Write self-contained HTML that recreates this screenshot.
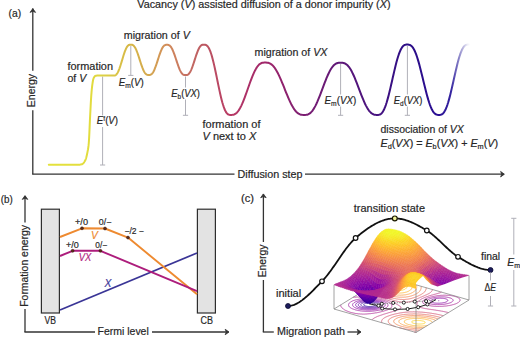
<!DOCTYPE html><html><head><meta charset="utf-8"><style>html,body{margin:0;padding:0;background:#fff;}svg{display:block;}</style></head><body><svg width="520" height="337" viewBox="0 0 520 337" font-family="Liberation Sans, sans-serif">
<rect width="520" height="337" fill="#ffffff"/>
<text x="8.6" y="17.2" font-size="10.3" fill="#262626" stroke="#262626" stroke-width="0.18" text-anchor="start" textLength="12.6" lengthAdjust="spacingAndGlyphs" >(a)</text>
<text x="137.3" y="8.0" font-size="10.3" fill="#262626" stroke="#262626" stroke-width="0.18" text-anchor="start" textLength="253.2" lengthAdjust="spacingAndGlyphs" >Vacancy (<tspan font-style="italic">V</tspan>) assisted diffusion of a donor impurity (<tspan font-style="italic">X</tspan>)</text>
<line x1="32.8" y1="174.2" x2="32.8" y2="110.3" stroke="#333333" stroke-width="1.3" />
<line x1="32.8" y1="70.8" x2="32.8" y2="8.6" stroke="#333333" stroke-width="1.3" />
<path d="M30.049999999999997,12.399999999999999 L32.8,8.6 L35.55,12.399999999999999 L32.8,11.3 Z" fill="#333333" stroke="#333333" stroke-width="0.8" stroke-linejoin="round"/>
<text transform="translate(34.9,107.2) rotate(-90)" x="0" y="0" font-size="10.3" fill="#262626" stroke="#262626" stroke-width="0.18" textLength="33.3" lengthAdjust="spacingAndGlyphs">Energy</text>
<line x1="32.2" y1="174.2" x2="234.5" y2="174.2" stroke="#333333" stroke-width="1.3" />
<line x1="305" y1="174.2" x2="503.6" y2="174.2" stroke="#333333" stroke-width="1.3" />
<path d="M500.59999999999997,171.45 L504.4,174.2 L500.59999999999997,176.95 L501.7,174.2 Z" fill="#333333" stroke="#333333" stroke-width="0.8" stroke-linejoin="round"/>
<text x="237.5" y="177.6" font-size="10.3" fill="#262626" stroke="#262626" stroke-width="0.18" text-anchor="start" textLength="65" lengthAdjust="spacingAndGlyphs" >Diffusion step</text>
<defs><linearGradient id="eg" gradientUnits="userSpaceOnUse" x1="48" y1="0" x2="470" y2="0"><stop offset="0.0024" stop-color="#e4e23c"/><stop offset="0.0995" stop-color="#e2dc3e"/><stop offset="0.1351" stop-color="#dccf46"/><stop offset="0.1943" stop-color="#d6b646"/><stop offset="0.2393" stop-color="#d4a850"/><stop offset="0.2820" stop-color="#d28c5a"/><stop offset="0.3246" stop-color="#c67262"/><stop offset="0.3697" stop-color="#bc5862"/><stop offset="0.4313" stop-color="#b83a64"/><stop offset="0.5142" stop-color="#a0266a"/><stop offset="0.6066" stop-color="#7c1e72"/><stop offset="0.6919" stop-color="#5e1878"/><stop offset="0.7796" stop-color="#461280"/><stop offset="0.8507" stop-color="#2c0e86"/><stop offset="0.9265" stop-color="#2a0e94"/><stop offset="0.9550" stop-color="#3424a0"/><stop offset="0.9739" stop-color="#8a84c8"/><stop offset="0.9953" stop-color="#f4f4fa"/></linearGradient></defs>
<line x1="102.6" y1="76.5" x2="102.6" y2="115.4" stroke="#b0b0b8" stroke-width="1.0" />
<line x1="102.6" y1="127" x2="102.6" y2="165" stroke="#b0b0b8" stroke-width="1.0" />
<line x1="100.0" y1="165" x2="105.19999999999999" y2="165" stroke="#b0b0b8" stroke-width="1.0" />
<line x1="130.8" y1="46" x2="130.8" y2="75.4" stroke="#b0b0b8" stroke-width="1.0" />
<line x1="128.20000000000002" y1="75.4" x2="133.4" y2="75.4" stroke="#b0b0b8" stroke-width="1.0" />
<line x1="185.5" y1="76.5" x2="185.5" y2="87.5" stroke="#b0b0b8" stroke-width="1.0" />
<line x1="185.5" y1="99.5" x2="185.5" y2="115.3" stroke="#b0b0b8" stroke-width="1.0" />
<line x1="182.9" y1="115.3" x2="188.1" y2="115.3" stroke="#b0b0b8" stroke-width="1.0" />
<line x1="340.6" y1="64" x2="340.6" y2="94.5" stroke="#b0b0b8" stroke-width="1.0" />
<line x1="340.6" y1="106.5" x2="340.6" y2="115.3" stroke="#b0b0b8" stroke-width="1.0" />
<line x1="338.0" y1="115.3" x2="343.20000000000005" y2="115.3" stroke="#b0b0b8" stroke-width="1.0" />
<line x1="407.4" y1="46" x2="407.4" y2="94.5" stroke="#b0b0b8" stroke-width="1.0" />
<line x1="407.4" y1="106.5" x2="407.4" y2="115.3" stroke="#b0b0b8" stroke-width="1.0" />
<line x1="404.79999999999995" y1="115.3" x2="410.0" y2="115.3" stroke="#b0b0b8" stroke-width="1.0" />
<path d="M48.80,164.80 L49.05,164.80 L49.30,164.80 L49.55,164.80 L49.80,164.80 L50.05,164.80 L50.30,164.80 L50.55,164.80 L50.80,164.80 L51.05,164.80 L51.30,164.80 L51.55,164.80 L51.80,164.80 L52.05,164.80 L52.30,164.80 L52.55,164.80 L52.80,164.80 L53.05,164.80 L53.30,164.80 L53.55,164.80 L53.80,164.80 L54.05,164.80 L54.30,164.80 L54.55,164.80 L54.80,164.80 L55.05,164.80 L55.29,164.80 L55.54,164.80 L55.79,164.80 L56.04,164.80 L56.29,164.80 L56.54,164.80 L56.79,164.80 L57.04,164.80 L57.29,164.80 L57.54,164.80 L57.79,164.80 L58.04,164.80 L58.29,164.80 L58.54,164.80 L58.79,164.80 L59.04,164.80 L59.29,164.80 L59.54,164.80 L59.79,164.80 L60.04,164.80 L60.29,164.80 L60.54,164.80 L60.79,164.80 L61.04,164.80 L61.29,164.80 L61.54,164.80 L61.79,164.80 L62.04,164.80 L62.29,164.80 L62.54,164.80 L62.79,164.80 L63.04,164.80 L63.29,164.80 L63.54,164.80 L63.79,164.80 L64.04,164.80 L64.29,164.80 L64.54,164.80 L64.79,164.80 L65.04,164.80 L65.29,164.80 L65.54,164.80 L65.79,164.80 L66.04,164.80 L66.29,164.80 L66.54,164.80 L66.79,164.80 L67.04,164.80 L67.29,164.80 L67.54,164.80 L67.79,164.80 L68.04,164.80 L68.28,164.80 L68.53,164.80 L68.78,164.80 L69.03,164.80 L69.28,164.80 L69.53,164.80 L69.78,164.80 L70.03,164.80 L70.28,164.80 L70.53,164.80 L70.78,164.80 L71.03,164.80 L71.28,164.80 L71.53,164.80 L71.78,164.80 L72.03,164.80 L72.28,164.80 L72.53,164.80 L72.78,164.80 L73.03,164.80 L73.28,164.80 L73.53,164.80 L73.78,164.80 L74.03,164.80 L74.28,164.80 L74.53,164.80 L74.78,164.80 L75.03,164.80 L75.28,164.80 L75.53,164.80 L75.78,164.80 L76.03,164.80 L76.28,164.80 L76.53,164.80 L76.78,164.80 L77.03,164.80 L77.28,164.80 L77.53,164.80 L77.78,164.80 L78.03,164.80 L78.28,164.80 L78.53,164.79 L78.78,164.77 L79.03,164.76 L79.28,164.73 L79.53,164.70 L79.78,164.67 L80.03,164.63 L80.28,164.59 L80.53,164.55 L80.78,164.50 L81.03,164.44 L81.27,164.38 L81.52,164.32 L81.77,164.26 L82.02,164.19 L82.27,164.10 L82.52,163.96 L82.77,163.78 L83.02,163.57 L83.27,163.32 L83.52,163.03 L83.77,162.71 L84.02,162.37 L84.27,161.99 L84.52,161.59 L84.77,161.16 L85.02,160.71 L85.27,160.25 L85.52,159.75 L85.77,159.12 L86.02,158.36 L86.27,157.48 L86.52,156.51 L86.77,155.45 L87.02,154.32 L87.27,153.13 L87.52,151.90 L87.77,150.62 L88.02,149.22 L88.27,147.59 L88.52,145.65 L88.77,143.26 L89.02,139.63 L89.27,134.84 L89.52,129.36 L89.77,123.63 L90.02,118.12 L90.27,113.22 L90.52,108.41 L90.77,103.64 L91.02,99.21 L91.27,95.43 L91.52,92.31 L91.77,89.51 L92.02,87.07 L92.27,85.04 L92.52,83.32 L92.77,81.73 L93.02,80.34 L93.27,79.23 L93.52,78.46 L93.77,77.90 L94.02,77.40 L94.26,76.96 L94.51,76.59 L94.76,76.30 L95.01,76.10 L95.26,75.98 L95.51,75.88 L95.76,75.80 L96.01,75.73 L96.26,75.68 L96.51,75.63 L96.76,75.61 L97.01,75.60 L97.26,75.60 L97.51,75.60 L97.76,75.60 L98.01,75.60 L98.26,75.60 L98.51,75.60 L98.76,75.60 L99.01,75.60 L99.26,75.60 L99.51,75.60 L99.76,75.60 L100.01,75.60 L100.26,75.60 L100.51,75.60 L100.76,75.60 L101.01,75.60 L101.26,75.60 L101.51,75.60 L101.76,75.60 L102.01,75.60 L102.26,75.60 L102.51,75.60 L102.76,75.60 L103.01,75.60 L103.26,75.60 L103.51,75.60 L103.76,75.60 L104.01,75.60 L104.26,75.60 L104.51,75.60 L104.76,75.60 L105.01,75.60 L105.26,75.60 L105.51,75.60 L105.76,75.60 L106.01,75.60 L106.26,75.60 L106.51,75.60 L106.76,75.60 L107.01,75.60 L107.25,75.60 L107.50,75.60 L107.75,75.60 L108.00,75.60 L108.25,75.60 L108.50,75.60 L108.75,75.60 L109.00,75.60 L109.25,75.60 L109.50,75.60 L109.75,75.60 L110.00,75.60 L110.25,75.60 L110.50,75.60 L110.75,75.60 L111.00,75.60 L111.25,75.60 L111.50,75.60 L111.75,75.60 L112.00,75.60 L112.25,75.60 L112.50,75.60 L112.75,75.60 L113.00,75.60 L113.25,75.60 L113.50,75.60 L113.94,75.59 L114.38,75.56 L114.82,75.48 L115.26,75.32 L115.71,75.07 L116.15,74.72 L116.59,74.26 L117.03,73.69 L117.47,73.00 L117.91,72.19 L118.35,71.27 L118.79,70.24 L119.23,69.11 L119.67,67.90 L120.12,66.60 L120.56,65.24 L121.00,63.82 L121.44,62.37 L121.88,60.89 L122.32,59.41 L122.76,57.93 L123.20,56.48 L123.64,55.06 L124.08,53.70 L124.53,52.40 L124.97,51.19 L125.41,50.06 L125.85,49.03 L126.29,48.11 L126.73,47.30 L127.17,46.61 L127.61,46.04 L128.05,45.58 L128.49,45.23 L128.94,44.98 L129.38,44.82 L129.82,44.74 L130.26,44.71 L130.70,44.70 L131.16,44.70 L131.63,44.74 L132.09,44.82 L132.56,44.98 L133.02,45.22 L133.48,45.56 L133.95,46.01 L134.41,46.58 L134.88,47.25 L135.34,48.04 L135.81,48.95 L136.27,49.95 L136.73,51.06 L137.20,52.25 L137.66,53.52 L138.13,54.86 L138.59,56.25 L139.05,57.67 L139.52,59.12 L139.98,60.58 L140.45,62.03 L140.91,63.45 L141.37,64.84 L141.84,66.18 L142.30,67.45 L142.77,68.64 L143.23,69.75 L143.69,70.75 L144.16,71.66 L144.62,72.45 L145.09,73.12 L145.55,73.69 L146.02,74.14 L146.48,74.48 L146.94,74.72 L147.41,74.88 L147.87,74.96 L148.34,75.00 L148.80,75.00 L149.26,75.00 L149.73,74.96 L150.19,74.88 L150.66,74.72 L151.12,74.48 L151.58,74.14 L152.05,73.69 L152.51,73.13 L152.98,72.45 L153.44,71.67 L153.91,70.77 L154.37,69.76 L154.83,68.66 L155.30,67.47 L155.76,66.21 L156.23,64.87 L156.69,63.49 L157.15,62.07 L157.62,60.63 L158.08,59.17 L158.55,57.73 L159.01,56.31 L159.47,54.93 L159.94,53.59 L160.40,52.33 L160.87,51.14 L161.33,50.04 L161.79,49.03 L162.26,48.13 L162.72,47.35 L163.19,46.67 L163.65,46.11 L164.12,45.66 L164.58,45.32 L165.04,45.08 L165.51,44.92 L165.97,44.84 L166.44,44.80 L166.90,44.80 L167.38,44.80 L167.86,44.84 L168.34,44.92 L168.82,45.08 L169.30,45.32 L169.78,45.66 L170.26,46.11 L170.74,46.68 L171.22,47.35 L171.69,48.14 L172.17,49.05 L172.65,50.05 L173.13,51.16 L173.61,52.35 L174.09,53.62 L174.57,54.96 L175.05,56.35 L175.53,57.77 L176.01,59.22 L176.49,60.68 L176.97,62.13 L177.45,63.55 L177.93,64.94 L178.41,66.28 L178.89,67.55 L179.37,68.74 L179.85,69.85 L180.33,70.85 L180.81,71.76 L181.28,72.55 L181.76,73.22 L182.24,73.79 L182.72,74.24 L183.20,74.58 L183.68,74.82 L184.16,74.98 L184.64,75.06 L185.12,75.10 L185.60,75.10 L186.07,75.10 L186.53,75.06 L187.00,74.98 L187.47,74.82 L187.93,74.58 L188.40,74.23 L188.87,73.78 L189.33,73.22 L189.80,72.54 L190.27,71.74 L190.73,70.84 L191.20,69.83 L191.67,68.72 L192.13,67.52 L192.60,66.25 L193.07,64.91 L193.53,63.51 L194.00,62.08 L194.47,60.63 L194.93,59.17 L195.40,57.72 L195.87,56.29 L196.33,54.89 L196.80,53.55 L197.27,52.28 L197.73,51.08 L198.20,49.97 L198.67,48.96 L199.13,48.06 L199.60,47.26 L200.07,46.58 L200.53,46.02 L201.00,45.57 L201.47,45.22 L201.93,44.98 L202.40,44.82 L202.87,44.74 L203.33,44.70 L203.80,44.70 L204.49,44.71 L205.18,44.79 L205.87,44.98 L206.56,45.35 L207.25,45.91 L207.94,46.70 L208.63,47.74 L209.32,49.05 L210.01,50.62 L210.70,52.45 L211.39,54.54 L212.08,56.87 L212.77,59.43 L213.46,62.20 L214.15,65.14 L214.84,68.24 L215.53,71.45 L216.22,74.76 L216.91,78.11 L217.59,81.49 L218.28,84.84 L218.97,88.15 L219.66,91.36 L220.35,94.46 L221.04,97.40 L221.73,100.17 L222.42,102.73 L223.11,105.06 L223.80,107.15 L224.49,108.98 L225.18,110.55 L225.87,111.86 L226.56,112.90 L227.25,113.69 L227.94,114.25 L228.63,114.62 L229.32,114.81 L230.01,114.89 L230.70,114.90 L231.58,114.89 L232.46,114.83 L233.34,114.69 L234.22,114.42 L235.10,114.00 L235.98,113.41 L236.86,112.63 L237.74,111.66 L238.62,110.49 L239.49,109.13 L240.37,107.57 L241.25,105.83 L242.13,103.92 L243.01,101.86 L243.89,99.67 L244.77,97.36 L245.65,94.97 L246.53,92.51 L247.41,90.01 L248.29,87.49 L249.17,84.99 L250.05,82.53 L250.93,80.14 L251.81,77.83 L252.69,75.64 L253.57,73.58 L254.45,71.67 L255.33,69.93 L256.21,68.37 L257.08,67.01 L257.96,65.84 L258.84,64.87 L259.72,64.09 L260.60,63.50 L261.48,63.08 L262.36,62.81 L263.24,62.67 L264.12,62.61 L265.00,62.60 L266.01,62.61 L267.01,62.67 L268.02,62.81 L269.02,63.08 L270.03,63.50 L271.03,64.09 L272.04,64.87 L273.04,65.84 L274.05,67.01 L275.05,68.37 L276.06,69.93 L277.06,71.67 L278.07,73.58 L279.07,75.64 L280.08,77.83 L281.08,80.14 L282.09,82.53 L283.09,84.99 L284.10,87.49 L285.10,90.01 L286.11,92.51 L287.11,94.97 L288.12,97.36 L289.12,99.67 L290.13,101.86 L291.13,103.92 L292.14,105.83 L293.14,107.57 L294.15,109.13 L295.15,110.49 L296.16,111.66 L297.16,112.63 L298.17,113.41 L299.17,114.00 L300.18,114.42 L301.18,114.69 L302.19,114.83 L303.19,114.89 L304.20,114.90 L305.13,114.89 L306.07,114.84 L307.00,114.69 L307.93,114.42 L308.87,114.00 L309.80,113.41 L310.73,112.64 L311.67,111.67 L312.60,110.51 L313.53,109.15 L314.47,107.60 L315.40,105.87 L316.33,103.97 L317.27,101.91 L318.20,99.73 L319.13,97.43 L320.07,95.04 L321.00,92.59 L321.93,90.10 L322.87,87.60 L323.80,85.11 L324.73,82.66 L325.67,80.27 L326.60,77.97 L327.53,75.79 L328.47,73.73 L329.40,71.83 L330.33,70.10 L331.27,68.55 L332.20,67.19 L333.13,66.03 L334.07,65.06 L335.00,64.29 L335.93,63.70 L336.87,63.28 L337.80,63.01 L338.73,62.86 L339.67,62.81 L340.60,62.80 L341.54,62.81 L342.49,62.86 L343.43,63.01 L344.37,63.28 L345.32,63.70 L346.26,64.29 L347.21,65.06 L348.15,66.03 L349.09,67.19 L350.04,68.55 L350.98,70.10 L351.92,71.83 L352.87,73.73 L353.81,75.79 L354.75,77.97 L355.70,80.27 L356.64,82.66 L357.58,85.11 L358.53,87.60 L359.47,90.10 L360.42,92.59 L361.36,95.04 L362.30,97.43 L363.25,99.73 L364.19,101.91 L365.13,103.97 L366.08,105.87 L367.02,107.60 L367.96,109.15 L368.91,110.51 L369.85,111.67 L370.79,112.64 L371.74,113.41 L372.68,114.00 L373.63,114.42 L374.57,114.69 L375.51,114.84 L376.46,114.89 L377.40,114.90 L378.16,114.89 L378.93,114.81 L379.69,114.62 L380.46,114.25 L381.22,113.69 L381.98,112.89 L382.75,111.85 L383.51,110.55 L384.28,108.98 L385.04,107.14 L385.81,105.05 L386.57,102.71 L387.33,100.15 L388.10,97.38 L388.86,94.43 L389.63,91.33 L390.39,88.11 L391.15,84.80 L391.92,81.44 L392.68,78.06 L393.45,74.70 L394.21,71.39 L394.97,68.17 L395.74,65.07 L396.50,62.12 L397.27,59.35 L398.03,56.79 L398.79,54.45 L399.56,52.36 L400.32,50.52 L401.09,48.95 L401.85,47.65 L402.62,46.61 L403.38,45.81 L404.14,45.25 L404.91,44.88 L405.67,44.69 L406.44,44.61 L407.20,44.60 L408.02,44.61 L408.83,44.69 L409.65,44.88 L410.46,45.25 L411.28,45.81 L412.09,46.61 L412.91,47.65 L413.72,48.95 L414.54,50.52 L415.35,52.36 L416.17,54.45 L416.98,56.79 L417.80,59.35 L418.62,62.12 L419.43,65.07 L420.25,68.17 L421.06,71.39 L421.88,74.70 L422.69,78.06 L423.51,81.44 L424.32,84.80 L425.14,88.11 L425.95,91.33 L426.77,94.43 L427.58,97.38 L428.40,100.15 L429.22,102.71 L430.03,105.05 L430.85,107.14 L431.66,108.98 L432.48,110.55 L433.29,111.85 L434.11,112.89 L434.92,113.69 L435.74,114.25 L436.55,114.62 L437.37,114.81 L438.18,114.89 L439.00,114.90 L439.76,114.89 L440.51,114.81 L441.27,114.62 L442.03,114.25 L442.78,113.69 L443.54,112.89 L444.29,111.85 L445.05,110.55 L445.81,108.98 L446.56,107.14 L447.32,105.05 L448.08,102.71 L448.83,100.15 L449.59,97.38 L450.35,94.43 L451.10,91.33 L451.86,88.11 L452.62,84.80 L453.37,81.44 L454.13,78.06 L454.88,74.70 L455.64,71.39 L456.40,68.17 L457.15,65.07 L457.91,62.12 L458.67,59.35 L459.42,56.79 L460.18,54.45 L460.94,52.36 L461.69,50.52 L462.45,48.95 L463.21,47.65 L463.96,46.61 L464.72,45.81 L465.47,45.25 L466.23,44.88 L466.99,44.69 L467.74,44.61 L468.50,44.60" fill="none" stroke="url(#eg)" stroke-width="2.0" stroke-linejoin="round" stroke-linecap="round"/>
<text x="67.5" y="70.1" font-size="10.3" fill="#262626" stroke="#262626" stroke-width="0.18" text-anchor="start" textLength="45.5" lengthAdjust="spacingAndGlyphs" >formation</text>
<text x="67.5" y="81.5" font-size="10.3" fill="#262626" stroke="#262626" stroke-width="0.18" text-anchor="start" textLength="18.8" lengthAdjust="spacingAndGlyphs" >of <tspan font-style="italic">V</tspan></text>
<text x="123.8" y="38.9" font-size="10.3" fill="#262626" stroke="#262626" stroke-width="0.18" text-anchor="start" textLength="66" lengthAdjust="spacingAndGlyphs" >migration of <tspan font-style="italic">V</tspan></text>
<text x="118.8" y="86.4" font-size="10.3" fill="#262626" stroke="#262626" stroke-width="0.18" text-anchor="start" textLength="25" lengthAdjust="spacingAndGlyphs" ><tspan font-style="italic">E</tspan><tspan font-size="7" dy="2">m</tspan><tspan dy="-2">(</tspan><tspan font-style="italic">V</tspan>)</text>
<text x="96.8" y="124.3" font-size="10.3" fill="#262626" stroke="#262626" stroke-width="0.18" text-anchor="start" textLength="21.3" lengthAdjust="spacingAndGlyphs" ><tspan font-style="italic">E</tspan><tspan font-size="7" dy="-3.5">f</tspan><tspan dy="3.5">(</tspan><tspan font-style="italic">V</tspan>)</text>
<text x="171.3" y="97.4" font-size="10.3" fill="#262626" stroke="#262626" stroke-width="0.18" text-anchor="start" textLength="28.7" lengthAdjust="spacingAndGlyphs" ><tspan font-style="italic">E</tspan><tspan font-size="7" dy="2">b</tspan><tspan dy="-2">(</tspan><tspan font-style="italic">VX</tspan>)</text>
<text x="202.5" y="128.2" font-size="10.3" fill="#262626" stroke="#262626" stroke-width="0.18" text-anchor="start" textLength="58" lengthAdjust="spacingAndGlyphs" >formation of</text>
<text x="202.5" y="140.2" font-size="10.3" fill="#262626" stroke="#262626" stroke-width="0.18" text-anchor="start" textLength="53.8" lengthAdjust="spacingAndGlyphs" ><tspan font-style="italic">V</tspan> next to <tspan font-style="italic">X</tspan></text>
<text x="254.5" y="55.9" font-size="10.3" fill="#262626" stroke="#262626" stroke-width="0.18" text-anchor="start" textLength="73" lengthAdjust="spacingAndGlyphs" >migration of <tspan font-style="italic">VX</tspan></text>
<text x="324.5" y="104.4" font-size="10.3" fill="#262626" stroke="#262626" stroke-width="0.18" text-anchor="start" textLength="31.8" lengthAdjust="spacingAndGlyphs" ><tspan font-style="italic">E</tspan><tspan font-size="7" dy="2">m</tspan><tspan dy="-2">(</tspan><tspan font-style="italic">VX</tspan>)</text>
<text x="393.8" y="104.4" font-size="10.3" fill="#262626" stroke="#262626" stroke-width="0.18" text-anchor="start" textLength="28.7" lengthAdjust="spacingAndGlyphs" ><tspan font-style="italic">E</tspan><tspan font-size="7" dy="2">d</tspan><tspan dy="-2">(</tspan><tspan font-style="italic">VX</tspan>)</text>
<text x="380.5" y="133.1" font-size="10.3" fill="#262626" stroke="#262626" stroke-width="0.18" text-anchor="start" textLength="83.3" lengthAdjust="spacingAndGlyphs" >dissociation of <tspan font-style="italic">VX</tspan></text>
<text x="380.5" y="146.6" font-size="10.3" fill="#262626" stroke="#262626" stroke-width="0.18" text-anchor="start" textLength="117.5" lengthAdjust="spacingAndGlyphs" ><tspan font-style="italic">E</tspan><tspan font-size="7" dy="2">d</tspan><tspan dy="-2">(</tspan><tspan font-style="italic">VX</tspan>) = <tspan font-style="italic">E</tspan><tspan font-size="7" dy="2">b</tspan><tspan dy="-2">(</tspan><tspan font-style="italic">VX</tspan>) + <tspan font-style="italic">E</tspan><tspan font-size="7" dy="2">m</tspan><tspan dy="-2">(</tspan><tspan font-style="italic">V</tspan>)</text>
<text x="0.8" y="203" font-size="10.3" fill="#262626" stroke="#262626" stroke-width="0.18" text-anchor="start" textLength="12" lengthAdjust="spacingAndGlyphs" >(b)</text>
<line x1="25" y1="332" x2="25" y2="309" stroke="#333333" stroke-width="1.3" />
<line x1="25" y1="222.5" x2="25" y2="196" stroke="#333333" stroke-width="1.3" />
<path d="M22.25,199.4 L25,195.6 L27.75,199.4 L25,198.29999999999998 Z" fill="#333333" stroke="#333333" stroke-width="0.8" stroke-linejoin="round"/>
<text transform="translate(27.5,306.8) rotate(-90)" x="0" y="0" font-size="10.3" fill="#262626" stroke="#262626" stroke-width="0.18" textLength="81.80000000000001" lengthAdjust="spacingAndGlyphs">Formation energy</text>
<line x1="24.4" y1="332" x2="95" y2="332" stroke="#333333" stroke-width="1.3" />
<text x="97.5" y="335.4" font-size="10.3" fill="#262626" stroke="#262626" stroke-width="0.18" text-anchor="start" textLength="51.3" lengthAdjust="spacingAndGlyphs" >Fermi level</text>
<line x1="152" y1="332" x2="228.6" y2="332" stroke="#333333" stroke-width="1.3" />
<path d="M225.2,329.25 L229,332 L225.2,334.75 L226.3,332 Z" fill="#333333" stroke="#333333" stroke-width="0.8" stroke-linejoin="round"/>
<rect x="41.4" y="209.2" width="18" height="103.8" fill="#e3e3e3" stroke="#2e2e2e" stroke-width="1.2"/>
<rect x="197.4" y="209.2" width="18" height="103.8" fill="#e3e3e3" stroke="#2e2e2e" stroke-width="1.2"/>
<text x="44.5" y="324" font-size="10.3" fill="#262626" stroke="#262626" stroke-width="0.18" text-anchor="start" textLength="11.5" lengthAdjust="spacingAndGlyphs" >VB</text>
<text x="200.5" y="324" font-size="10.3" fill="#262626" stroke="#262626" stroke-width="0.18" text-anchor="start" textLength="12.5" lengthAdjust="spacingAndGlyphs" >CB</text>
<polyline points="60,310 197,253" fill="none" stroke="#3a3596" stroke-width="1.7"/>
<polyline points="60,237 82,228.3 105,228.5 128,237.6 197,294.2" fill="none" stroke="#ee8a30" stroke-width="1.9" stroke-linejoin="round"/>
<polyline points="60,256 72.6,250.8 100.4,250.8 197,291.2" fill="none" stroke="#ad1d7c" stroke-width="1.9" stroke-linejoin="round"/>
<circle cx="82" cy="228.3" r="1.5" fill="#5a2a1a" stroke="#3a1a10" stroke-width="0.5"/>
<circle cx="105" cy="228.5" r="1.5" fill="#5a2a1a" stroke="#3a1a10" stroke-width="0.5"/>
<circle cx="128" cy="237.6" r="1.5" fill="#5a2a1a" stroke="#3a1a10" stroke-width="0.5"/>
<circle cx="72.6" cy="250.8" r="1.5" fill="#5a2a1a" stroke="#3a1a10" stroke-width="0.5"/>
<circle cx="100.4" cy="250.8" r="1.5" fill="#5a2a1a" stroke="#3a1a10" stroke-width="0.5"/>
<text x="75" y="224.6" font-size="8.7" fill="#262626" stroke="#262626" stroke-width="0.18" text-anchor="start" textLength="13" lengthAdjust="spacingAndGlyphs" >+/0</text>
<text x="98.8" y="224.6" font-size="8.7" fill="#262626" stroke="#262626" stroke-width="0.18" text-anchor="start" textLength="12.5" lengthAdjust="spacingAndGlyphs" >0/−</text>
<text x="65.9" y="247.6" font-size="8.7" fill="#262626" stroke="#262626" stroke-width="0.18" text-anchor="start" textLength="12.8" lengthAdjust="spacingAndGlyphs" >+/0</text>
<text x="95.3" y="247.6" font-size="8.7" fill="#262626" stroke="#262626" stroke-width="0.18" text-anchor="start" textLength="11.8" lengthAdjust="spacingAndGlyphs" >0/−</text>
<text x="124.5" y="233.8" font-size="8.7" fill="#262626" stroke="#262626" stroke-width="0.18" text-anchor="start" textLength="19.3" lengthAdjust="spacingAndGlyphs" >−/2 −</text>
<text x="91.0" y="238.9" font-size="10.3" fill="#ee8a30" stroke="#ee8a30" stroke-width="0.18" text-anchor="start" font-style="italic">V</text>
<text x="78.8" y="261" font-size="10.3" fill="#b21e82" stroke="#b21e82" stroke-width="0.18" text-anchor="start" textLength="12.5" lengthAdjust="spacingAndGlyphs" font-style="italic">VX</text>
<text x="104.5" y="286.6" font-size="10.3" fill="#3a3596" stroke="#3a3596" stroke-width="0.18" text-anchor="start" font-style="italic">X</text>
<text x="241" y="202.3" font-size="10.3" fill="#262626" stroke="#262626" stroke-width="0.18" text-anchor="start" textLength="13" lengthAdjust="spacingAndGlyphs" >(c)</text>
<line x1="263.4" y1="332" x2="263.4" y2="280" stroke="#333333" stroke-width="1.3" />
<line x1="263.4" y1="242" x2="263.4" y2="194.2" stroke="#333333" stroke-width="1.3" />
<path d="M260.65,197.70000000000002 L263.4,193.9 L266.15,197.70000000000002 L263.4,196.6 Z" fill="#333333" stroke="#333333" stroke-width="0.8" stroke-linejoin="round"/>
<text transform="translate(265.8,277.3) rotate(-90)" x="0" y="0" font-size="10.3" fill="#262626" stroke="#262626" stroke-width="0.18" textLength="32.80000000000001" lengthAdjust="spacingAndGlyphs">Energy</text>
<line x1="262.8" y1="332" x2="273.8" y2="332" stroke="#333333" stroke-width="1.3" />
<text x="277" y="335.4" font-size="10.3" fill="#262626" stroke="#262626" stroke-width="0.18" text-anchor="start" textLength="68" lengthAdjust="spacingAndGlyphs" >Migration path</text>
<line x1="347.5" y1="332" x2="360.6" y2="332" stroke="#333333" stroke-width="1.3" />
<path d="M357.2,329.25 L361,332 L357.2,334.75 L358.3,332 Z" fill="#333333" stroke="#333333" stroke-width="0.8" stroke-linejoin="round"/>
<g fill="none" stroke-width="0.9" opacity="0.9">
<path d="M375.5,304.7 L375.5,304.6 L375.4,304.4 L375.4,304.3 L375.2,304.1 L375.1,304.0 L375.0,303.9 L374.7,303.7 L374.3,303.6 L374.1,303.5 L373.9,303.4 L373.5,303.3 L373.2,303.2 L373.1,303.2 L372.6,303.1 L372.2,303.0 L371.7,303.0 L371.4,302.9 L371.1,302.9 L370.6,302.9 L370.3,302.9 L370.0,302.9 L369.4,302.9 L369.4,302.9 L368.8,302.9 L368.7,302.9 L368.1,302.9 L368.0,302.9 L367.4,303.0 L367.3,303.0 L366.9,303.1 L366.5,303.2 L366.4,303.2 L365.9,303.3 L365.5,303.4 L365.5,303.4 L365.1,303.5 L364.8,303.7 L364.5,303.8 L364.2,304.0 L364.0,304.2 L363.8,304.4 L363.8,304.5 L363.7,304.6 L363.7,304.8 L363.7,304.9 L363.8,305.1 L363.9,305.1 L364.1,305.4 L364.1,305.4 L364.4,305.6 L364.7,305.7 L365.1,305.9 L365.5,306.0 L365.9,306.1 L366.3,306.2 L366.8,306.3 L367.3,306.4 L367.7,306.4 L367.8,306.4 L368.3,306.5 L368.8,306.5 L368.9,306.5 L369.5,306.5 L369.6,306.5 L370.1,306.5 L370.4,306.5 L370.8,306.5 L371.0,306.4 L371.5,306.4 L371.7,306.4 L372.2,306.3 L372.3,306.3 L372.7,306.2 L373.2,306.1 L373.2,306.1 L373.6,306.0 L374.0,305.8 L374.4,305.7 L374.7,305.6 L374.9,305.4 L375.2,305.2 L375.3,305.0 L375.4,304.8 L375.5,304.7" stroke="#2f0596"/>
<path d="M377.4,305.7 L377.5,305.7 L377.7,305.5 L377.9,305.3 L378.0,305.1 L378.1,304.9 L378.1,304.9 L378.2,304.6 L378.2,304.5 L378.1,304.4 L378.1,304.2 L378.0,304.1 L377.9,304.0 L377.7,303.8 L377.6,303.7 L377.4,303.5 L377.1,303.4 L377.1,303.4 L376.7,303.2 L376.4,303.0 L376.0,302.9 L375.6,302.8 L375.2,302.7 L374.8,302.5 L374.3,302.4 L373.9,302.4 L373.4,302.3 L373.2,302.3 L372.9,302.2 L372.4,302.2 L371.9,302.1 L371.8,302.1 L371.3,302.1 L370.8,302.0 L370.7,302.0 L370.2,302.0 L369.8,302.0 L369.6,302.0 L369.0,302.0 L369.0,302.0 L368.3,302.0 L368.3,302.0 L367.7,302.1 L367.6,302.1 L366.9,302.1 L366.9,302.1 L366.3,302.2 L366.2,302.2 L365.8,302.3 L365.4,302.4 L365.3,302.4 L364.8,302.5 L364.5,302.5 L364.3,302.6 L363.9,302.7 L363.4,302.8 L363.4,302.8 L363.1,302.9 L362.7,303.1 L362.4,303.2 L362.1,303.4 L361.8,303.5 L361.5,303.7 L361.3,303.9 L361.1,304.1 L361.0,304.3 L361.0,304.3 L360.9,304.5 L360.8,304.7 L360.8,304.8 L360.9,305.0 L360.9,305.1 L361.0,305.2 L361.1,305.4 L361.2,305.5 L361.3,305.6 L361.5,305.8 L361.6,305.9 L361.8,306.0 L362.1,306.2 L362.5,306.4 L362.7,306.4 L362.9,306.5 L363.3,306.6 L363.7,306.8 L364.1,306.9 L364.5,306.9 L364.5,307.0 L365.0,307.1 L365.5,307.1 L366.0,307.2 L366.3,307.2 L366.5,307.3 L367.0,307.3 L367.5,307.3 L367.5,307.3 L368.1,307.4 L368.5,307.4 L368.7,307.4 L369.3,307.4 L369.4,307.4 L369.9,307.4 L370.2,307.4 L370.5,307.4 L370.9,307.3 L371.2,307.3 L371.6,307.3 L371.9,307.3 L372.2,307.2 L372.6,307.2 L372.8,307.2 L373.3,307.1 L373.4,307.1 L373.8,307.0 L374.3,306.9 L374.3,306.9 L374.8,306.8 L375.2,306.7 L375.3,306.6 L375.6,306.6 L376.0,306.4 L376.4,306.3 L376.7,306.1 L377.0,306.0 L377.0,306.0 L377.3,305.8 L377.4,305.7" stroke="#4903a0"/>
<path d="M380.1,305.5 L380.2,305.5 L380.3,305.3 L380.4,305.1 L380.5,305.0 L380.5,304.8 L380.5,304.6 L380.5,304.6 L380.4,304.3 L380.4,304.3 L380.3,304.1 L380.3,304.0 L380.1,303.7 L380.1,303.7 L379.8,303.5 L379.7,303.4 L379.5,303.3 L379.3,303.1 L378.9,303.0 L378.9,302.9 L378.6,302.8 L378.2,302.6 L377.9,302.5 L377.5,302.4 L377.1,302.2 L376.7,302.1 L376.2,302.0 L375.8,301.9 L375.3,301.8 L374.9,301.7 L374.4,301.6 L374.4,301.6 L373.9,301.6 L373.4,301.5 L372.9,301.5 L372.9,301.4 L372.4,301.4 L371.9,301.4 L371.7,301.3 L371.3,301.3 L370.7,301.3 L370.7,301.3 L370.2,301.3 L369.8,301.3 L369.6,301.3 L369.0,301.3 L368.9,301.3 L368.3,301.3 L368.2,301.3 L367.7,301.3 L367.4,301.3 L367.0,301.4 L366.8,301.4 L366.3,301.4 L366.1,301.4 L365.6,301.5 L365.5,301.5 L364.9,301.6 L364.8,301.6 L364.4,301.7 L364.0,301.7 L363.9,301.7 L363.4,301.8 L363.1,301.9 L362.9,301.9 L362.4,302.1 L362.1,302.1 L362.0,302.2 L361.6,302.3 L361.2,302.4 L360.8,302.6 L360.8,302.6 L360.5,302.7 L360.2,302.8 L359.9,303.0 L359.6,303.2 L359.3,303.3 L359.1,303.5 L358.9,303.7 L358.7,303.9 L358.7,303.9 L358.5,304.0 L358.4,304.3 L358.3,304.5 L358.3,304.5 L358.3,304.7 L358.3,304.9 L358.3,304.9 L358.3,305.2 L358.3,305.2 L358.5,305.5 L358.5,305.5 L358.7,305.7 L358.7,305.8 L358.9,306.0 L359.1,306.1 L359.2,306.2 L359.4,306.4 L359.8,306.6 L359.8,306.6 L360.1,306.7 L360.4,306.9 L360.8,307.0 L361.2,307.2 L361.6,307.3 L362.0,307.4 L362.4,307.5 L362.9,307.6 L363.3,307.7 L363.8,307.8 L364.3,307.9 L364.4,307.9 L364.8,307.9 L365.3,308.0 L365.8,308.1 L365.8,308.1 L366.3,308.1 L366.9,308.1 L367.0,308.1 L367.4,308.2 L368.0,308.2 L368.0,308.2 L368.6,308.2 L368.8,308.2 L369.2,308.2 L369.7,308.2 L369.8,308.2 L370.4,308.2 L370.4,308.2 L371.1,308.1 L371.1,308.1 L371.7,308.1 L371.8,308.1 L372.5,308.0 L372.5,308.0 L373.1,308.0 L373.2,308.0 L373.6,307.9 L374.0,307.8 L374.2,307.8 L374.7,307.7 L374.8,307.7 L375.2,307.6 L375.7,307.5 L375.7,307.5 L376.2,307.4 L376.6,307.3 L376.7,307.3 L377.0,307.2 L377.4,307.1 L377.8,306.9 L378.0,306.9 L378.2,306.8 L378.5,306.7 L378.8,306.5 L379.1,306.4 L379.4,306.2 L379.6,306.0 L379.8,305.8 L380.0,305.7 L380.1,305.5" stroke="#6100a7"/>
<path d="M382.5,305.6 L382.6,305.4 L382.7,305.2 L382.7,305.1 L382.8,305.0 L382.8,304.8 L382.8,304.7 L382.8,304.5 L382.7,304.3 L382.7,304.3 L382.6,304.1 L382.5,304.0 L382.4,303.8 L382.3,303.7 L382.2,303.6 L381.9,303.3 L381.9,303.3 L381.7,303.1 L381.4,302.9 L381.4,302.9 L381.1,302.8 L380.7,302.6 L380.4,302.4 L380.3,302.4 L380.0,302.3 L379.7,302.1 L379.3,302.0 L378.9,301.9 L378.5,301.7 L378.1,301.6 L377.7,301.5 L377.2,301.4 L376.8,301.3 L376.3,301.2 L376.0,301.1 L375.9,301.1 L375.4,301.0 L374.9,301.0 L374.4,300.9 L374.2,300.9 L373.9,300.8 L373.4,300.8 L372.9,300.7 L372.8,300.7 L372.4,300.7 L371.8,300.6 L371.7,300.6 L371.3,300.6 L370.7,300.6 L370.6,300.6 L370.2,300.6 L369.7,300.5 L369.6,300.5 L369.0,300.5 L368.8,300.5 L368.4,300.5 L368.0,300.5 L367.7,300.6 L367.3,300.6 L367.1,300.6 L366.6,300.6 L366.4,300.6 L365.9,300.6 L365.7,300.7 L365.3,300.7 L365.0,300.7 L364.6,300.8 L364.3,300.8 L364.0,300.8 L363.5,300.9 L363.5,300.9 L362.9,301.0 L362.7,301.0 L362.4,301.1 L361.9,301.2 L361.8,301.2 L361.4,301.3 L361.0,301.4 L360.9,301.4 L360.5,301.5 L360.1,301.6 L359.8,301.7 L359.7,301.7 L359.3,301.9 L358.9,302.0 L358.6,302.1 L358.3,302.3 L358.2,302.3 L357.9,302.4 L357.6,302.6 L357.3,302.7 L357.1,302.9 L356.8,303.1 L356.6,303.2 L356.4,303.4 L356.4,303.5 L356.2,303.6 L356.0,303.8 L355.9,304.0 L355.8,304.2 L355.8,304.2 L355.7,304.4 L355.6,304.6 L355.6,304.7 L355.6,304.9 L355.6,305.0 L355.6,305.1 L355.7,305.3 L355.7,305.4 L355.8,305.6 L355.9,305.7 L356.0,305.9 L356.1,306.0 L356.2,306.1 L356.4,306.3 L356.5,306.3 L356.7,306.6 L357.0,306.7 L357.0,306.8 L357.3,306.9 L357.6,307.1 L357.9,307.2 L358.0,307.3 L358.3,307.4 L358.7,307.6 L359.1,307.7 L359.5,307.8 L359.9,308.0 L360.3,308.1 L360.7,308.2 L361.2,308.3 L361.6,308.4 L362.1,308.5 L362.5,308.5 L362.6,308.5 L363.0,308.6 L363.5,308.7 L364.0,308.8 L364.1,308.8 L364.5,308.8 L365.1,308.9 L365.4,308.9 L365.6,308.9 L366.1,309.0 L366.5,309.0 L366.7,309.0 L367.2,309.0 L367.5,309.0 L367.8,309.0 L368.4,309.0 L368.4,309.0 L369.0,309.0 L369.2,309.0 L369.6,309.0 L370.0,309.0 L370.3,309.0 L370.8,309.0 L370.9,309.0 L371.5,309.0 L371.6,308.9 L372.1,308.9 L372.3,308.9 L372.8,308.9 L373.0,308.8 L373.4,308.8 L373.7,308.8 L374.0,308.7 L374.5,308.7 L374.6,308.6 L375.1,308.6 L375.3,308.5 L375.6,308.5 L376.1,308.4 L376.1,308.4 L376.6,308.3 L377.0,308.2 L377.1,308.2 L377.6,308.1 L378.0,308.0 L378.1,307.9 L378.4,307.8 L378.8,307.7 L379.2,307.6 L379.3,307.6 L379.6,307.5 L380.0,307.3 L380.3,307.2 L380.6,307.0 L380.9,306.9 L381.2,306.7 L381.5,306.5 L381.7,306.4 L381.9,306.2 L382.1,306.0 L382.3,305.8 L382.5,305.6 L382.5,305.6" stroke="#7801a8"/>
<path d="M438.9,300.6 L438.7,300.7 L438.7,300.8 L439.1,300.8 L438.9,300.6" stroke="#7801a8"/>
<path d="M384.8,306.0 L384.9,305.9 L385.0,305.7 L385.1,305.5 L385.1,305.4 L385.2,305.2 L385.2,305.0 L385.2,305.0 L385.2,304.7 L385.2,304.7 L385.1,304.5 L385.1,304.4 L385.0,304.2 L385.0,304.1 L384.9,303.9 L384.8,303.8 L384.6,303.6 L384.6,303.6 L384.4,303.3 L384.3,303.3 L384.1,303.1 L383.8,302.9 L383.8,302.9 L383.5,302.7 L383.2,302.5 L383.0,302.4 L382.9,302.4 L382.6,302.2 L382.2,302.0 L381.9,301.9 L381.6,301.8 L381.5,301.7 L381.1,301.6 L380.7,301.5 L380.3,301.3 L379.9,301.2 L379.5,301.1 L379.1,301.0 L378.7,300.9 L378.2,300.8 L377.8,300.7 L377.6,300.7 L377.3,300.6 L376.9,300.5 L376.4,300.4 L375.9,300.3 L375.5,300.3 L375.4,300.3 L375.0,300.2 L374.5,300.1 L374.0,300.1 L373.9,300.1 L373.5,300.0 L372.9,300.0 L372.6,299.9 L372.4,299.9 L371.9,299.9 L371.4,299.8 L371.3,299.8 L370.8,299.8 L370.4,299.8 L370.2,299.8 L369.6,299.8 L369.4,299.7 L369.1,299.7 L368.6,299.7 L368.5,299.7 L367.9,299.7 L367.7,299.7 L367.2,299.7 L366.9,299.7 L366.6,299.8 L366.2,299.8 L366.0,299.8 L365.5,299.8 L365.3,299.8 L364.8,299.8 L364.6,299.9 L364.1,299.9 L363.9,299.9 L363.5,300.0 L363.2,300.0 L362.9,300.0 L362.5,300.1 L362.3,300.1 L361.7,300.2 L361.7,300.2 L361.2,300.3 L360.8,300.3 L360.7,300.4 L360.2,300.4 L360.0,300.5 L359.7,300.5 L359.2,300.7 L359.0,300.7 L358.8,300.8 L358.3,300.9 L358.0,301.0 L357.9,301.0 L357.5,301.1 L357.1,301.2 L356.7,301.4 L356.7,301.4 L356.4,301.5 L356.0,301.7 L355.7,301.8 L355.4,301.9 L355.1,302.1 L354.8,302.3 L354.5,302.4 L354.2,302.6 L354.0,302.7 L353.8,302.9 L353.6,303.1 L353.4,303.3 L353.2,303.5 L353.1,303.6 L353.0,303.7 L352.9,303.9 L352.8,304.1 L352.7,304.2 L352.7,304.3 L352.6,304.5 L352.6,304.6 L352.6,304.7 L352.6,305.0 L352.6,305.0 L352.6,305.2 L352.6,305.4 L352.7,305.5 L352.8,305.7 L352.8,305.8 L352.9,305.9 L353.0,306.1 L353.1,306.2 L353.3,306.4 L353.3,306.4 L353.5,306.7 L353.6,306.7 L353.8,306.9 L354.1,307.1 L354.1,307.1 L354.4,307.3 L354.7,307.4 L354.9,307.6 L355.0,307.6 L355.3,307.8 L355.7,307.9 L356.0,308.1 L356.4,308.2 L356.4,308.2 L356.8,308.4 L357.2,308.5 L357.6,308.6 L358.0,308.7 L358.4,308.9 L358.8,309.0 L359.3,309.1 L359.5,309.1 L359.7,309.2 L360.2,309.3 L360.6,309.3 L361.1,309.4 L361.6,309.5 L361.8,309.5 L362.1,309.6 L362.6,309.6 L363.1,309.7 L363.3,309.7 L363.6,309.8 L364.1,309.8 L364.5,309.8 L364.7,309.9 L365.2,309.9 L365.6,309.9 L365.7,309.9 L366.3,310.0 L366.6,310.0 L366.9,310.0 L367.5,310.0 L367.6,310.0 L368.0,310.0 L368.4,310.0 L368.6,310.0 L369.2,310.0 L369.3,310.0 L369.9,310.0 L370.0,310.0 L370.5,310.0 L370.8,309.9 L371.2,309.9 L371.5,309.9 L371.9,309.9 L372.1,309.9 L372.5,309.8 L372.8,309.8 L373.3,309.8 L373.4,309.8 L374.0,309.7 L374.0,309.7 L374.6,309.6 L374.7,309.6 L375.2,309.5 L375.5,309.5 L375.8,309.5 L376.3,309.4 L376.3,309.4 L376.8,309.3 L377.2,309.2 L377.3,309.2 L377.8,309.1 L378.1,309.0 L378.3,309.0 L378.7,308.9 L379.1,308.8 L379.2,308.8 L379.6,308.7 L380.0,308.5 L380.2,308.5 L380.5,308.4 L380.9,308.3 L381.2,308.2 L381.5,308.1 L381.6,308.0 L381.9,307.9 L382.3,307.7 L382.6,307.6 L382.9,307.4 L383.2,307.3 L383.5,307.1 L383.7,307.0 L384.0,306.8 L384.2,306.6 L384.4,306.4 L384.6,306.2 L384.8,306.1 L384.8,306.0" stroke="#8b0aa5"/>
<path d="M447.7,300.8 L447.8,300.6 L447.8,300.4 L447.8,300.4 L447.8,300.2 L447.8,300.1 L447.6,299.9 L447.6,299.8 L447.3,299.6 L447.2,299.5 L447.0,299.4 L446.7,299.2 L446.3,299.1 L446.0,298.9 L445.6,298.8 L445.1,298.7 L444.7,298.6 L444.2,298.5 L443.7,298.4 L443.3,298.4 L443.2,298.4 L442.7,298.3 L442.2,298.3 L442.1,298.3 L441.6,298.3 L441.1,298.2 L441.0,298.2 L440.4,298.2 L440.3,298.2 L439.8,298.2 L439.5,298.2 L439.2,298.3 L438.8,298.3 L438.5,298.3 L438.1,298.3 L437.8,298.4 L437.5,298.4 L437.1,298.4 L436.9,298.5 L436.3,298.5 L436.3,298.5 L435.8,298.6 L435.5,298.7 L435.3,298.7 L434.8,298.8 L434.5,298.9 L434.3,298.9 L433.9,299.0 L433.5,299.2 L433.4,299.2 L433.1,299.3 L432.7,299.4 L432.4,299.6 L432.1,299.7 L431.8,299.9 L431.5,300.0 L431.3,300.2 L431.1,300.4 L430.9,300.6 L430.8,300.8 L430.8,300.8 L430.8,301.0 L430.8,301.2 L430.8,301.3 L430.9,301.5 L430.9,301.5 L431.1,301.7 L431.2,301.9 L431.3,302.0 L431.6,302.1 L432.0,302.3 L432.2,302.4 L432.4,302.5 L432.7,302.6 L433.2,302.7 L433.6,302.8 L433.7,302.8 L434.1,302.9 L434.5,303.0 L435.0,303.0 L435.5,303.1 L435.5,303.1 L436.1,303.1 L436.6,303.2 L436.6,303.2 L437.2,303.2 L437.6,303.2 L437.7,303.2 L438.3,303.2 L438.4,303.2 L439.0,303.2 L439.2,303.2 L439.6,303.2 L439.9,303.2 L440.3,303.1 L440.6,303.1 L441.0,303.1 L441.2,303.1 L441.7,303.0 L441.8,303.0 L442.4,302.9 L442.5,302.9 L442.9,302.8 L443.3,302.8 L443.4,302.7 L443.9,302.6 L444.3,302.6 L444.4,302.5 L444.8,302.4 L445.2,302.3 L445.4,302.2 L445.6,302.2 L446.0,302.0 L446.3,301.9 L446.6,301.7 L446.9,301.6 L447.2,301.4 L447.4,301.2 L447.6,301.0 L447.7,300.9 L447.7,300.8" stroke="#8b0aa5"/>
<path d="M387.4,306.6 L387.5,306.6 L387.6,306.4 L387.8,306.2 L387.9,306.0 L387.9,306.0 L387.9,305.8 L388.0,305.5 L388.0,305.5 L388.0,305.3 L388.0,305.2 L388.0,305.1 L388.0,304.8 L388.0,304.8 L387.9,304.6 L387.9,304.5 L387.8,304.3 L387.8,304.2 L387.6,304.0 L387.6,304.0 L387.4,303.7 L387.4,303.7 L387.2,303.5 L387.0,303.3 L386.9,303.2 L386.7,303.0 L386.6,303.0 L386.4,302.8 L386.1,302.6 L386.0,302.6 L385.8,302.5 L385.5,302.3 L385.2,302.1 L385.1,302.1 L384.8,301.9 L384.5,301.8 L384.1,301.6 L383.8,301.5 L383.5,301.4 L383.4,301.3 L383.0,301.2 L382.6,301.1 L382.2,300.9 L381.8,300.8 L381.4,300.7 L381.0,300.6 L380.6,300.5 L380.2,300.3 L379.7,300.2 L379.3,300.1 L378.9,300.0 L378.7,300.0 L378.4,299.9 L378.0,299.8 L377.5,299.8 L377.0,299.7 L376.6,299.6 L376.2,299.5 L376.1,299.5 L375.6,299.4 L375.1,299.4 L374.6,299.3 L374.5,299.3 L374.1,299.2 L373.6,299.2 L373.1,299.1 L373.1,299.1 L372.6,299.1 L372.1,299.0 L371.8,299.0 L371.5,299.0 L371.0,298.9 L370.7,298.9 L370.5,298.9 L369.9,298.8 L369.6,298.8 L369.3,298.8 L368.8,298.8 L368.6,298.8 L368.2,298.8 L367.7,298.8 L367.6,298.8 L367.0,298.7 L366.8,298.7 L366.4,298.7 L365.9,298.7 L365.8,298.7 L365.2,298.8 L365.1,298.8 L364.6,298.8 L364.4,298.8 L364.0,298.8 L363.6,298.8 L363.3,298.8 L362.9,298.8 L362.6,298.9 L362.3,298.9 L361.9,298.9 L361.6,298.9 L361.2,299.0 L361.0,299.0 L360.5,299.0 L360.4,299.1 L359.8,299.1 L359.8,299.1 L359.2,299.2 L359.0,299.3 L358.7,299.3 L358.1,299.4 L358.1,299.4 L357.6,299.5 L357.3,299.6 L357.1,299.6 L356.7,299.7 L356.3,299.8 L356.2,299.8 L355.7,299.9 L355.3,300.0 L355.3,300.0 L354.9,300.1 L354.5,300.3 L354.1,300.4 L354.1,300.4 L353.7,300.5 L353.3,300.6 L353.0,300.8 L352.6,300.9 L352.5,301.0 L352.3,301.1 L352.0,301.2 L351.7,301.4 L351.4,301.5 L351.1,301.7 L350.8,301.8 L350.6,302.0 L350.3,302.2 L350.1,302.4 L349.9,302.5 L349.7,302.7 L349.7,302.7 L349.5,302.9 L349.3,303.1 L349.2,303.3 L349.0,303.5 L349.0,303.5 L348.9,303.7 L348.8,303.9 L348.7,304.1 L348.7,304.1 L348.6,304.3 L348.6,304.5 L348.6,304.5 L348.5,304.8 L348.5,304.9 L348.5,305.0 L348.6,305.3 L348.6,305.3 L348.6,305.5 L348.6,305.6 L348.7,305.8 L348.8,305.9 L348.9,306.1 L348.9,306.2 L349.0,306.4 L349.1,306.4 L349.3,306.7 L349.3,306.7 L349.5,306.9 L349.6,307.0 L349.7,307.1 L350.0,307.3 L350.0,307.4 L350.2,307.6 L350.5,307.7 L350.5,307.8 L350.8,308.0 L351.1,308.1 L351.2,308.2 L351.4,308.3 L351.8,308.5 L352.1,308.6 L352.3,308.7 L352.5,308.8 L352.8,309.0 L353.2,309.1 L353.6,309.2 L353.9,309.4 L354.3,309.5 L354.7,309.6 L355.1,309.8 L355.6,309.9 L356.0,310.0 L356.4,310.1 L356.8,310.2 L357.3,310.3 L357.7,310.4 L358.2,310.5 L358.7,310.6 L358.8,310.6 L359.1,310.6 L359.6,310.7 L360.1,310.8 L360.6,310.9 L360.6,310.9 L361.1,310.9 L361.6,311.0 L362.0,311.0 L362.1,311.0 L362.6,311.1 L363.2,311.1 L363.2,311.1 L363.7,311.2 L364.2,311.2 L364.3,311.2 L364.8,311.3 L365.3,311.3 L365.4,311.3 L365.9,311.3 L366.3,311.3 L366.5,311.3 L367.1,311.3 L367.2,311.3 L367.7,311.3 L368.0,311.3 L368.3,311.3 L368.8,311.3 L368.9,311.3 L369.6,311.3 L369.6,311.3 L370.2,311.3 L370.3,311.3 L370.9,311.2 L371.0,311.2 L371.6,311.2 L371.7,311.2 L372.2,311.1 L372.4,311.1 L372.9,311.1 L373.0,311.1 L373.6,311.0 L373.7,311.0 L374.2,310.9 L374.4,310.9 L374.8,310.9 L375.2,310.8 L375.4,310.8 L375.9,310.7 L376.0,310.7 L376.5,310.6 L376.7,310.6 L377.0,310.6 L377.6,310.5 L377.6,310.5 L378.1,310.4 L378.4,310.3 L378.6,310.3 L379.1,310.2 L379.3,310.1 L379.5,310.1 L380.0,310.0 L380.3,309.9 L380.5,309.9 L380.9,309.7 L381.3,309.6 L381.4,309.6 L381.8,309.5 L382.2,309.4 L382.5,309.3 L382.6,309.3 L383.0,309.1 L383.3,309.0 L383.7,308.9 L384.0,308.8 L384.1,308.7 L384.4,308.6 L384.7,308.4 L385.1,308.3 L385.4,308.1 L385.7,308.0 L385.9,307.8 L386.2,307.7 L386.5,307.5 L386.7,307.3 L386.9,307.2 L387.1,307.0 L387.3,306.8 L387.4,306.6" stroke="#9d189d"/>
<path d="M452.8,301.0 L452.9,300.9 L453.0,300.7 L453.0,300.5 L453.1,300.5 L453.1,300.2 L453.1,300.1 L453.0,300.0 L453.0,299.8 L452.9,299.7 L452.8,299.5 L452.7,299.4 L452.6,299.3 L452.4,299.1 L452.4,299.1 L452.1,298.9 L451.8,298.7 L451.8,298.7 L451.5,298.5 L451.2,298.3 L450.8,298.2 L450.4,298.0 L450.4,298.0 L450.0,297.9 L449.6,297.8 L449.2,297.7 L448.8,297.6 L448.7,297.5 L448.3,297.5 L447.9,297.4 L447.4,297.3 L446.9,297.2 L446.5,297.2 L446.4,297.1 L445.9,297.1 L445.4,297.0 L445.2,297.0 L444.9,297.0 L444.4,296.9 L444.1,296.9 L443.8,296.9 L443.2,296.9 L443.1,296.9 L442.7,296.9 L442.2,296.9 L442.1,296.9 L441.5,296.9 L441.4,296.9 L440.8,296.9 L440.6,296.9 L440.2,296.9 L439.8,296.9 L439.5,296.9 L439.1,297.0 L438.9,297.0 L438.5,297.0 L438.2,297.0 L437.8,297.1 L437.4,297.1 L437.2,297.1 L436.7,297.2 L436.6,297.2 L436.1,297.3 L435.9,297.3 L435.5,297.4 L435.1,297.4 L435.0,297.4 L434.5,297.5 L434.3,297.6 L434.0,297.6 L433.5,297.7 L433.4,297.8 L433.0,297.8 L432.6,297.9 L432.4,298.0 L432.1,298.1 L431.7,298.2 L431.3,298.3 L431.2,298.3 L430.9,298.4 L430.5,298.6 L430.1,298.7 L429.8,298.8 L429.8,298.8 L429.4,299.0 L429.1,299.1 L428.8,299.3 L428.5,299.4 L428.2,299.6 L428.0,299.7 L427.7,299.9 L427.5,300.1 L427.3,300.3 L427.1,300.5 L427.1,300.5 L427.0,300.7 L426.8,300.9 L426.8,301.1 L426.7,301.1 L426.7,301.3 L426.7,301.5 L426.7,301.5 L426.7,301.8 L426.8,301.8 L426.9,302.1 L426.9,302.1 L427.1,302.3 L427.1,302.4 L427.3,302.6 L427.6,302.7 L427.6,302.8 L427.9,303.0 L428.2,303.1 L428.5,303.3 L428.6,303.3 L428.9,303.4 L429.3,303.6 L429.7,303.7 L430.1,303.8 L430.6,303.9 L431.0,304.0 L431.5,304.1 L431.5,304.1 L431.9,304.2 L432.4,304.3 L432.9,304.3 L433.3,304.4 L433.4,304.4 L433.9,304.5 L434.5,304.5 L434.6,304.5 L435.0,304.5 L435.5,304.6 L435.7,304.6 L436.1,304.6 L436.6,304.6 L436.7,304.6 L437.2,304.6 L437.5,304.6 L437.8,304.6 L438.4,304.6 L438.4,304.6 L439.1,304.6 L439.2,304.6 L439.7,304.6 L439.9,304.6 L440.4,304.6 L440.6,304.6 L441.0,304.6 L441.3,304.5 L441.7,304.5 L442.0,304.5 L442.4,304.4 L442.6,304.4 L443.1,304.4 L443.2,304.4 L443.8,304.3 L443.9,304.3 L444.4,304.2 L444.7,304.2 L444.9,304.1 L445.5,304.0 L445.5,304.0 L446.0,303.9 L446.4,303.9 L446.5,303.8 L446.9,303.7 L447.3,303.7 L447.4,303.6 L447.9,303.5 L448.3,303.4 L448.4,303.4 L448.7,303.3 L449.1,303.2 L449.5,303.0 L449.6,303.0 L449.9,302.9 L450.2,302.8 L450.6,302.6 L450.9,302.5 L451.2,302.3 L451.5,302.2 L451.7,302.0 L452.0,301.8 L452.2,301.7 L452.4,301.5 L452.6,301.3 L452.8,301.1 L452.8,301.0" stroke="#9d189d"/>
<path d="M340.7,304.9 L340.7,304.9 L340.7,305.2 L340.7,305.3 L340.7,305.4 L340.8,305.6 L340.8,305.7 L340.8,305.9 L340.8,305.9 L340.9,306.2 L341.0,306.2 L341.1,306.5 L341.1,306.5 L341.2,306.8 L341.2,306.8 L341.4,307.0 L341.4,307.1 L341.6,307.3 L341.6,307.4 L341.8,307.6 L341.9,307.7 L342.0,307.8 L342.2,308.0 L342.2,308.0 L342.5,308.3 L342.6,308.3 L342.7,308.5 L343.0,308.7 L343.0,308.7 L343.2,308.9 L343.5,309.1 L343.5,309.1 L343.8,309.3 L344.1,309.5 L344.1,309.5 L344.4,309.7 L344.7,309.9 L344.9,310.0 L345.0,310.0 L345.3,310.2 L345.7,310.4 L345.8,310.5 L346.0,310.5 L346.3,310.7 L346.7,310.9 L347.0,311.0 L347.2,311.1 L347.4,311.2 L347.7,311.3 L348.1,311.5 L348.5,311.6 L348.9,311.7 L349.3,311.9 L349.6,312.0 L350.0,312.1 L350.4,312.3 L350.9,312.4 L351.3,312.5 L351.7,312.6 L352.1,312.7 L352.5,312.8 L353.0,312.9 L353.4,313.0 L353.9,313.1 L354.3,313.2 L354.8,313.3 L355.0,313.3 L355.3,313.4 L355.7,313.5 L356.2,313.5 L356.7,313.6 L356.9,313.6 L357.2,313.7 L357.7,313.7 L358.2,313.8 L358.3,313.8 L358.7,313.9 L359.3,313.9 L359.5,313.9 L359.8,313.9 L360.4,314.0 L360.6,314.0 L360.9,314.0 L361.5,314.0 L361.6,314.0 L362.0,314.0 L362.5,314.1 L362.6,314.1 L363.2,314.1 L363.4,314.1 L363.8,314.1 L364.2,314.1 L364.5,314.1 L365.0,314.0 L365.1,314.0 L365.7,314.0 L365.7,314.0 L366.4,314.0 L366.4,314.0 L367.1,313.9 L367.1,313.9 L367.7,313.9 L367.8,313.9 L368.4,313.8 L368.4,313.8 L369.1,313.8 L369.1,313.8 L369.7,313.7 L369.9,313.7 L370.3,313.7 L370.6,313.6 L370.9,313.6 L371.4,313.5 L371.5,313.5 L372.1,313.4 L372.1,313.4 L372.6,313.4 L372.9,313.3 L373.2,313.3 L373.7,313.2 L373.7,313.2 L374.3,313.1 L374.5,313.1 L374.8,313.0 L375.3,312.9 L375.3,312.9 L375.9,312.8 L376.2,312.8 L376.4,312.8 L376.9,312.7 L377.1,312.6 L377.4,312.6 L377.9,312.5 L377.9,312.5 L378.4,312.4 L378.9,312.3 L378.9,312.3 L379.3,312.2 L379.8,312.1 L379.8,312.1 L380.3,312.0 L380.7,311.8 L380.8,311.8 L381.2,311.7 L381.6,311.6 L381.8,311.6 L382.1,311.5 L382.5,311.4 L382.8,311.3 L383.0,311.3 L383.4,311.2 L383.8,311.1 L383.9,311.0 L384.2,310.9 L384.6,310.8 L385.0,310.7 L385.1,310.7 L385.4,310.6 L385.8,310.4 L386.2,310.3 L386.4,310.2 L386.6,310.2 L386.9,310.0 L387.3,309.9 L387.6,309.8 L388.0,309.6 L388.2,309.5 L388.3,309.5 L388.6,309.3 L388.9,309.2 L389.2,309.0 L389.5,308.9 L389.8,308.7 L390.1,308.5 L390.3,308.4 L390.5,308.2 L390.8,308.0 L391.0,307.8 L391.0,307.8 L391.1,307.6 L391.3,307.5 L391.5,307.3 L391.6,307.1 L391.6,307.1 L391.7,306.8 L391.8,306.6 L391.8,306.5 L391.9,306.4 L391.9,306.2 L391.9,306.1 L391.9,305.9 L391.9,305.8 L391.9,305.7 L391.9,305.4 L391.8,305.4 L391.8,305.2 L391.7,305.1 L391.7,304.9 L391.6,304.8 L391.5,304.6 L391.4,304.6 L391.3,304.3 L391.3,304.3 L391.0,304.1 L391.0,304.0 L390.8,303.8 L390.7,303.7 L390.6,303.6 L390.3,303.4 L390.3,303.3 L390.1,303.2 L389.8,303.0 L389.7,302.9 L389.5,302.8 L389.2,302.6 L389.0,302.5 L388.9,302.4 L388.6,302.2 L388.3,302.1 L388.1,302.0 L387.9,301.9 L387.6,301.7 L387.2,301.6 L386.9,301.4 L386.7,301.3 L386.5,301.3 L386.2,301.1 L385.8,301.0 L385.4,300.8 L385.0,300.7 L384.6,300.6 L384.2,300.4 L383.8,300.3 L383.4,300.2 L383.0,300.1 L382.6,300.0 L382.2,299.8 L381.8,299.7 L381.4,299.6 L380.9,299.5 L380.5,299.4 L380.0,299.3 L379.6,299.2 L379.2,299.1 L378.7,299.0 L378.3,298.9 L378.3,298.9 L377.8,298.8 L377.3,298.7 L376.9,298.7 L376.4,298.6 L375.9,298.5 L375.9,298.5 L375.5,298.4 L375.0,298.3 L374.5,298.3 L374.1,298.2 L374.0,298.2 L373.5,298.1 L373.0,298.0 L372.5,298.0 L372.4,298.0 L372.0,297.9 L371.5,297.8 L371.0,297.8 L370.9,297.8 L370.5,297.7 L370.0,297.7 L369.5,297.6 L369.5,297.6 L369.0,297.6 L368.5,297.5 L368.2,297.5 L367.9,297.5 L367.4,297.4 L367.0,297.4 L366.9,297.4 L366.4,297.3 L365.8,297.3 L365.8,297.3 L365.3,297.2 L364.7,297.2 L364.7,297.2 L364.2,297.2 L363.7,297.1 L363.6,297.1 L363.1,297.1 L362.6,297.1 L362.5,297.1 L362.0,297.0 L361.7,297.0 L361.4,297.0 L360.8,297.0 L360.7,297.0 L360.2,297.0 L359.8,297.0 L359.6,297.0 L359.0,297.0 L359.0,297.0 L358.4,297.0 L358.1,297.0 L357.8,297.0 L357.3,297.0 L357.2,297.0 L356.6,297.0 L356.6,297.0 L355.9,297.0 L355.9,297.1 L355.2,297.1 L355.2,297.1 L354.6,297.1 L354.5,297.1 L353.9,297.2 L353.8,297.2 L353.2,297.3 L353.1,297.3" stroke="#ad2793"/>
<path d="M458.2,302.6 L458.3,302.5 L458.6,302.3 L458.8,302.1 L459.0,301.9 L459.2,301.7 L459.4,301.6 L459.5,301.4 L459.5,301.4 L459.7,301.2 L459.8,301.0 L459.9,300.8 L459.9,300.7 L460.0,300.5 L460.0,300.3 L460.0,300.3 L460.0,300.1 L460.0,300.0 L460.0,299.8 L460.0,299.6 L459.9,299.6 L459.8,299.3 L459.8,299.3 L459.7,299.0 L459.7,299.0 L459.5,298.8 L459.4,298.7 L459.3,298.5 L459.1,298.4 L459.0,298.3 L458.8,298.1 L458.6,298.0 L458.5,297.9 L458.2,297.7 L457.9,297.6 L457.8,297.5 L457.5,297.4 L457.2,297.2 L456.9,297.1 L456.5,296.9 L456.1,296.8 L456.1,296.8 L455.7,296.7 L455.3,296.5 L454.9,296.4 L454.5,296.3 L454.1,296.2 L453.9,296.2 L453.6,296.1 L453.2,296.0 L452.7,295.9 L452.2,295.8 L451.8,295.7 L451.5,295.7 L451.3,295.7 L450.8,295.6 L450.3,295.5 L449.9,295.5 L449.8,295.5 L449.3,295.4 L448.7,295.4 L448.7,295.4 L448.2,295.3 L447.6,295.3 L447.6,295.3 L447.1,295.3 L446.6,295.3 L446.5,295.3 L445.9,295.2 L445.7,295.2 L445.3,295.2 L444.8,295.2 L444.7,295.2 L444.1,295.2 L444.0,295.2 L443.5,295.2 L443.3,295.3 L442.9,295.3 L442.5,295.3 L442.2,295.3 L441.8,295.3 L441.5,295.3 L441.1,295.4 L440.9,295.4 L440.4,295.4 L440.2,295.4 L439.8,295.5 L439.5,295.5 L439.2,295.5 L438.7,295.6 L438.6,295.6 L438.0,295.7 L438.0,295.7 L437.4,295.7 L437.2,295.8 L436.8,295.8 L436.4,295.9 L436.3,295.9 L435.7,296.0 L435.6,296.0 L435.2,296.1 L434.8,296.1 L434.7,296.2 L434.2,296.3 L433.9,296.3 L433.7,296.4 L433.2,296.5 L433.0,296.5 L432.7,296.6 L432.3,296.7 L432.0,296.7 L431.8,296.8 L431.4,296.9 L431.0,297.0 L430.9,297.0 L430.5,297.1 L430.1,297.2 L429.9,297.3 L429.7,297.4 L429.3,297.5 L428.9,297.6 L428.6,297.7 L428.5,297.7 L428.1,297.9 L427.8,298.0 L427.4,298.1 L427.1,298.3 L427.0,298.3 L426.7,298.4 L426.4,298.6 L426.1,298.7 L425.8,298.9 L425.5,299.0 L425.2,299.2 L424.9,299.3 L424.6,299.5 L424.4,299.7 L424.1,299.8 L423.9,300.0 L423.7,300.2 L423.5,300.4 L423.3,300.6 L423.3,300.6 L423.2,300.8 L423.0,301.0 L422.9,301.2 L422.9,301.2 L422.8,301.4 L422.7,301.6 L422.7,301.7 L422.7,301.8 L422.7,302.1 L422.7,302.1 L422.7,302.3 L422.7,302.4 L422.8,302.6 L422.8,302.7 L422.9,302.8 L423.0,303.0 L423.1,303.2 L423.2,303.2 L423.4,303.5 L423.5,303.5 L423.7,303.7 L424.0,303.9 L424.0,303.9 L424.3,304.1 L424.6,304.2 L425.0,304.4 L425.0,304.4 L425.3,304.5 L425.7,304.7 L426.1,304.8 L426.5,305.0 L426.9,305.1 L427.3,305.2 L427.7,305.3 L428.1,305.4 L428.6,305.5 L429.1,305.6 L429.3,305.6 L429.5,305.7 L430.0,305.8 L430.5,305.8 L431.0,305.9 L431.1,305.9 L431.5,306.0 L432.0,306.0 L432.5,306.1 L432.6,306.1 L433.0,306.1 L433.5,306.2 L433.8,306.2 L434.1,306.2 L434.6,306.3 L434.9,306.3 L435.1,306.3 L435.7,306.3 L435.9,306.3 L436.3,306.4 L436.8,306.4 L436.9,306.4 L437.4,306.4 L437.8,306.4 L438.0,306.4 L438.6,306.4 L438.6,306.4 L439.2,306.4 L439.5,306.4 L439.8,306.4 L440.2,306.4 L440.5,306.4 L441.0,306.4 L441.1,306.4 L441.7,306.3 L441.8,306.3 L442.4,306.3 L442.4,306.3 L443.1,306.2 L443.1,306.2 L443.8,306.2 L443.8,306.2 L444.4,306.1 L444.5,306.1 L445.1,306.1 L445.2,306.1 L445.7,306.0 L445.9,306.0 L446.3,306.0 L446.7,305.9 L446.9,305.9 L447.4,305.8 L447.4,305.8 L448.0,305.7 L448.2,305.7 L448.5,305.6 L449.1,305.6 L449.1,305.6 L449.6,305.5 L449.9,305.4 L450.1,305.4 L450.6,305.3 L450.8,305.2 L451.1,305.2 L451.5,305.1 L451.8,305.0 L452.0,305.0 L452.4,304.8 L452.8,304.7 L452.9,304.7 L453.3,304.6 L453.7,304.5 L453.9,304.4 L454.1,304.4 L454.5,304.2 L454.9,304.1 L455.3,304.0 L455.3,304.0 L455.6,303.8 L456.0,303.7 L456.3,303.6 L456.6,303.4 L456.9,303.3 L457.2,303.1 L457.5,302.9 L457.6,302.9 L457.8,302.8 L458.1,302.6 L458.2,302.6" stroke="#ad2793"/>
<path d="M371.8,319.8 L372.0,319.6 L372.2,319.5 L372.4,319.3 L372.6,319.1 L372.8,318.9 L372.9,318.9 L373.1,318.8 L373.3,318.6 L373.6,318.4 L373.8,318.3 L374.1,318.1 L374.4,317.9 L374.7,317.8 L374.7,317.8 L375.0,317.6 L375.3,317.5 L375.6,317.3 L375.9,317.2 L376.2,317.0 L376.5,316.9 L376.9,316.7 L377.2,316.6 L377.3,316.5 L377.5,316.4 L377.9,316.3 L378.2,316.2 L378.6,316.0 L378.9,315.9 L379.1,315.8 L379.3,315.8 L379.7,315.6 L380.0,315.5 L380.4,315.4 L380.6,315.3 L380.8,315.2 L381.2,315.1 L381.6,315.0 L381.9,314.8 L381.9,314.8 L382.3,314.7 L382.7,314.6 L383.1,314.4 L383.2,314.4 L383.5,314.3 L383.9,314.2 L384.3,314.1 L384.5,314.0 L384.7,313.9 L385.1,313.8 L385.5,313.7 L385.7,313.7 L385.9,313.6 L386.3,313.5 L386.7,313.3 L386.8,313.3 L387.2,313.2 L387.6,313.1 L388.0,313.0 L388.0,313.0 L388.4,312.8 L388.8,312.7 L389.2,312.6 L389.2,312.6 L389.6,312.5 L390.1,312.4 L390.3,312.3 L390.5,312.2 L390.9,312.1 L391.3,312.0 L391.5,311.9 L391.7,311.9 L392.1,311.8 L392.5,311.6 L392.6,311.6 L392.9,311.5 L393.3,311.4 L393.7,311.3 L393.8,311.2 L394.2,311.1 L394.6,311.0 L394.9,310.9 L395.1,310.8 L395.3,310.8 L395.7,310.6 L396.1,310.5 L396.4,310.4 L396.5,310.4 L396.9,310.2 L397.2,310.1 L397.6,310.0 L397.9,309.9 L398.0,309.8 L398.3,309.7 L398.6,309.6 L399.0,309.4 L399.3,309.3 L399.6,309.1 L399.9,308.9 L400.1,308.8 L400.4,308.6 L400.6,308.4 L400.7,308.2 L400.9,308.0 L400.9,308.0 L400.9,307.8 L401.0,307.6 L401.0,307.6 L400.9,307.3 L400.9,307.3 L400.8,307.0 L400.7,307.0 L400.5,306.8 L400.5,306.7 L400.3,306.5 L400.1,306.4 L400.1,306.3 L399.8,306.1 L399.7,306.0 L399.5,305.9 L399.2,305.7 L399.1,305.6 L398.9,305.5 L398.6,305.3 L398.4,305.2 L398.3,305.1 L398.0,305.0 L397.7,304.8 L397.6,304.7 L397.4,304.6 L397.1,304.4 L396.8,304.2 L396.8,304.2 L396.5,304.1 L396.2,303.9 L395.9,303.7 L395.8,303.7 L395.5,303.5 L395.2,303.4 L394.9,303.2 L394.9,303.2 L394.5,303.0 L394.2,302.9 L393.9,302.7 L393.7,302.6 L393.5,302.5 L393.2,302.4 L392.8,302.2 L392.5,302.1 L392.3,302.0 L392.1,301.9 L391.8,301.8 L391.4,301.6 L391.1,301.5 L390.7,301.3 L390.4,301.2 L390.3,301.2 L389.9,301.0 L389.6,300.9 L389.2,300.7 L388.8,300.6 L388.4,300.5 L388.0,300.3 L387.6,300.2 L387.2,300.1 L386.8,300.0 L386.4,299.8 L386.4,299.8 L386.0,299.7 L385.6,299.6 L385.2,299.5 L384.8,299.3 L384.4,299.2 L384.0,299.1 L383.6,299.0 L383.6,299.0 L383.1,298.9 L382.7,298.8 L382.3,298.7 L381.9,298.6 L381.4,298.5 L381.0,298.3 L380.6,298.2 L380.1,298.1 L379.7,298.0 L379.2,297.9 L378.8,297.8 L378.4,297.7 L378.2,297.7 L377.9,297.6 L377.5,297.5 L377.0,297.4 L376.6,297.3 L376.1,297.2 L375.7,297.1 L375.3,297.1 L374.8,297.0 L374.6,296.9 L374.4,296.9 L373.9,296.8 L373.5,296.7 L373.0,296.6 L372.6,296.5 L372.1,296.4 L371.7,296.3 L371.3,296.2 L370.8,296.1 L370.6,296.0 L370.4,296.0 L370.0,295.9 L369.5,295.7 L369.1,295.6 L368.7,295.5 L368.3,295.4 L367.8,295.3 L367.4,295.2 L367.0,295.1 L366.6,294.9 L366.2,294.8 L365.8,294.7 L365.4,294.6 L365.0,294.4 L364.6,294.3 L364.2,294.2 L364.0,294.1 L363.8,294.1 L363.4,293.9 L363.1,293.8 L362.7,293.6 L362.3,293.5 L361.9,293.4 L361.6,293.2 L361.3,293.1 L361.2,293.1 L360.8,292.9 L360.5,292.8" stroke="#bf3984"/>
<path d="M441.5,292.1 L441.2,292.3 L440.9,292.4 L440.9,292.4 L440.5,292.6 L440.1,292.7 L439.8,292.8 L439.4,293.0 L439.4,293.0 L439.0,293.1 L438.6,293.2 L438.2,293.3 L438.1,293.3 L437.8,293.4 L437.4,293.6 L437.0,293.7 L436.9,293.7 L436.5,293.8 L436.1,293.9 L435.9,294.0 L435.7,294.0 L435.3,294.2 L434.8,294.3 L434.8,294.3 L434.4,294.4 L434.0,294.5 L433.7,294.6 L433.6,294.6 L433.1,294.8 L432.7,294.9 L432.5,294.9 L432.3,295.0 L431.9,295.1 L431.5,295.2 L431.4,295.2 L431.0,295.4 L430.6,295.5 L430.2,295.6 L430.2,295.6 L429.8,295.7 L429.4,295.8 L429.0,296.0 L429.0,296.0 L428.6,296.1 L428.2,296.2 L427.8,296.4 L427.7,296.4 L427.5,296.5 L427.1,296.6 L426.7,296.7 L426.3,296.9 L426.3,296.9 L426.0,297.0 L425.6,297.2 L425.3,297.3 L424.9,297.4 L424.6,297.6 L424.6,297.6 L424.2,297.7 L423.9,297.9 L423.6,298.0 L423.2,298.2 L422.9,298.3 L422.6,298.4 L422.3,298.6 L422.3,298.6 L422.0,298.8 L421.7,298.9 L421.4,299.1 L421.2,299.2 L420.9,299.4 L420.6,299.6 L420.4,299.7 L420.1,299.9 L419.9,300.1 L419.6,300.2 L419.4,300.4 L419.4,300.4 L419.2,300.6 L419.0,300.8 L418.7,300.9 L418.5,301.1 L418.4,301.3 L418.2,301.5 L418.2,301.5 L418.0,301.7 L417.9,301.9 L417.7,302.1 L417.6,302.2 L417.6,302.3 L417.4,302.5 L417.3,302.7 L417.3,302.8 L417.2,302.9 L417.1,303.1 L417.1,303.3 L417.1,303.3 L417.0,303.5 L417.0,303.7 L417.0,303.8 L416.9,304.0 L416.9,304.1 L416.9,304.2 L416.9,304.5 L416.9,304.5 L417.0,304.7 L417.0,304.8 L417.0,305.0 L417.1,305.1 L417.2,305.3 L417.2,305.4 L417.3,305.6 L417.4,305.7 L417.6,305.9 L417.6,305.9 L417.9,306.1 L418.0,306.2 L418.1,306.4 L418.4,306.5 L418.6,306.6 L418.7,306.7 L419.1,306.9 L419.4,307.0 L419.8,307.2 L420.2,307.3 L420.3,307.4 L420.6,307.5 L421.0,307.6 L421.4,307.7 L421.8,307.8 L422.2,307.9 L422.2,307.9 L422.7,308.0 L423.1,308.1 L423.5,308.2 L424.0,308.3 L424.5,308.4 L424.9,308.5 L425.3,308.6 L425.4,308.6 L425.9,308.7 L426.3,308.7 L426.8,308.8 L427.3,308.9 L427.4,308.9 L427.8,309.0 L428.2,309.1 L428.7,309.1 L429.2,309.2 L429.2,309.2 L429.7,309.3 L430.2,309.3 L430.7,309.4 L430.9,309.5 L431.2,309.5 L431.6,309.6 L432.1,309.6 L432.6,309.7 L432.6,309.7 L433.1,309.8 L433.6,309.8 L434.1,309.9 L434.3,309.9 L434.6,310.0 L435.1,310.1 L435.6,310.1 L436.0,310.2 L436.0,310.2 L436.5,310.3 L437.0,310.3 L437.5,310.4 L437.8,310.5 L438.0,310.5 L438.5,310.6 L438.9,310.6 L439.4,310.7 L439.7,310.8 L439.9,310.8 L440.4,310.9 L440.8,311.0 L441.3,311.1 L441.8,311.1 L441.9,311.2 L442.2,311.2 L442.7,311.3 L443.2,311.4 L443.6,311.5 L444.1,311.6 L444.5,311.7 L444.5,311.7 L445.0,311.8 L445.4,311.9 L445.9,312.0 L446.3,312.1 L446.7,312.2 L447.2,312.3 L447.6,312.4 L448.1,312.5 L448.5,312.6 L448.5,312.6" stroke="#bf3984"/>
<path d="M432.5,289.5 L432.4,289.8 L432.4,289.8 L432.4,290.0 L432.3,290.2 L432.2,290.3 L432.2,290.4 L432.1,290.6 L432.0,290.8 L432.0,290.8 L431.8,291.0 L431.7,291.2 L431.6,291.4 L431.5,291.5 L431.4,291.6 L431.2,291.8 L431.0,292.0 L430.8,292.2 L430.6,292.4 L430.6,292.4 L430.4,292.5 L430.2,292.7 L430.0,292.9 L429.7,293.1 L429.4,293.2 L429.2,293.4 L428.9,293.5 L428.6,293.7 L428.3,293.9 L428.0,294.0 L427.8,294.1 L427.7,294.2 L427.4,294.3 L427.1,294.5 L426.8,294.6 L426.5,294.8 L426.1,294.9 L425.8,295.0 L425.5,295.2 L425.4,295.2 L425.1,295.3 L424.8,295.5 L424.5,295.6 L424.1,295.8 L423.8,295.9 L423.5,296.1 L423.4,296.1 L423.1,296.2 L422.8,296.3 L422.4,296.5 L422.1,296.6 L421.8,296.8 L421.4,296.9 L421.4,296.9 L421.1,297.1 L420.8,297.2 L420.4,297.3 L420.1,297.5 L419.8,297.6 L419.5,297.8 L419.3,297.9 L419.1,297.9 L418.8,298.1 L418.5,298.2 L418.2,298.4 L417.8,298.5 L417.5,298.7 L417.2,298.8 L416.9,299.0 L416.9,299.0 L416.6,299.1 L416.2,299.3 L415.9,299.4 L415.6,299.6 L415.3,299.7 L415.0,299.8 L414.6,300.0 L414.5,300.1 L414.3,300.1 L414.0,300.3 L413.6,300.4 L413.3,300.6 L412.9,300.7 L412.6,300.9 L412.6,300.9 L412.2,301.0 L411.9,301.1 L411.5,301.2 L411.2,301.3 L411.1,301.4 L410.7,301.5 L410.2,301.6 L410.1,301.7 L409.8,301.7 L409.3,301.8 L409.1,301.9 L408.8,301.9 L408.3,302.0 L408.3,302.0 L407.7,302.1 L407.5,302.1 L407.1,302.2 L406.8,302.2 L406.5,302.2 L406.1,302.2 L405.7,302.2 L405.5,302.2 L405.0,302.3 L404.9,302.3 L404.3,302.2 L404.1,302.2 L403.7,302.2 L403.1,302.2 L403.0,302.2 L402.6,302.1 L402.1,302.1 L401.8,302.1 L401.6,302.0 L401.1,302.0 L400.6,301.9 L400.2,301.8 L400.1,301.8 L399.6,301.8 L399.2,301.7 L398.7,301.6 L398.3,301.5 L397.8,301.4 L397.5,301.3 L397.4,301.3 L396.9,301.2 L396.5,301.1 L396.1,301.0 L395.6,300.9 L395.2,300.8 L394.8,300.6 L394.4,300.5 L393.9,300.4 L393.5,300.3 L393.1,300.2 L392.7,300.1 L392.3,300.0 L391.9,299.8 L391.4,299.7 L391.0,299.6 L390.6,299.5 L390.2,299.4 L389.8,299.3 L389.4,299.2 L388.9,299.0 L388.5,298.9 L388.1,298.8 L387.7,298.7 L387.3,298.6 L386.9,298.5 L386.4,298.3 L386.0,298.2 L385.6,298.1 L385.2,298.0 L384.8,297.9 L384.3,297.8 L384.3,297.8 L383.9,297.7 L383.5,297.6 L383.1,297.4 L382.7,297.3 L382.2,297.2 L381.8,297.1 L381.4,297.0 L381.0,296.9 L380.6,296.8 L380.1,296.6 L379.7,296.5 L379.3,296.4 L378.9,296.3 L378.5,296.2 L378.1,296.1 L377.7,295.9 L377.3,295.8 L376.9,295.7 L376.5,295.6 L376.1,295.4 L376.0,295.4 L375.7,295.3 L375.3,295.2 L374.9,295.0 L374.5,294.9 L374.2,294.8 L373.8,294.6 L373.4,294.5 L373.0,294.3 L372.9,294.3 L372.7,294.2 L372.3,294.0 L372.0,293.9 L371.6,293.7 L371.3,293.6 L371.2,293.5 L370.9,293.4 L370.6,293.2 L370.2,293.1 L369.9,292.9 L369.9,292.9 L369.6,292.8 L369.2,292.6 L368.9,292.4 L368.9,292.4 L368.6,292.2 L368.3,292.1 L368.0,291.9 L368.0,291.9 L367.7,291.7 L367.4,291.5 L367.3,291.5 L367.1,291.3 L366.8,291.1 L366.6,291.0 L366.5,290.9 L366.2,290.8 L366.0,290.6 L365.9,290.6 L365.6,290.4 L365.4,290.2 L365.3,290.1 L365.1,289.9" stroke="#d35171"/>
<path d="M382.0,322.8 L381.9,322.6 L381.9,322.5 L381.8,322.3 L381.8,322.2 L381.7,322.0 L381.7,321.9 L381.6,321.7 L381.6,321.7 L381.6,321.4 L381.6,321.3 L381.6,321.2 L381.7,321.0 L381.7,320.9 L381.7,320.8 L381.8,320.5 L381.8,320.5 L381.9,320.3 L382.0,320.1 L382.1,319.9 L382.1,319.9 L382.2,319.7 L382.4,319.5 L382.5,319.3 L382.6,319.2 L382.7,319.1 L382.9,318.9 L383.1,318.8 L383.3,318.6 L383.5,318.4 L383.8,318.2 L384.0,318.1 L384.3,317.9 L384.6,317.7 L384.8,317.6 L385.1,317.4 L385.4,317.3 L385.7,317.1 L386.0,317.0 L386.3,316.8 L386.7,316.7 L387.0,316.5 L387.1,316.5 L387.3,316.4 L387.7,316.2 L388.0,316.1 L388.4,316.0 L388.8,315.8 L388.8,315.8 L389.1,315.7 L389.5,315.6 L389.9,315.4 L390.2,315.3 L390.3,315.3 L390.7,315.2 L391.1,315.1 L391.4,315.0 L391.5,314.9 L391.9,314.8 L392.3,314.7 L392.5,314.6 L392.8,314.6 L393.2,314.5 L393.6,314.4 L393.6,314.3 L394.1,314.2 L394.5,314.1 L394.6,314.1 L395.0,314.0 L395.4,313.9 L395.6,313.9 L395.9,313.8 L396.4,313.7 L396.5,313.7 L396.8,313.6 L397.3,313.5 L397.5,313.5 L397.8,313.4 L398.3,313.3 L398.4,313.3 L398.8,313.2 L399.2,313.1 L399.3,313.1 L399.9,313.0 L400.1,313.0 L400.4,312.9 L400.9,312.8 L400.9,312.8 L401.5,312.8 L401.7,312.7 L402.0,312.7 L402.5,312.6 L402.6,312.6 L403.1,312.5 L403.3,312.5 L403.7,312.4 L404.0,312.4 L404.3,312.4 L404.8,312.3 L404.9,312.3 L405.5,312.2 L405.5,312.2 L406.2,312.2 L406.2,312.2 L406.8,312.1 L406.9,312.1 L407.5,312.1 L407.6,312.1 L408.1,312.0 L408.3,312.0 L408.8,312.0 L409.0,312.0 L409.5,311.9 L409.6,311.9 L410.2,311.9 L410.3,311.9 L410.9,311.9 L411.0,311.9 L411.5,311.9 L411.7,311.9 L412.2,311.9 L412.5,311.9 L412.8,311.9 L413.3,311.8 L413.4,311.8 L414.0,311.8 L414.2,311.8 L414.6,311.9 L415.1,311.9 L415.2,311.9 L415.8,311.9 L416.0,311.9 L416.4,311.9 L416.9,311.9 L416.9,311.9 L417.5,311.9 L417.9,311.9 L418.1,312.0 L418.6,312.0 L418.9,312.0 L419.2,312.0 L419.7,312.0 L419.9,312.1 L420.3,312.1 L420.8,312.1 L421.0,312.1 L421.4,312.1 L421.9,312.2 L422.1,312.2 L422.4,312.2 L423.0,312.3 L423.3,312.3 L423.5,312.3 L424.0,312.4 L424.6,312.4 L424.6,312.4 L425.1,312.5 L425.6,312.5 L425.9,312.6 L426.1,312.6 L426.6,312.6 L427.1,312.7 L427.3,312.7 L427.6,312.8 L428.1,312.8 L428.6,312.9 L428.7,312.9 L429.1,313.0 L429.6,313.0 L430.1,313.1 L430.3,313.1 L430.6,313.2 L431.1,313.2 L431.6,313.3 L432.1,313.4 L432.1,313.4 L432.5,313.5 L433.0,313.5 L433.5,313.6 L434.0,313.7 L434.0,313.7 L434.5,313.8 L434.9,313.9 L435.4,313.9 L435.9,314.0 L436.3,314.1 L436.3,314.1 L436.8,314.2 L437.2,314.3 L437.7,314.4 L438.1,314.5 L438.6,314.6 L439.0,314.7 L439.3,314.7 L439.5,314.8 L439.9,314.9 L440.4,315.0 L440.8,315.1 L441.2,315.2 L441.7,315.3 L442.1,315.4 L442.5,315.5 L442.9,315.6 L443.3,315.7" stroke="#d35171"/>
<path d="M416.6,332.1 L416.2,332.1 L416.1,332.1 L415.5,332.0 L415.2,332.0 L415.0,332.0 L414.4,332.0 L414.1,331.9" stroke="#d35171"/>
<path d="M426.3,287.8 L426.2,288.0 L426.2,288.0 L426.2,288.2 L426.2,288.4 L426.2,288.5 L426.2,288.7 L426.1,288.8 L426.1,288.9 L426.1,289.1 L426.0,289.3 L426.0,289.4 L425.9,289.6 L425.9,289.7 L425.8,289.8 L425.8,290.0 L425.7,290.2 L425.7,290.2 L425.6,290.4 L425.5,290.6 L425.4,290.8 L425.3,290.8 L425.2,291.0 L425.1,291.2 L425.0,291.4 L424.9,291.4 L424.8,291.6 L424.6,291.8 L424.5,292.0 L424.3,292.2 L424.3,292.2 L424.1,292.4 L423.9,292.6 L423.7,292.8 L423.5,292.9 L423.2,293.1 L423.0,293.3 L422.8,293.5 L422.5,293.6 L422.4,293.7 L422.3,293.8 L422.0,294.0 L421.8,294.1 L421.5,294.3 L421.5,294.3 L421.2,294.4 L420.9,294.6 L420.6,294.8 L420.3,294.9 L420.0,295.1 L419.7,295.2 L419.4,295.4 L419.1,295.5 L418.8,295.7 L418.4,295.8 L418.2,295.9 L418.1,296.0 L417.8,296.1 L417.5,296.3 L417.1,296.4 L416.8,296.5 L416.4,296.7 L416.3,296.7 L416.1,296.8 L415.7,297.0 L415.4,297.1 L415.0,297.2 L414.7,297.3 L414.6,297.4 L414.3,297.5 L413.9,297.6 L413.5,297.8 L413.3,297.8 L413.1,297.9 L412.7,298.0 L412.3,298.1 L412.1,298.2 L411.9,298.3 L411.5,298.4 L411.0,298.5 L411.0,298.5 L410.6,298.6 L410.1,298.7 L410.0,298.7 L409.7,298.8 L409.2,298.9 L409.1,298.9 L408.7,299.0 L408.2,299.1 L408.2,299.1 L407.6,299.2 L407.4,299.2 L407.0,299.3 L406.7,299.3 L406.4,299.3 L405.9,299.4 L405.8,299.4 L405.2,299.4 L405.1,299.4 L404.6,299.5 L404.4,299.5 L404.0,299.5 L403.6,299.5 L403.3,299.5 L402.8,299.5 L402.7,299.5 L402.1,299.5 L401.9,299.5 L401.6,299.4 L401.0,299.4 L400.9,299.4 L400.5,299.4 L399.9,299.3 L399.7,299.3 L399.4,299.3 L398.9,299.2 L398.4,299.2 L398.4,299.2 L397.9,299.1 L397.4,299.0 L396.9,299.0 L396.8,299.0 L396.4,298.9 L395.9,298.8 L395.5,298.7 L395.0,298.7 L394.8,298.6 L394.5,298.6 L394.1,298.5 L393.6,298.4 L393.2,298.3 L392.7,298.2 L392.3,298.1 L391.8,298.0 L391.8,298.0 L391.4,297.9 L390.9,297.8 L390.5,297.7 L390.1,297.6 L389.6,297.5 L389.2,297.4 L388.8,297.3 L388.3,297.2 L387.9,297.1 L387.5,297.0 L387.1,296.8 L386.7,296.7 L386.2,296.6 L385.8,296.5 L385.4,296.4 L385.0,296.3 L384.6,296.1 L384.2,296.0 L383.8,295.9 L383.4,295.8 L383.0,295.7 L382.6,295.5 L382.2,295.4 L381.8,295.3 L381.4,295.1 L381.0,295.0 L380.6,294.9 L380.3,294.7 L379.9,294.6 L379.9,294.6 L379.5,294.4 L379.1,294.3 L378.8,294.2 L378.4,294.0 L378.0,293.9 L377.8,293.8 L377.7,293.7 L377.3,293.5 L377.0,293.4 L376.6,293.2 L376.4,293.1 L376.3,293.1 L376.0,292.9 L375.6,292.7 L375.3,292.6 L375.3,292.5 L375.0,292.4 L374.7,292.2 L374.3,292.0 L374.3,292.0 L374.0,291.9 L373.7,291.7 L373.5,291.6 L373.4,291.5 L373.1,291.3 L372.8,291.1 L372.8,291.1 L372.5,290.9 L372.2,290.7 L372.2,290.7 L372.0,290.5 L371.7,290.3 L371.6,290.3 L371.4,290.1 L371.1,289.9 L371.1,289.9 L370.9,289.7 L370.7,289.6 L370.6,289.5 L370.4,289.3 L370.3,289.2 L370.1,289.1 L369.9,288.9 L369.9,288.8 L369.7,288.6 L369.6,288.5 L369.4,288.4 L369.3,288.2 L369.2,288.1 L369.0,287.9 L369.0,287.9 L368.8,287.7" stroke="#e3685f"/>
<path d="M396.1,326.8 L395.8,326.7 L395.4,326.6 L395.0,326.4 L394.7,326.3 L394.3,326.2 L393.9,326.0 L393.6,325.9 L393.3,325.8 L393.2,325.7 L392.9,325.6 L392.5,325.4 L392.2,325.2 L392.0,325.1 L391.8,325.1 L391.5,324.9 L391.2,324.7 L391.1,324.6 L390.9,324.5 L390.6,324.3 L390.4,324.2 L390.3,324.2 L390.0,323.9 L389.9,323.8 L389.8,323.7 L389.5,323.5 L389.4,323.5 L389.3,323.3 L389.1,323.1 L389.1,323.1 L388.9,322.8 L388.9,322.8 L388.7,322.6 L388.6,322.5 L388.5,322.3 L388.5,322.2 L388.4,322.0 L388.4,321.9 L388.3,321.7 L388.3,321.7 L388.3,321.4 L388.3,321.3 L388.3,321.2 L388.3,321.0 L388.3,320.9 L388.3,320.7 L388.4,320.5 L388.4,320.5 L388.5,320.3 L388.6,320.1 L388.7,320.0 L388.7,319.9 L388.9,319.7 L389.0,319.5 L389.2,319.3 L389.4,319.2 L389.4,319.1 L389.6,318.9 L389.8,318.8 L390.1,318.6 L390.3,318.4 L390.6,318.3 L390.9,318.1 L391.2,317.9 L391.4,317.8 L391.8,317.6 L392.1,317.5 L392.2,317.4 L392.4,317.3 L392.7,317.2 L393.1,317.1 L393.4,316.9 L393.8,316.8 L393.9,316.8 L394.2,316.7 L394.6,316.5 L395.0,316.4 L395.2,316.3 L395.4,316.3 L395.8,316.2 L396.2,316.0 L396.3,316.0 L396.6,315.9 L397.1,315.8 L397.4,315.7 L397.5,315.7 L398.0,315.6 L398.4,315.5 L398.4,315.5 L398.9,315.4 L399.3,315.3 L399.4,315.3 L399.9,315.2 L400.2,315.1 L400.4,315.1 L400.9,315.0 L401.0,315.0 L401.4,314.9 L401.9,314.8 L402.0,314.8 L402.5,314.7 L402.7,314.7 L403.1,314.7 L403.5,314.6 L403.7,314.6 L404.2,314.5 L404.2,314.5 L404.8,314.4 L405.0,314.4 L405.4,314.4 L405.7,314.3 L406.1,314.3 L406.4,314.3 L406.7,314.3 L407.1,314.2 L407.3,314.2 L407.8,314.2 L408.0,314.1 L408.5,314.1 L408.7,314.1 L409.2,314.1 L409.4,314.1 L409.8,314.0 L410.1,314.0 L410.5,314.0 L410.8,314.0 L411.1,314.0 L411.6,314.0 L411.8,314.0 L412.3,314.0 L412.4,314.0 L413.0,313.9 L413.1,313.9 L413.6,313.9 L413.9,313.9 L414.2,313.9 L414.8,313.9 L414.8,313.9 L415.4,313.9 L415.7,313.9 L416.0,314.0 L416.6,314.0 L416.6,314.0 L417.2,314.0 L417.5,314.0 L417.7,314.0 L418.3,314.0 L418.5,314.0 L418.9,314.1 L419.4,314.1 L419.5,314.1 L420.0,314.1 L420.5,314.1 L420.5,314.1 L421.1,314.2 L421.6,314.2 L421.6,314.2 L422.2,314.3 L422.7,314.3 L422.8,314.3 L423.2,314.3 L423.8,314.4 L424.0,314.4 L424.3,314.4 L424.8,314.5 L425.3,314.6 L425.3,314.6 L425.8,314.6 L426.3,314.7 L426.7,314.7 L426.8,314.7 L427.3,314.8 L427.8,314.9 L428.2,314.9 L428.3,314.9 L428.8,315.0 L429.3,315.1 L429.8,315.1 L429.9,315.2 L430.3,315.2 L430.8,315.3 L431.2,315.4 L431.7,315.5 L431.9,315.5 L432.2,315.5 L432.6,315.6 L433.1,315.7 L433.6,315.8 L434.0,315.9 L434.4,316.0 L434.5,316.0 L434.9,316.1 L435.4,316.2 L435.8,316.3 L436.3,316.4 L436.7,316.5 L437.1,316.6 L437.5,316.7 L438.0,316.8 L438.4,316.9 L438.8,317.0 L439.2,317.1 L439.6,317.3 L440.0,317.4 L440.4,317.5" stroke="#e3685f"/>
<path d="M419.5,330.3 L419.3,330.3 L418.9,330.3 L418.4,330.3 L418.3,330.3 L417.8,330.3 L417.3,330.2 L417.3,330.2 L416.7,330.2 L416.3,330.2 L416.2,330.2 L415.6,330.1 L415.2,330.1 L415.1,330.1 L414.5,330.1 L414.1,330.0 L414.0,330.0 L413.5,330.0 L412.9,329.9 L412.9,329.9 L412.4,329.9 L411.9,329.8 L411.6,329.8 L411.4,329.8 L410.9,329.7 L410.3,329.7 L410.3,329.7 L409.8,329.6 L409.3,329.5 L408.8,329.5 L408.8,329.5 L408.3,329.4 L407.8,329.3 L407.3,329.3 L407.2,329.3 L406.9,329.2 L406.4,329.1 L405.9,329.1 L405.4,329.0 L405.3,329.0 L404.9,328.9 L404.5,328.8 L404.0,328.7 L403.5,328.6 L403.1,328.6 L403.1,328.6 L402.6,328.5 L402.2,328.4 L401.7,328.3 L401.3,328.2 L400.8,328.1 L400.4,328.0 L400.0,327.9 L399.5,327.8 L399.3,327.7" stroke="#e3685f"/>
<path d="M421.2,286.3 L421.2,286.5 L421.2,286.7 L421.2,286.8 L421.2,287.0 L421.2,287.0 L421.2,287.3 L421.2,287.4 L421.2,287.5 L421.2,287.7 L421.2,287.8 L421.2,288.0 L421.1,288.2 L421.1,288.2 L421.1,288.4 L421.0,288.6 L421.0,288.7 L421.0,288.9 L420.9,289.1 L420.9,289.1 L420.8,289.3 L420.7,289.5 L420.7,289.6 L420.6,289.7 L420.5,289.9 L420.4,290.1 L420.4,290.1 L420.3,290.4 L420.2,290.6 L420.1,290.7 L420.0,290.8 L419.9,291.0 L419.7,291.1 L419.6,291.3 L419.5,291.4 L419.4,291.5 L419.2,291.7 L419.0,291.9 L418.8,292.1 L418.6,292.3 L418.4,292.5 L418.4,292.5 L418.2,292.6 L418.0,292.8 L417.7,293.0 L417.5,293.1 L417.2,293.3 L417.0,293.5 L416.7,293.6 L416.4,293.8 L416.1,294.0 L415.8,294.1 L415.5,294.3 L415.2,294.4 L415.2,294.4 L414.9,294.6 L414.6,294.7 L414.3,294.9 L413.9,295.0 L413.6,295.1 L413.2,295.3 L413.2,295.3 L412.8,295.4 L412.5,295.5 L412.1,295.7 L411.8,295.8 L411.7,295.8 L411.3,295.9 L410.9,296.0 L410.7,296.1 L410.4,296.2 L410.0,296.3 L409.6,296.4 L409.5,296.4 L409.1,296.5 L408.7,296.6 L408.6,296.6 L408.1,296.7 L407.8,296.7 L407.6,296.8 L407.0,296.9 L407.0,296.9 L406.5,296.9 L406.2,297.0 L405.9,297.0 L405.5,297.1 L405.3,297.1 L404.8,297.1 L404.7,297.1 L404.1,297.2 L404.0,297.2 L403.4,297.2 L403.3,297.2 L402.8,297.2 L402.5,297.2 L402.1,297.2 L401.7,297.2 L401.5,297.2 L400.9,297.2 L400.8,297.2 L400.4,297.2 L399.9,297.2 L399.8,297.2 L399.2,297.2 L398.8,297.1 L398.7,297.1 L398.2,297.1 L397.6,297.0 L397.6,297.0 L397.1,297.0 L396.6,296.9 L396.3,296.9 L396.1,296.9 L395.6,296.8 L395.1,296.7 L394.6,296.7 L394.6,296.7 L394.2,296.6 L393.7,296.5 L393.2,296.4 L392.8,296.3 L392.4,296.3 L392.3,296.2 L391.8,296.1 L391.4,296.1 L390.9,296.0 L390.5,295.9 L390.1,295.8 L389.6,295.6 L389.2,295.5 L388.8,295.4 L388.4,295.3 L387.9,295.2 L387.5,295.1 L387.1,295.0 L386.7,294.9 L386.3,294.7 L385.9,294.6 L385.5,294.5 L385.1,294.3 L384.7,294.2 L384.3,294.1 L384.0,293.9 L383.6,293.8 L383.2,293.7 L382.9,293.5 L382.8,293.5 L382.5,293.4 L382.1,293.2 L381.7,293.1 L381.4,292.9 L381.1,292.8 L381.0,292.8 L380.7,292.6 L380.4,292.4 L380.0,292.3 L379.8,292.2 L379.7,292.1 L379.4,291.9 L379.0,291.8 L378.8,291.7 L378.7,291.6 L378.4,291.4 L378.1,291.2 L378.0,291.2 L377.8,291.0 L377.5,290.9 L377.3,290.7 L377.2,290.7 L376.9,290.5 L376.7,290.3 L376.6,290.3 L376.3,290.1 L376.1,289.9 L376.1,289.9 L375.8,289.7 L375.6,289.5 L375.5,289.5 L375.3,289.2 L375.2,289.2 L375.0,289.0 L374.8,288.8 L374.8,288.8 L374.6,288.6 L374.5,288.5 L374.3,288.4 L374.1,288.1 L374.1,288.1 L373.9,287.9 L373.8,287.8 L373.7,287.6 L373.6,287.5 L373.5,287.4 L373.4,287.2 L373.3,287.1 L373.2,286.9 L373.1,286.9 L373.0,286.6 L373.0,286.6 L372.8,286.3 L372.8,286.3 L372.6,286.0 L372.6,286.0 L372.5,285.8 L372.5,285.8 L372.4,285.5 L372.4,285.5" stroke="#f1814d"/>
<path d="M421.9,328.9 L421.8,328.9 L421.3,328.9 L420.9,328.9 L420.7,328.9 L420.1,328.9 L420.0,328.8 L419.6,328.8 L419.0,328.8 L419.0,328.8 L418.4,328.8 L418.1,328.8 L417.9,328.8 L417.3,328.7 L417.0,328.7 L416.7,328.7 L416.2,328.7 L416.0,328.7 L415.7,328.6 L415.1,328.6 L414.8,328.6 L414.6,328.5 L414.1,328.5 L413.6,328.5 L413.5,328.5 L413.0,328.4 L412.5,328.3 L412.3,328.3 L412.0,328.3 L411.5,328.2 L411.0,328.2 L410.9,328.2 L410.5,328.1 L410.0,328.0 L409.5,328.0 L409.3,327.9 L409.0,327.9 L408.5,327.8 L408.0,327.7 L407.6,327.7 L407.4,327.6 L407.1,327.6 L406.6,327.5 L406.2,327.4 L405.7,327.3 L405.2,327.2 L404.9,327.2 L404.8,327.1 L404.3,327.0 L403.9,326.9 L403.5,326.8 L403.0,326.7 L402.6,326.6 L402.2,326.5 L401.8,326.4 L401.4,326.3 L400.9,326.2 L400.5,326.0 L400.1,325.9 L399.8,325.8 L399.4,325.6 L399.0,325.5 L398.6,325.4 L398.6,325.4 L398.3,325.2 L397.9,325.1 L397.5,324.9 L397.2,324.7 L397.0,324.7 L396.9,324.6 L396.5,324.4 L396.2,324.2 L396.1,324.2 L395.9,324.1 L395.6,323.9 L395.4,323.7 L395.3,323.7 L395.1,323.5 L394.9,323.3 L394.8,323.2 L394.6,323.0 L394.5,323.0 L394.4,322.8 L394.3,322.7 L394.2,322.5 L394.1,322.4 L394.0,322.3 L393.9,322.1 L393.9,322.0 L393.8,321.8 L393.8,321.7 L393.7,321.6 L393.7,321.3 L393.7,321.3 L393.7,321.1 L393.8,320.9 L393.8,320.9 L393.9,320.6 L393.9,320.4 L394.0,320.4 L394.1,320.2 L394.2,320.0 L394.4,319.8 L394.5,319.8 L394.6,319.6 L394.8,319.5 L395.0,319.3 L395.2,319.1 L395.5,319.0 L395.7,318.8 L396.0,318.6 L396.3,318.5 L396.6,318.3 L397.0,318.2 L397.2,318.1 L397.3,318.0 L397.7,317.9 L398.0,317.8 L398.4,317.6 L398.7,317.5 L398.8,317.5 L399.2,317.4 L399.6,317.3 L399.9,317.2 L400.0,317.1 L400.5,317.0 L400.9,316.9 L400.9,316.9 L401.4,316.8 L401.8,316.7 L401.9,316.7 L402.3,316.6 L402.8,316.5 L402.8,316.5 L403.3,316.4 L403.6,316.4 L403.9,316.3 L404.4,316.2 L404.5,316.2 L404.9,316.2 L405.2,316.1 L405.5,316.1 L406.0,316.0 L406.1,316.0 L406.7,315.9 L406.8,315.9 L407.3,315.9 L407.5,315.8 L407.9,315.8 L408.2,315.8 L408.6,315.7 L408.9,315.7 L409.2,315.7 L409.6,315.7 L409.9,315.7 L410.3,315.6 L410.6,315.6 L410.9,315.6 L411.3,315.6 L411.6,315.6 L412.0,315.6 L412.2,315.5 L412.8,315.5 L412.8,315.5 L413.5,315.5 L413.6,315.5 L414.1,315.5 L414.4,315.5 L414.7,315.5 L415.2,315.5 L415.3,315.5 L415.9,315.5 L416.1,315.5 L416.5,315.5 L417.0,315.5 L417.1,315.5 L417.6,315.6 L418.0,315.6 L418.2,315.6 L418.8,315.6 L418.9,315.6 L419.3,315.6 L419.9,315.7 L420.0,315.7 L420.4,315.7 L421.0,315.7 L421.1,315.7 L421.5,315.8 L422.0,315.8 L422.2,315.8 L422.6,315.9 L423.1,315.9 L423.5,315.9 L423.6,316.0 L424.1,316.0 L424.7,316.1 L424.8,316.1 L425.2,316.1 L425.7,316.2 L426.2,316.3 L426.3,316.3 L426.7,316.3 L427.2,316.4 L427.6,316.5 L427.9,316.5 L428.1,316.5 L428.6,316.6 L429.1,316.7 L429.5,316.8 L430.0,316.9 L430.0,316.9 L430.5,316.9 L430.9,317.0 L431.4,317.1 L431.8,317.2 L432.3,317.3 L432.7,317.4 L433.0,317.5 L433.2,317.5 L433.6,317.6 L434.0,317.7 L434.5,317.8 L434.9,318.0 L435.3,318.1 L435.7,318.2 L436.1,318.3 L436.5,318.4 L436.9,318.6 L437.3,318.7 L437.4,318.7 L437.7,318.8 L438.0,319.0" stroke="#f1814d"/>
<path d="M416.4,284.9 L416.5,285.1 L416.5,285.2 L416.6,285.4 L416.6,285.5 L416.6,285.7 L416.6,285.8 L416.7,286.0 L416.7,286.1 L416.7,286.2 L416.7,286.4 L416.7,286.5 L416.7,286.7 L416.7,286.8 L416.7,286.9 L416.7,287.2 L416.7,287.2 L416.7,287.4 L416.7,287.6 L416.7,287.6 L416.6,287.9 L416.6,288.0 L416.6,288.1 L416.5,288.3 L416.4,288.5 L416.4,288.5 L416.3,288.7 L416.2,289.0 L416.2,289.0 L416.1,289.2 L416.0,289.4 L415.9,289.5 L415.9,289.6 L415.8,289.8 L415.6,290.0 L415.5,290.2 L415.4,290.2 L415.3,290.4 L415.1,290.6 L415.0,290.7 L414.8,290.9 L414.6,291.1 L414.6,291.1 L414.4,291.3 L414.1,291.5 L413.9,291.6 L413.7,291.8 L413.4,292.0 L413.2,292.2 L412.9,292.3 L412.6,292.5 L412.4,292.6 L412.1,292.8 L411.8,292.9 L411.4,293.1 L411.1,293.2 L411.1,293.2 L410.8,293.4 L410.4,293.5 L410.1,293.7 L409.7,293.8 L409.5,293.8 L409.3,293.9 L408.9,294.0 L408.5,294.2 L408.3,294.2 L408.0,294.3 L407.6,294.4 L407.3,294.4 L407.1,294.5 L406.6,294.6 L406.4,294.6 L406.1,294.7 L405.6,294.8 L405.6,294.8 L405.1,294.9 L404.8,294.9 L404.5,294.9 L404.0,295.0 L403.9,295.0 L403.3,295.0 L403.2,295.1 L402.6,295.1 L402.6,295.1 L402.0,295.1 L401.8,295.1 L401.3,295.1 L401.1,295.2 L400.7,295.2 L400.3,295.2 L400.1,295.2 L399.5,295.1 L399.4,295.1 L399.0,295.1 L398.4,295.1 L398.4,295.1 L397.8,295.1 L397.3,295.0 L397.3,295.0 L396.8,295.0 L396.3,294.9 L396.0,294.9 L395.8,294.9 L395.3,294.8 L394.8,294.7 L394.4,294.7 L394.3,294.7 L393.8,294.6 L393.3,294.5 L392.9,294.4 L392.4,294.3 L392.2,294.3 L391.9,294.2 L391.5,294.1 L391.1,294.0 L390.6,293.9 L390.2,293.8 L389.8,293.7 L389.3,293.6 L388.9,293.5 L388.5,293.4 L388.1,293.2 L387.7,293.1 L387.3,293.0 L386.9,292.8 L386.6,292.7 L386.2,292.6 L386.0,292.5 L385.8,292.4 L385.4,292.3 L385.1,292.1 L384.7,292.0 L384.4,291.8 L384.1,291.7 L384.0,291.7 L383.7,291.5 L383.3,291.4 L383.0,291.2 L382.9,291.1 L382.7,291.0 L382.3,290.8 L382.0,290.7 L382.0,290.6 L381.7,290.5 L381.4,290.3 L381.2,290.2 L381.1,290.1 L380.8,289.9 L380.6,289.8 L380.5,289.7 L380.3,289.5 L380.0,289.4 L380.0,289.3 L379.7,289.1 L379.5,289.0 L379.5,288.9 L379.2,288.7 L379.1,288.6 L379.0,288.5 L378.7,288.3 L378.7,288.3 L378.5,288.0 L378.4,287.9 L378.3,287.8 L378.1,287.6 L378.1,287.5 L377.9,287.3 L377.9,287.3 L377.7,287.0 L377.6,287.0 L377.5,286.8 L377.4,286.7 L377.3,286.5 L377.2,286.4 L377.2,286.2 L377.1,286.1 L377.0,286.0 L377.0,285.8 L376.9,285.7 L376.8,285.6 L376.8,285.4 L376.7,285.3 L376.7,285.1 L376.7,285.0 L376.6,284.8 L376.6,284.7 L376.5,284.5 L376.5,284.4 L376.5,284.3 L376.5,284.1 L376.5,284.0 L376.5,283.8 L376.5,283.7 L376.5,283.5 L376.5,283.3 L376.5,283.3 L376.5,283.1 L376.5,282.9" stroke="#f99a3e"/>
<path d="M424.3,327.4 L424.2,327.4 L423.6,327.4 L423.5,327.4 L423.0,327.5 L422.7,327.5 L422.4,327.5 L421.9,327.5 L421.8,327.5 L421.2,327.5 L421.0,327.5 L420.6,327.5 L420.1,327.5 L420.0,327.5 L419.4,327.4 L419.2,327.4 L418.8,327.4 L418.3,327.4 L418.3,327.4 L417.7,327.4 L417.2,327.3 L417.2,327.3 L416.6,327.3 L416.1,327.3 L416.1,327.3 L415.5,327.2 L415.0,327.2 L415.0,327.2 L414.5,327.1 L414.0,327.1 L413.7,327.0 L413.4,327.0 L412.9,327.0 L412.4,326.9 L412.3,326.9 L411.9,326.8 L411.4,326.8 L411.0,326.7 L410.6,326.6 L410.5,326.6 L410.0,326.5 L409.5,326.5 L409.1,326.4 L408.6,326.3 L408.4,326.3 L408.1,326.2 L407.7,326.1 L407.2,326.0 L406.8,325.9 L406.4,325.8 L405.9,325.7 L405.5,325.6 L405.1,325.5 L404.7,325.3 L404.3,325.2 L403.9,325.1 L403.5,325.0 L403.1,324.8 L402.8,324.7 L402.4,324.5 L402.3,324.5 L402.0,324.4 L401.7,324.2 L401.3,324.1 L401.1,323.9 L401.0,323.9 L400.7,323.7 L400.4,323.5 L400.3,323.4 L400.1,323.3 L399.9,323.1 L399.8,323.1 L399.6,322.9 L399.4,322.7 L399.4,322.7 L399.2,322.4 L399.2,322.4 L399.0,322.1 L399.0,322.1 L398.9,321.9 L398.9,321.8 L398.9,321.6 L398.9,321.5 L398.9,321.4 L398.9,321.1 L398.9,321.1 L399.0,320.9 L399.1,320.7 L399.1,320.6 L399.2,320.5 L399.3,320.3 L399.5,320.1 L399.7,319.9 L400.0,319.8 L400.2,319.6 L400.5,319.4 L400.8,319.3 L401.1,319.1 L401.4,319.0 L401.7,318.8 L402.1,318.7 L402.4,318.6 L402.5,318.6 L402.9,318.4 L403.3,318.3 L403.6,318.2 L403.7,318.2 L404.1,318.1 L404.6,318.0 L404.6,318.0 L405.1,317.9 L405.6,317.8 L405.6,317.8 L406.1,317.7 L406.4,317.6 L406.6,317.6 L407.1,317.5 L407.2,317.5 L407.7,317.4 L408.0,317.4 L408.3,317.3 L408.8,317.3 L408.9,317.3 L409.5,317.2 L409.5,317.2 L410.1,317.1 L410.2,317.1 L410.7,317.1 L410.9,317.1 L411.4,317.0 L411.6,317.0 L412.1,317.0 L412.2,317.0 L412.8,317.0 L412.9,317.0 L413.5,317.0 L413.6,317.0 L414.2,316.9 L414.4,316.9 L414.8,316.9 L415.2,316.9 L415.4,316.9 L416.0,316.9 L416.0,316.9 L416.6,316.9 L416.9,316.9 L417.2,317.0 L417.7,317.0 L417.8,317.0 L418.3,317.0 L418.8,317.0 L418.9,317.0 L419.4,317.0 L419.9,317.1 L420.0,317.1 L420.5,317.1 L421.0,317.1 L421.1,317.2 L421.6,317.2 L422.1,317.2 L422.2,317.3 L422.6,317.3 L423.2,317.4 L423.5,317.4 L423.7,317.4 L424.2,317.5 L424.7,317.5 L425.0,317.6 L425.2,317.6 L425.7,317.7 L426.1,317.8 L426.6,317.8 L426.8,317.9 L427.1,317.9 L427.6,318.0 L428.0,318.1 L428.5,318.2 L428.9,318.3 L429.3,318.3 L429.4,318.4 L429.8,318.5 L430.3,318.6 L430.7,318.7 L431.1,318.8 L431.5,318.9 L431.9,319.0 L432.4,319.1 L432.8,319.3 L433.1,319.4 L433.5,319.5 L433.9,319.6 L433.9,319.7 L434.3,319.8 L434.6,320.0 L435.0,320.1 L435.3,320.3 L435.5,320.4 L435.7,320.4" stroke="#f99a3e"/>
<path d="M411.1,283.4 L411.2,283.5 L411.3,283.7 L411.4,283.8 L411.5,284.0 L411.6,284.1 L411.7,284.3 L411.7,284.3 L411.8,284.6 L411.9,284.6 L412.0,284.9 L412.0,284.9 L412.1,285.1 L412.1,285.2 L412.1,285.4 L412.2,285.5 L412.2,285.6 L412.2,285.9 L412.2,285.9 L412.3,286.1 L412.3,286.2 L412.3,286.4 L412.3,286.6 L412.3,286.6 L412.3,286.9 L412.2,287.0 L412.2,287.1 L412.2,287.3 L412.2,287.4 L412.1,287.5 L412.1,287.8 L412.0,287.9 L412.0,288.0 L411.9,288.2 L411.8,288.4 L411.8,288.4 L411.6,288.6 L411.5,288.8 L411.4,289.0 L411.4,289.0 L411.2,289.2 L411.0,289.4 L410.9,289.6 L410.7,289.8 L410.6,289.9 L410.5,289.9 L410.3,290.1 L410.0,290.3 L409.8,290.5 L409.5,290.6 L409.3,290.8 L409.0,291.0 L408.7,291.1 L408.4,291.3 L408.1,291.4 L407.8,291.5 L407.8,291.6 L407.4,291.7 L407.1,291.8 L406.7,292.0 L406.3,292.1 L406.3,292.1 L405.9,292.2 L405.4,292.3 L405.2,292.4 L405.0,292.4 L404.5,292.5 L404.3,292.6 L404.0,292.6 L403.5,292.7 L403.5,292.7 L402.9,292.8 L402.7,292.8 L402.3,292.9 L402.0,292.9 L401.7,292.9 L401.3,293.0 L401.0,293.0 L400.6,293.0 L400.3,293.0 L400.0,293.0 L399.5,293.0 L399.4,293.0 L398.8,293.0 L398.6,293.0 L398.2,293.0 L397.7,293.0 L397.6,293.0 L397.1,292.9 L396.5,292.9 L396.5,292.9 L396.0,292.8 L395.5,292.8 L395.2,292.7 L395.0,292.7 L394.5,292.6 L394.1,292.6 L393.6,292.5 L393.2,292.4 L393.1,292.4 L392.7,292.3 L392.2,292.2 L391.8,292.1 L391.4,292.0 L390.9,291.9 L390.5,291.8 L390.1,291.6 L389.7,291.5 L389.3,291.4 L388.9,291.3 L388.6,291.1 L388.2,291.0 L388.1,291.0 L387.8,290.8 L387.5,290.7 L387.1,290.5 L386.8,290.4 L386.5,290.3 L386.4,290.2 L386.1,290.0 L385.8,289.9 L385.5,289.7 L385.4,289.7 L385.1,289.5 L384.8,289.3 L384.7,289.3 L384.5,289.1 L384.2,289.0 L384.1,288.8 L383.9,288.8 L383.7,288.5 L383.6,288.5 L383.4,288.3 L383.2,288.1 L383.1,288.1 L382.9,287.9 L382.7,287.7 L382.7,287.7 L382.5,287.4 L382.4,287.4 L382.2,287.2 L382.1,287.1 L382.0,287.0 L381.9,286.8 L381.8,286.7 L381.7,286.5 L381.7,286.4 L381.5,286.2 L381.5,286.2 L381.4,285.9 L381.4,285.9 L381.2,285.6 L381.2,285.6 L381.1,285.4 L381.1,285.3 L381.1,285.1 L381.0,285.0 L381.0,284.8 L381.0,284.6 L381.0,284.6 L380.9,284.3 L380.9,284.3 L380.9,284.1 L380.9,283.9 L380.9,283.9 L381.0,283.6 L381.0,283.5 L381.0,283.4 L381.0,283.2 L381.1,283.1 L381.1,283.0 L381.2,282.7 L381.2,282.6 L381.3,282.5 L381.4,282.3 L381.5,282.1 L381.5,282.1 L381.6,281.9 L381.8,281.7 L381.9,281.5 L382.0,281.4 L382.1,281.3 L382.2,281.1 L382.4,280.9 L382.6,280.8 L382.8,280.6 L383.1,280.4 L383.1,280.4 L383.3,280.2 L383.5,280.1 L383.8,279.9 L384.1,279.7 L384.4,279.6 L384.6,279.4 L384.7,279.4 L385.0,279.3 L385.3,279.1 L385.6,279.0 L386.0,278.8 L386.3,278.7 L386.6,278.6 L386.7,278.6 L387.1,278.4 L387.5,278.3 L387.8,278.3 L387.9,278.2 L388.4,278.1 L388.8,278.0 L388.9,278.0 L389.4,277.9 L389.6,277.8 L389.9,277.8 L390.4,277.7 L390.5,277.7 L391.0,277.6" stroke="#fdb42f"/>
<path d="M427.4,325.5 L426.9,325.6 L426.6,325.6 L426.4,325.7 L425.9,325.7 L425.8,325.7 L425.2,325.8 L425.1,325.8 L424.6,325.8 L424.4,325.9 L423.9,325.9 L423.7,325.9 L423.2,325.9 L423.1,325.9 L422.5,326.0 L422.4,326.0 L421.8,326.0 L421.7,326.0 L421.2,326.0 L420.9,326.0 L420.6,326.0 L420.1,326.0 L420.0,326.0 L419.4,326.0 L419.2,326.0 L418.8,326.0 L418.2,325.9 L418.2,325.9 L417.7,325.9 L417.1,325.9 L417.1,325.9 L416.6,325.8 L416.1,325.8 L416.0,325.8 L415.5,325.7 L415.0,325.7 L414.7,325.7 L414.5,325.6 L414.0,325.6 L413.5,325.5 L413.2,325.5 L413.0,325.4 L412.5,325.4 L412.1,325.3 L411.6,325.2 L411.1,325.1 L411.0,325.1 L410.7,325.0 L410.2,324.9 L409.8,324.8 L409.4,324.7 L408.9,324.6 L408.5,324.5 L408.1,324.3 L407.7,324.2 L407.4,324.1 L407.0,323.9 L406.9,323.9 L406.6,323.8 L406.3,323.6 L406.0,323.5 L405.7,323.3 L405.6,323.3 L405.3,323.1 L405.1,322.9 L405.1,322.9 L404.8,322.7 L404.7,322.6 L404.6,322.4 L404.5,322.2 L404.4,322.2 L404.3,322.0 L404.3,321.9 L404.3,321.7 L404.3,321.5 L404.3,321.5 L404.3,321.3 L404.4,321.0 L404.5,321.0 L404.6,320.8 L404.8,320.7 L405.0,320.5 L405.2,320.3 L405.5,320.1 L405.8,320.0 L406.1,319.8 L406.5,319.7 L406.8,319.6 L406.9,319.6 L407.2,319.4 L407.7,319.3 L408.0,319.2 L408.1,319.2 L408.6,319.1 L408.9,319.0 L409.1,319.0 L409.6,318.9 L409.8,318.9 L410.1,318.8 L410.6,318.8 L410.7,318.7 L411.2,318.7 L411.4,318.7 L411.9,318.6 L412.1,318.6 L412.5,318.6 L412.8,318.5 L413.2,318.5 L413.5,318.5 L413.9,318.5 L414.1,318.5 L414.6,318.4 L414.8,318.4 L415.4,318.4 L415.4,318.4 L416.0,318.4 L416.2,318.4 L416.6,318.4 L417.0,318.4 L417.2,318.4 L417.8,318.4 L417.9,318.4 L418.3,318.5 L418.9,318.5 L418.9,318.5 L419.5,318.5 L420.0,318.5 L420.0,318.5 L420.5,318.6 L421.1,318.6 L421.2,318.7 L421.6,318.7 L422.1,318.7 L422.5,318.8 L422.6,318.8 L423.1,318.9 L423.6,318.9 L424.1,319.0 L424.2,319.0 L424.6,319.1 L425.0,319.2 L425.5,319.3 L425.9,319.4 L426.4,319.5 L426.8,319.6 L427.0,319.6 L427.3,319.7 L427.7,319.8 L428.1,319.9 L428.5,320.0 L428.9,320.1 L429.0,320.2 L429.3,320.3 L429.7,320.4 L430.0,320.6 L430.4,320.7 L430.7,320.9 L430.8,320.9 L431.0,321.0 L431.4,321.2 L431.6,321.4 L431.6,321.4 L431.9,321.6 L432.1,321.8 L432.2,321.9 L432.4,322.1 L432.4,322.1 L432.5,322.4" stroke="#fdb42f"/>
<path d="M406.6,287.9 L406.4,288.1 L406.2,288.2 L406.0,288.4 L405.8,288.6 L405.6,288.8 L405.3,288.9 L405.1,289.1 L404.8,289.3 L404.5,289.4 L404.2,289.6 L403.8,289.7 L403.4,289.8 L403.2,289.9 L403.0,290.0 L402.6,290.1 L402.2,290.2 L402.2,290.2 L401.7,290.3 L401.3,290.4 L401.1,290.4 L400.6,290.5 L400.5,290.5 L399.9,290.5 L399.8,290.5 L399.3,290.6 L399.1,290.6 L398.5,290.6 L398.5,290.6 L397.9,290.6 L397.6,290.6 L397.3,290.6 L396.8,290.5 L396.6,290.5 L396.3,290.5 L395.7,290.4 L395.2,290.4 L395.1,290.3 L394.8,290.3 L394.3,290.2 L393.8,290.1 L393.4,290.0 L393.0,289.9 L392.5,289.8 L392.1,289.7 L391.7,289.5 L391.4,289.4 L391.0,289.3 L390.6,289.1 L390.2,289.0 L390.0,288.9 L389.9,288.8 L389.6,288.6 L389.2,288.5 L389.0,288.3 L388.9,288.3 L388.6,288.1 L388.3,287.9 L388.3,287.9 L388.0,287.7 L387.8,287.5 L387.7,287.5 L387.5,287.3 L387.3,287.1 L387.3,287.1 L387.0,286.9 L387.0,286.8 L386.8,286.6 L386.7,286.5 L386.6,286.4 L386.5,286.2 L386.5,286.1 L386.3,285.9 L386.3,285.8 L386.2,285.6 L386.2,285.5 L386.1,285.3 L386.1,285.2 L386.0,285.1 L386.0,284.9 L386.0,284.8 L386.0,284.6 L386.0,284.6 L386.0,284.3 L386.0,284.2 L386.0,284.1 L386.0,283.9 L386.1,283.7 L386.1,283.7 L386.2,283.5 L386.3,283.2 L386.3,283.2 L386.4,283.0 L386.5,282.8 L386.7,282.6 L386.8,282.6 L386.9,282.5 L387.1,282.3 L387.3,282.1 L387.5,281.9 L387.7,281.7 L388.0,281.6 L388.3,281.4 L388.6,281.3 L388.9,281.1 L389.2,281.0 L389.6,280.8 L389.6,280.8 L390.0,280.7 L390.4,280.6 L390.8,280.5 L390.8,280.5 L391.3,280.4 L391.7,280.3 L391.8,280.3 L392.3,280.2 L392.5,280.1 L392.9,280.1 L393.3,280.1 L393.5,280.0 L394.0,280.0 L394.2,280.0 L394.6,280.0 L395.0,280.0 L395.2,280.0 L395.8,280.0 L395.9,280.0 L396.4,280.0 L396.9,280.1 L396.9,280.1 L397.4,280.1 L397.9,280.2 L398.4,280.2 L398.4,280.2 L398.9,280.3 L399.4,280.4 L399.8,280.5 L400.2,280.6 L400.7,280.7 L401.1,280.8 L401.5,281.0 L401.9,281.1 L402.2,281.2 L402.6,281.4 L403.0,281.5 L403.0,281.6 L403.3,281.7 L403.6,281.9 L404.0,282.0 L404.1,282.1 L404.3,282.2 L404.6,282.4 L404.8,282.6 L404.9,282.6 L405.2,282.8 L405.4,283.0 L405.4,283.0 L405.7,283.2 L405.8,283.3 L405.9,283.4 L406.1,283.7 L406.1,283.7 L406.4,283.9 L406.4,284.0 L406.5,284.2 L406.6,284.3 L406.7,284.4 L406.8,284.6 L406.9,284.7 L407.0,284.9 L407.0,285.0 L407.1,285.1 L407.1,285.3 L407.1,285.4 L407.2,285.6 L407.2,285.6 L407.2,285.9 L407.2,286.0 L407.2,286.1 L407.2,286.3 L407.2,286.4 L407.2,286.6 L407.1,286.8 L407.1,286.8 L407.1,287.0 L407.0,287.2 L407.0,287.3 L406.9,287.5 L406.7,287.7 L406.6,287.8 L406.6,287.9" stroke="#fcd225"/>
<path d="M425.1,322.9 L424.9,323.1 L424.6,323.2 L424.3,323.4 L424.2,323.4 L423.9,323.5 L423.5,323.6 L423.1,323.7 L423.0,323.7 L422.5,323.8 L422.2,323.9 L421.9,323.9 L421.5,323.9 L421.3,324.0 L420.8,324.0 L420.6,324.0 L420.2,324.0 L419.9,324.0 L419.5,324.0 L419.0,324.0 L418.9,324.0 L418.4,324.0 L418.1,324.0 L417.8,324.0 L417.3,323.9 L416.9,323.9 L416.8,323.9 L416.3,323.8 L415.8,323.7 L415.3,323.7 L415.3,323.7 L414.8,323.6 L414.4,323.5 L414.0,323.4 L413.5,323.3 L413.2,323.1 L412.8,323.0 L412.6,322.9 L412.4,322.8 L412.1,322.6 L411.9,322.5 L411.9,322.4 L411.7,322.2 L411.7,322.1 L411.6,321.9 L411.6,321.8 L411.7,321.7 L411.8,321.5 L412.0,321.3 L412.3,321.1 L412.7,321.0 L413.0,320.9 L413.3,320.8 L413.5,320.8 L414.0,320.7 L414.2,320.6 L414.5,320.6 L415.0,320.5 L415.1,320.5 L415.7,320.4 L415.7,320.4 L416.4,320.4 L416.4,320.4 L417.0,320.4 L417.2,320.4 L417.6,320.4 L418.1,320.4 L418.2,320.4 L418.8,320.4 L419.1,320.4 L419.3,320.5 L419.8,320.5 L420.3,320.6 L420.3,320.6 L420.8,320.6 L421.3,320.7 L421.8,320.8 L422.2,320.9 L422.6,321.0 L422.7,321.0 L423.1,321.1 L423.5,321.2 L423.5,321.2 L423.9,321.4 L424.2,321.5 L424.5,321.7 L424.8,321.8 L424.8,321.9 L425.1,322.1 L425.1,322.2 L425.2,322.4 L425.2,322.4 L425.2,322.7 L425.1,322.8 L425.1,322.9" stroke="#fcd225"/>
</g>
<line x1="334.0" y1="309.0" x2="416.0" y2="332.5" stroke="#8a8a8a" stroke-width="0.8"/>
<line x1="416.0" y1="332.5" x2="469.0" y2="300.0" stroke="#8a8a8a" stroke-width="0.8"/>
<line x1="469.0" y1="300.0" x2="387.0" y2="276.5" stroke="#8a8a8a" stroke-width="0.8"/>
<line x1="387.0" y1="276.5" x2="334.0" y2="309.0" stroke="#8a8a8a" stroke-width="0.8"/>
<line x1="334.0" y1="309.0" x2="334.0" y2="284.76516006870503" stroke="#8a8a8a" stroke-width="0.8"/>
<line x1="416.0" y1="332.5" x2="416.0" y2="288.6706251625653" stroke="#8a8a8a" stroke-width="0.8"/>
<line x1="469.0" y1="300.0" x2="469.0" y2="275.44311032760686" stroke="#8a8a8a" stroke-width="0.8"/>
<polyline points="369.2,303.8 381.8,303.8 393.2,302.9 403.8,302.6 414.8,301.6 426.1,301.1 436,299.6" fill="none" stroke="#777" stroke-width="0.8" stroke-dasharray="1.5,1"/>
<polyline points="369.2,303.8 378.5,305.7 382.2,308.5 395,309.4 407.6,309 418.2,307.2 427.4,304.4 436,299.6" fill="none" stroke="#222" stroke-width="1"/>
<circle cx="381.8" cy="303.8" r="1.55" fill="#fff" stroke="#222" stroke-width="1.0"/>
<circle cx="393.2" cy="302.9" r="1.55" fill="#fff" stroke="#222" stroke-width="1.0"/>
<circle cx="403.8" cy="302.6" r="1.55" fill="#fff" stroke="#222" stroke-width="1.0"/>
<circle cx="414.8" cy="301.6" r="1.55" fill="#fff" stroke="#222" stroke-width="1.0"/>
<circle cx="426.1" cy="301.1" r="1.55" fill="#fff" stroke="#222" stroke-width="1.0"/>
<circle cx="378.5" cy="305.7" r="1.55" fill="#fff" stroke="#222" stroke-width="1.0"/>
<circle cx="382.2" cy="308.5" r="1.55" fill="#fff" stroke="#222" stroke-width="1.0"/>
<circle cx="395" cy="309.4" r="1.55" fill="#fff" stroke="#222" stroke-width="1.0"/>
<circle cx="407.6" cy="309" r="1.55" fill="#fff" stroke="#222" stroke-width="1.0"/>
<circle cx="418.2" cy="307.2" r="1.55" fill="#fff" stroke="#222" stroke-width="1.0"/>
<circle cx="427.4" cy="304.4" r="1.55" fill="#fff" stroke="#222" stroke-width="1.0"/>
<defs><filter id="sb" x="-5%" y="-5%" width="110%" height="110%"><feGaussianBlur stdDeviation="0.35"/></filter></defs>
<defs><clipPath id="sc"><path d="M0,0 L520,0 L520,337 L470,337 L469.4,275.5 L462.5,277.4 L453.8,280.5 L445,284 L437.5,286.6 L431,284.3 L426,279.8 L423,276 L418.5,280 L416,283 L416,337 L0,337 Z"/></clipPath></defs><g clip-path="url(#sc)">
<g stroke-width="0.45" stroke-linejoin="round" filter="url(#sb)">
<path d="M385.7,229.4L387.7,229.5L389.1,229.0L387.0,229.0Z" fill="#f5e926" stroke="#f5e926"/>
<path d="M387.7,229.5L389.8,229.7L391.1,229.2L389.1,229.0Z" fill="#f3ee27" stroke="#f3ee27"/>
<path d="M384.4,229.9L386.4,230.1L387.7,229.5L385.7,229.4Z" fill="#f4ed27" stroke="#f4ed27"/>
<path d="M389.8,229.7L391.8,230.1L393.1,229.5L391.1,229.2Z" fill="#f2f227" stroke="#f2f227"/>
<path d="M386.4,230.1L388.5,230.3L389.8,229.7L387.7,229.5Z" fill="#f2f227" stroke="#f2f227"/>
<path d="M383.0,230.7L385.1,230.8L386.4,230.1L384.4,229.9Z" fill="#f3ee27" stroke="#f3ee27"/>
<path d="M391.8,230.1L393.9,230.5L395.2,229.9L393.1,229.5Z" fill="#f1f525" stroke="#f1f525"/>
<path d="M388.5,230.3L390.5,230.7L391.8,230.1L389.8,229.7Z" fill="#f1f525" stroke="#f1f525"/>
<path d="M385.1,230.8L387.1,231.1L388.5,230.3L386.4,230.1Z" fill="#f1f426" stroke="#f1f426"/>
<path d="M381.7,231.6L383.8,231.7L385.1,230.8L383.0,230.7Z" fill="#f3ee27" stroke="#f3ee27"/>
<path d="M393.9,230.5L395.9,231.0L397.2,230.4L395.2,229.9Z" fill="#f1f525" stroke="#f1f525"/>
<path d="M390.5,230.7L392.6,231.2L393.9,230.5L391.8,230.1Z" fill="#f1f525" stroke="#f1f525"/>
<path d="M387.1,231.1L389.2,231.5L390.5,230.7L388.5,230.3Z" fill="#f1f525" stroke="#f1f525"/>
<path d="M395.9,231.0L398.0,231.7L399.3,231.0L397.2,230.4Z" fill="#f1f525" stroke="#f1f525"/>
<path d="M383.8,231.7L385.8,232.0L387.1,231.1L385.1,230.8Z" fill="#f1f426" stroke="#f1f426"/>
<path d="M380.4,232.8L382.4,232.8L383.8,231.7L381.7,231.6Z" fill="#f4ed27" stroke="#f4ed27"/>
<path d="M392.6,231.2L394.6,231.8L395.9,231.0L393.9,230.5Z" fill="#f1f525" stroke="#f1f525"/>
<path d="M389.2,231.5L391.2,232.1L392.6,231.2L390.5,230.7Z" fill="#f1f525" stroke="#f1f525"/>
<path d="M398.0,231.7L400.0,232.5L401.4,231.9L399.3,231.0Z" fill="#f1f525" stroke="#f1f525"/>
<path d="M385.8,232.0L387.8,232.4L389.2,231.5L387.1,231.1Z" fill="#f1f525" stroke="#f1f525"/>
<path d="M382.4,232.8L384.5,233.1L385.8,232.0L383.8,231.7Z" fill="#f2f227" stroke="#f2f227"/>
<path d="M394.6,231.8L396.7,232.5L398.0,231.7L395.9,231.0Z" fill="#f1f525" stroke="#f1f525"/>
<path d="M379.1,234.1L381.1,234.1L382.4,232.8L380.4,232.8Z" fill="#f6e826" stroke="#f6e826"/>
<path d="M391.2,232.1L393.3,232.7L394.6,231.8L392.6,231.2Z" fill="#f1f525" stroke="#f1f525"/>
<path d="M400.0,232.5L402.1,233.4L403.4,232.9L401.4,231.9Z" fill="#f2f227" stroke="#f2f227"/>
<path d="M387.8,232.4L389.9,233.0L391.2,232.1L389.2,231.5Z" fill="#f1f525" stroke="#f1f525"/>
<path d="M396.7,232.5L398.7,233.3L400.0,232.5L398.0,231.7Z" fill="#f1f525" stroke="#f1f525"/>
<path d="M384.5,233.1L386.5,233.5L387.8,232.4L385.8,232.0Z" fill="#f1f426" stroke="#f1f426"/>
<path d="M377.7,235.7L379.8,235.6L381.1,234.1L379.1,234.1Z" fill="#f8e125" stroke="#f8e125"/>
<path d="M381.1,234.1L383.2,234.3L384.5,233.1L382.4,232.8Z" fill="#f4ed27" stroke="#f4ed27"/>
<path d="M402.1,233.4L404.1,234.5L405.4,234.0L403.4,232.9Z" fill="#f4ed27" stroke="#f4ed27"/>
<path d="M393.3,232.7L395.3,233.4L396.7,232.5L394.6,231.8Z" fill="#f1f525" stroke="#f1f525"/>
<path d="M389.9,233.0L391.9,233.7L393.3,232.7L391.2,232.1Z" fill="#f1f525" stroke="#f1f525"/>
<path d="M398.7,233.3L400.8,234.2L402.1,233.4L400.0,232.5Z" fill="#f1f426" stroke="#f1f426"/>
<path d="M404.1,234.5L406.2,235.8L407.5,235.3L405.4,234.0Z" fill="#f6e626" stroke="#f6e626"/>
<path d="M386.5,233.5L388.6,234.0L389.9,233.0L387.8,232.4Z" fill="#f1f525" stroke="#f1f525"/>
<path d="M376.4,237.5L378.5,237.3L379.8,235.6L377.7,235.7Z" fill="#fbd724" stroke="#fbd724"/>
<path d="M383.2,234.3L385.2,234.7L386.5,233.5L384.5,233.1Z" fill="#f3f027" stroke="#f3f027"/>
<path d="M395.3,233.4L397.4,234.2L398.7,233.3L396.7,232.5Z" fill="#f1f525" stroke="#f1f525"/>
<path d="M379.8,235.6L381.8,235.7L383.2,234.3L381.1,234.1Z" fill="#f6e826" stroke="#f6e826"/>
<path d="M400.8,234.2L402.8,235.2L404.1,234.5L402.1,233.4Z" fill="#f3ee27" stroke="#f3ee27"/>
<path d="M391.9,233.7L394.0,234.4L395.3,233.4L393.3,232.7Z" fill="#f1f525" stroke="#f1f525"/>
<path d="M406.2,235.8L408.2,237.2L409.6,236.8L407.5,235.3Z" fill="#f9dc24" stroke="#f9dc24"/>
<path d="M388.6,234.0L390.6,234.7L391.9,233.7L389.9,233.0Z" fill="#f1f525" stroke="#f1f525"/>
<path d="M397.4,234.2L399.4,235.1L400.8,234.2L398.7,233.3Z" fill="#f2f227" stroke="#f2f227"/>
<path d="M375.1,239.4L377.1,239.2L378.5,237.3L376.4,237.5Z" fill="#fccd25" stroke="#fccd25"/>
<path d="M385.2,234.7L387.2,235.2L388.6,234.0L386.5,233.5Z" fill="#f2f227" stroke="#f2f227"/>
<path d="M408.2,237.2L410.3,238.7L411.6,238.4L409.6,236.8Z" fill="#fcd225" stroke="#fcd225"/>
<path d="M378.5,237.3L380.5,237.3L381.8,235.7L379.8,235.6Z" fill="#f9dd25" stroke="#f9dd25"/>
<path d="M402.8,235.2L404.9,236.4L406.2,235.8L404.1,234.5Z" fill="#f6e826" stroke="#f6e826"/>
<path d="M381.8,235.7L383.9,236.0L385.2,234.7L383.2,234.3Z" fill="#f5eb27" stroke="#f5eb27"/>
<path d="M394.0,234.4L396.1,235.2L397.4,234.2L395.3,233.4Z" fill="#f1f426" stroke="#f1f426"/>
<path d="M410.3,238.7L412.3,240.4L413.6,240.2L411.6,238.4Z" fill="#fdc827" stroke="#fdc827"/>
<path d="M390.6,234.7L392.7,235.5L394.0,234.4L391.9,233.7Z" fill="#f1f426" stroke="#f1f426"/>
<path d="M399.4,235.1L401.5,236.1L402.8,235.2L400.8,234.2Z" fill="#f3ee27" stroke="#f3ee27"/>
<path d="M373.8,241.5L375.8,241.2L377.1,239.2L375.1,239.4Z" fill="#fdc229" stroke="#fdc229"/>
<path d="M404.9,236.4L406.9,237.7L408.2,237.2L406.2,235.8Z" fill="#f8df25" stroke="#f8df25"/>
<path d="M387.2,235.2L389.3,235.8L390.6,234.7L388.6,234.0Z" fill="#f2f227" stroke="#f2f227"/>
<path d="M377.1,239.2L379.2,239.1L380.5,237.3L378.5,237.3Z" fill="#fbd324" stroke="#fbd324"/>
<path d="M412.3,240.4L414.4,242.2L415.7,242.1L413.6,240.2Z" fill="#febd2a" stroke="#febd2a"/>
<path d="M396.1,235.2L398.1,236.1L399.4,235.1L397.4,234.2Z" fill="#f3f027" stroke="#f3f027"/>
<path d="M383.9,236.0L385.9,236.5L387.2,235.2L385.2,234.7Z" fill="#f4ed27" stroke="#f4ed27"/>
<path d="M380.5,237.3L382.5,237.5L383.9,236.0L381.8,235.7Z" fill="#f7e225" stroke="#f7e225"/>
<path d="M401.5,236.1L403.5,237.2L404.9,236.4L402.8,235.2Z" fill="#f5e926" stroke="#f5e926"/>
<path d="M406.9,237.7L409.0,239.2L410.3,238.7L408.2,237.2Z" fill="#fbd724" stroke="#fbd724"/>
<path d="M392.7,235.5L394.7,236.3L396.1,235.2L394.0,234.4Z" fill="#f3f027" stroke="#f3f027"/>
<path d="M414.4,242.2L416.4,244.1L417.8,244.1L415.7,242.1Z" fill="#fdb130" stroke="#fdb130"/>
<path d="M372.4,243.8L374.5,243.4L375.8,241.2L373.8,241.5Z" fill="#fdb52e" stroke="#fdb52e"/>
<path d="M389.3,235.8L391.4,236.6L392.7,235.5L390.6,234.7Z" fill="#f3f027" stroke="#f3f027"/>
<path d="M398.1,236.1L400.1,237.1L401.5,236.1L399.4,235.1Z" fill="#f4ed27" stroke="#f4ed27"/>
<path d="M375.8,241.2L377.9,241.1L379.2,239.1L377.1,239.2Z" fill="#fdca26" stroke="#fdca26"/>
<path d="M416.4,244.1L418.5,246.1L419.8,246.1L417.8,244.1Z" fill="#fca537" stroke="#fca537"/>
<path d="M409.0,239.2L411.0,240.8L412.3,240.4L410.3,238.7Z" fill="#fccd25" stroke="#fccd25"/>
<path d="M385.9,236.5L388.0,237.1L389.3,235.8L387.2,235.2Z" fill="#f4ed27" stroke="#f4ed27"/>
<path d="M403.5,237.2L405.6,238.5L406.9,237.7L404.9,236.4Z" fill="#f8e125" stroke="#f8e125"/>
<path d="M379.2,239.1L381.2,239.2L382.5,237.5L380.5,237.3Z" fill="#fada24" stroke="#fada24"/>
<path d="M382.5,237.5L384.6,237.9L385.9,236.5L383.9,236.0Z" fill="#f6e626" stroke="#f6e626"/>
<path d="M394.7,236.3L396.8,237.2L398.1,236.1L396.1,235.2Z" fill="#f3ee27" stroke="#f3ee27"/>
<path d="M371.1,246.2L373.2,245.7L374.5,243.4L372.4,243.8Z" fill="#fca934" stroke="#fca934"/>
<path d="M418.5,246.1L420.5,248.2L421.9,248.2L419.8,246.1Z" fill="#f99a3e" stroke="#f99a3e"/>
<path d="M411.0,240.8L413.1,242.5L414.4,242.2L412.3,240.4Z" fill="#fdc229" stroke="#fdc229"/>
<path d="M391.4,236.6L393.4,237.5L394.7,236.3L392.7,235.5Z" fill="#f4ed27" stroke="#f4ed27"/>
<path d="M400.1,237.1L402.2,238.2L403.5,237.2L401.5,236.1Z" fill="#f6e826" stroke="#f6e826"/>
<path d="M405.6,238.5L407.6,239.8L409.0,239.2L406.9,237.7Z" fill="#fad824" stroke="#fad824"/>
<path d="M420.5,248.2L422.6,250.3L423.9,250.4L421.9,248.2Z" fill="#f68f44" stroke="#f68f44"/>
<path d="M374.5,243.4L376.5,243.2L377.9,241.1L375.8,241.2Z" fill="#febd2a" stroke="#febd2a"/>
<path d="M388.0,237.1L390.0,237.9L391.4,236.6L389.3,235.8Z" fill="#f5eb27" stroke="#f5eb27"/>
<path d="M413.1,242.5L415.1,244.4L416.4,244.1L414.4,242.2Z" fill="#feb72d" stroke="#feb72d"/>
<path d="M369.8,248.6L371.8,248.2L373.2,245.7L371.1,246.2Z" fill="#fa9c3c" stroke="#fa9c3c"/>
<path d="M396.8,237.2L398.8,238.2L400.1,237.1L398.1,236.1Z" fill="#f5e926" stroke="#f5e926"/>
<path d="M377.9,241.1L379.9,241.1L381.2,239.2L379.2,239.1Z" fill="#fcce25" stroke="#fcce25"/>
<path d="M384.6,237.9L386.6,238.5L388.0,237.1L385.9,236.5Z" fill="#f6e826" stroke="#f6e826"/>
<path d="M422.6,250.3L424.6,252.4L425.9,252.4L423.9,250.4Z" fill="#f1834c" stroke="#f1834c"/>
<path d="M381.2,239.2L383.3,239.6L384.6,237.9L382.5,237.5Z" fill="#f9dd25" stroke="#f9dd25"/>
<path d="M402.2,238.2L404.2,239.4L405.6,238.5L403.5,237.2Z" fill="#f8e125" stroke="#f8e125"/>
<path d="M407.6,239.8L409.7,241.4L411.0,240.8L409.0,239.2Z" fill="#fcce25" stroke="#fcce25"/>
<path d="M393.4,237.5L395.4,238.4L396.8,237.2L394.7,236.3Z" fill="#f5e926" stroke="#f5e926"/>
<path d="M415.1,244.4L417.2,246.3L418.5,246.1L416.4,244.1Z" fill="#fdab33" stroke="#fdab33"/>
<path d="M373.2,245.7L375.2,245.5L376.5,243.2L374.5,243.4Z" fill="#fdb130" stroke="#fdb130"/>
<path d="M424.6,252.4L426.7,254.4L428.0,254.4L425.9,252.4Z" fill="#ed7953" stroke="#ed7953"/>
<path d="M390.0,237.9L392.1,238.7L393.4,237.5L391.4,236.6Z" fill="#f5e926" stroke="#f5e926"/>
<path d="M368.4,251.1L370.5,250.7L371.8,248.2L369.8,248.6Z" fill="#f79044" stroke="#f79044"/>
<path d="M398.8,238.2L400.9,239.3L402.2,238.2L400.1,237.1Z" fill="#f7e425" stroke="#f7e425"/>
<path d="M417.2,246.3L419.2,248.3L420.5,248.2L418.5,246.1Z" fill="#fb9f3a" stroke="#fb9f3a"/>
<path d="M376.5,243.2L378.6,243.2L379.9,241.1L377.9,241.1Z" fill="#fdc328" stroke="#fdc328"/>
<path d="M409.7,241.4L411.7,243.0L413.1,242.5L411.0,240.8Z" fill="#fdc527" stroke="#fdc527"/>
<path d="M386.6,238.5L388.7,239.2L390.0,237.9L388.0,237.1Z" fill="#f6e626" stroke="#f6e626"/>
<path d="M426.7,254.4L428.7,256.4L430.1,256.4L428.0,254.4Z" fill="#e76e5b" stroke="#e76e5b"/>
<path d="M404.2,239.4L406.3,240.7L407.6,239.8L405.6,238.5Z" fill="#fad824" stroke="#fad824"/>
<path d="M379.9,241.1L381.9,241.4L383.3,239.6L381.2,239.2Z" fill="#fcd225" stroke="#fcd225"/>
<path d="M383.3,239.6L385.3,240.1L386.6,238.5L384.6,237.9Z" fill="#f8df25" stroke="#f8df25"/>
<path d="M395.4,238.4L397.5,239.4L398.8,238.2L396.8,237.2Z" fill="#f6e626" stroke="#f6e626"/>
<path d="M371.8,248.2L373.9,247.9L375.2,245.5L373.2,245.7Z" fill="#fca537" stroke="#fca537"/>
<path d="M419.2,248.3L421.2,250.4L422.6,250.3L420.5,248.2Z" fill="#f89441" stroke="#f89441"/>
<path d="M367.1,253.6L369.2,253.2L370.5,250.7L368.4,251.1Z" fill="#f2844b" stroke="#f2844b"/>
<path d="M411.7,243.0L413.8,244.8L415.1,244.4L413.1,242.5Z" fill="#febb2b" stroke="#febb2b"/>
<path d="M428.7,256.4L430.8,258.3L432.1,258.2L430.1,256.4Z" fill="#e06363" stroke="#e06363"/>
<path d="M392.1,238.7L394.1,239.7L395.4,238.4L393.4,237.5Z" fill="#f6e626" stroke="#f6e626"/>
<path d="M400.9,239.3L402.9,240.4L404.2,239.4L402.2,238.2Z" fill="#f8df25" stroke="#f8df25"/>
<path d="M406.3,240.7L408.3,242.1L409.7,241.4L407.6,239.8Z" fill="#fcd025" stroke="#fcd025"/>
<path d="M421.2,250.4L423.3,252.4L424.6,252.4L422.6,250.3Z" fill="#f48948" stroke="#f48948"/>
<path d="M375.2,245.5L377.2,245.4L378.6,243.2L376.5,243.2Z" fill="#feb72d" stroke="#feb72d"/>
<path d="M388.7,239.2L390.8,240.1L392.1,238.7L390.0,237.9Z" fill="#f7e425" stroke="#f7e425"/>
<path d="M413.8,244.8L415.8,246.6L417.2,246.3L415.1,244.4Z" fill="#fdaf31" stroke="#fdaf31"/>
<path d="M430.8,258.3L432.8,260.1L434.1,260.0L432.1,258.2Z" fill="#da5a6a" stroke="#da5a6a"/>
<path d="M397.5,239.4L399.6,240.5L400.9,239.3L398.8,238.2Z" fill="#f8e125" stroke="#f8e125"/>
<path d="M370.5,250.7L372.6,250.3L373.9,247.9L371.8,248.2Z" fill="#f9973f" stroke="#f9973f"/>
<path d="M378.6,243.2L380.6,243.3L381.9,241.4L379.9,241.1Z" fill="#fdc827" stroke="#fdc827"/>
<path d="M385.3,240.1L387.4,240.7L388.7,239.2L386.6,238.5Z" fill="#f8df25" stroke="#f8df25"/>
<path d="M381.9,241.4L384.0,241.8L385.3,240.1L383.3,239.6Z" fill="#fbd524" stroke="#fbd524"/>
<path d="M365.8,256.0L367.9,255.7L369.2,253.2L367.1,253.6Z" fill="#eb7655" stroke="#eb7655"/>
<path d="M423.3,252.4L425.4,254.5L426.7,254.4L424.6,252.4Z" fill="#f07f4f" stroke="#f07f4f"/>
<path d="M402.9,240.4L405.0,241.7L406.3,240.7L404.2,239.4Z" fill="#fbd724" stroke="#fbd724"/>
<path d="M408.3,242.1L410.4,243.7L411.7,243.0L409.7,241.4Z" fill="#fdc627" stroke="#fdc627"/>
<path d="M394.1,239.7L396.2,240.7L397.5,239.4L395.4,238.4Z" fill="#f8e125" stroke="#f8e125"/>
<path d="M415.8,246.6L417.9,248.6L419.2,248.3L417.2,246.3Z" fill="#fca537" stroke="#fca537"/>
<path d="M373.9,247.9L375.9,247.7L377.2,245.4L375.2,245.5Z" fill="#fdab33" stroke="#fdab33"/>
<path d="M432.8,260.1L434.9,261.9L436.2,261.6L434.1,260.0Z" fill="#d45270" stroke="#d45270"/>
<path d="M425.4,254.5L427.4,256.5L428.7,256.4L426.7,254.4Z" fill="#ea7457" stroke="#ea7457"/>
<path d="M390.8,240.1L392.8,241.0L394.1,239.7L392.1,238.7Z" fill="#f8df25" stroke="#f8df25"/>
<path d="M369.2,253.2L371.2,252.9L372.6,250.3L370.5,250.7Z" fill="#f58b47" stroke="#f58b47"/>
<path d="M399.6,240.5L401.6,241.6L402.9,240.4L400.9,239.3Z" fill="#fada24" stroke="#fada24"/>
<path d="M410.4,243.7L412.4,245.4L413.8,244.8L411.7,243.0Z" fill="#febd2a" stroke="#febd2a"/>
<path d="M417.9,248.6L419.9,250.6L421.2,250.4L419.2,248.3Z" fill="#f99a3e" stroke="#f99a3e"/>
<path d="M364.5,258.4L366.5,258.2L367.9,255.7L365.8,256.0Z" fill="#e56a5d" stroke="#e56a5d"/>
<path d="M377.2,245.4L379.3,245.5L380.6,243.3L378.6,243.2Z" fill="#febd2a" stroke="#febd2a"/>
<path d="M387.4,240.7L389.4,241.5L390.8,240.1L388.7,239.2Z" fill="#f9dc24" stroke="#f9dc24"/>
<path d="M405.0,241.7L407.0,243.0L408.3,242.1L406.3,240.7Z" fill="#fcce25" stroke="#fcce25"/>
<path d="M427.4,256.5L429.5,258.4L430.8,258.3L428.7,256.4Z" fill="#e4695e" stroke="#e4695e"/>
<path d="M380.6,243.3L382.7,243.7L384.0,241.8L381.9,241.4Z" fill="#fdcb26" stroke="#fdcb26"/>
<path d="M384.0,241.8L386.1,242.4L387.4,240.7L385.3,240.1Z" fill="#fbd524" stroke="#fbd524"/>
<path d="M434.9,261.9L436.9,263.6L438.2,263.1L436.2,261.6Z" fill="#ce4b75" stroke="#ce4b75"/>
<path d="M396.2,240.7L398.2,241.8L399.6,240.5L397.5,239.4Z" fill="#f9dc24" stroke="#f9dc24"/>
<path d="M372.6,250.3L374.6,250.1L375.9,247.7L373.9,247.9Z" fill="#fa9e3b" stroke="#fa9e3b"/>
<path d="M419.9,250.6L422.0,252.6L423.3,252.4L421.2,250.4Z" fill="#f68f44" stroke="#f68f44"/>
<path d="M412.4,245.4L414.5,247.1L415.8,246.6L413.8,244.8Z" fill="#fdb22f" stroke="#fdb22f"/>
<path d="M367.9,255.7L369.9,255.4L371.2,252.9L369.2,253.2Z" fill="#ef7e50" stroke="#ef7e50"/>
<path d="M392.8,241.0L394.9,242.1L396.2,240.7L394.1,239.7Z" fill="#fada24" stroke="#fada24"/>
<path d="M401.6,241.6L403.7,242.8L405.0,241.7L402.9,240.4Z" fill="#fbd324" stroke="#fbd324"/>
<path d="M429.5,258.4L431.5,260.4L432.8,260.1L430.8,258.3Z" fill="#de5f65" stroke="#de5f65"/>
<path d="M407.0,243.0L409.1,244.5L410.4,243.7L408.3,242.1Z" fill="#fdc627" stroke="#fdc627"/>
<path d="M363.1,260.7L365.2,260.6L366.5,258.2L364.5,258.4Z" fill="#dd5e66" stroke="#dd5e66"/>
<path d="M375.9,247.7L378.0,247.7L379.3,245.5L377.2,245.4Z" fill="#fdaf31" stroke="#fdaf31"/>
<path d="M436.9,263.6L439.0,265.2L440.3,264.6L438.2,263.1Z" fill="#c8437b" stroke="#c8437b"/>
<path d="M422.0,252.6L424.0,254.6L425.4,254.5L423.3,252.4Z" fill="#f2844b" stroke="#f2844b"/>
<path d="M389.4,241.5L391.5,242.5L392.8,241.0L390.8,240.1Z" fill="#fad824" stroke="#fad824"/>
<path d="M414.5,247.1L416.6,249.0L417.9,248.6L415.8,246.6Z" fill="#fca835" stroke="#fca835"/>
<path d="M398.2,241.8L400.3,242.9L401.6,241.6L399.6,240.5Z" fill="#fbd524" stroke="#fbd524"/>
<path d="M379.3,245.5L381.4,245.7L382.7,243.7L380.6,243.3Z" fill="#fec029" stroke="#fec029"/>
<path d="M371.2,252.9L373.3,252.7L374.6,250.1L372.6,250.3Z" fill="#f79143" stroke="#f79143"/>
<path d="M386.1,242.4L388.1,243.1L389.4,241.5L387.4,240.7Z" fill="#fbd324" stroke="#fbd324"/>
<path d="M431.5,260.4L433.6,262.2L434.9,261.9L432.8,260.1Z" fill="#d7566c" stroke="#d7566c"/>
<path d="M382.7,243.7L384.7,244.2L386.1,242.4L384.0,241.8Z" fill="#fdcb26" stroke="#fdcb26"/>
<path d="M366.5,258.2L368.6,258.0L369.9,255.4L367.9,255.7Z" fill="#e87059" stroke="#e87059"/>
<path d="M424.0,254.6L426.1,256.6L427.4,256.5L425.4,254.5Z" fill="#ed7953" stroke="#ed7953"/>
<path d="M403.7,242.8L405.7,244.1L407.0,243.0L405.0,241.7Z" fill="#fccd25" stroke="#fccd25"/>
<path d="M409.1,244.5L411.1,246.1L412.4,245.4L410.4,243.7Z" fill="#febe2a" stroke="#febe2a"/>
<path d="M394.9,242.1L396.9,243.2L398.2,241.8L396.2,240.7Z" fill="#fbd524" stroke="#fbd524"/>
<path d="M439.0,265.2L441.0,266.8L442.4,266.0L440.3,264.6Z" fill="#c33d80" stroke="#c33d80"/>
<path d="M416.6,249.0L418.6,250.9L419.9,250.6L417.9,248.6Z" fill="#fa9e3b" stroke="#fa9e3b"/>
<path d="M361.8,262.9L363.9,262.9L365.2,260.6L363.1,260.7Z" fill="#d5546e" stroke="#d5546e"/>
<path d="M374.6,250.1L376.6,250.1L378.0,247.7L375.9,247.7Z" fill="#fca338" stroke="#fca338"/>
<path d="M433.6,262.2L435.6,264.1L436.9,263.6L434.9,261.9Z" fill="#d04d73" stroke="#d04d73"/>
<path d="M391.5,242.5L393.5,243.5L394.9,242.1L392.8,241.0Z" fill="#fbd524" stroke="#fbd524"/>
<path d="M426.1,256.6L428.1,258.7L429.5,258.4L427.4,256.5Z" fill="#e76e5b" stroke="#e76e5b"/>
<path d="M400.3,242.9L402.3,244.1L403.7,242.8L401.6,241.6Z" fill="#fcd025" stroke="#fcd025"/>
<path d="M369.9,255.4L371.9,255.2L373.3,252.7L371.2,252.9Z" fill="#f2844b" stroke="#f2844b"/>
<path d="M411.1,246.1L413.2,247.8L414.5,247.1L412.4,245.4Z" fill="#fdb42f" stroke="#fdb42f"/>
<path d="M378.0,247.7L380.0,247.9L381.4,245.7L379.3,245.5Z" fill="#fdb42f" stroke="#fdb42f"/>
<path d="M418.6,250.9L420.6,252.9L422.0,252.6L419.9,250.6Z" fill="#f79342" stroke="#f79342"/>
<path d="M365.2,260.6L367.2,260.4L368.6,258.0L366.5,258.2Z" fill="#e16462" stroke="#e16462"/>
<path d="M388.1,243.1L390.1,244.0L391.5,242.5L389.4,241.5Z" fill="#fcd225" stroke="#fcd225"/>
<path d="M405.7,244.1L407.8,245.5L409.1,244.5L407.0,243.0Z" fill="#fdc627" stroke="#fdc627"/>
<path d="M441.0,266.8L443.1,268.4L444.4,267.3L442.4,266.0Z" fill="#bd3786" stroke="#bd3786"/>
<path d="M381.4,245.7L383.4,246.2L384.7,244.2L382.7,243.7Z" fill="#fdc229" stroke="#fdc229"/>
<path d="M384.7,244.2L386.8,244.9L388.1,243.1L386.1,242.4Z" fill="#fdcb26" stroke="#fdcb26"/>
<path d="M396.9,243.2L399.0,244.3L400.3,242.9L398.2,241.8Z" fill="#fcd025" stroke="#fcd025"/>
<path d="M428.1,258.7L430.2,260.7L431.5,260.4L429.5,258.4Z" fill="#e06363" stroke="#e06363"/>
<path d="M435.6,264.1L437.7,266.0L439.0,265.2L436.9,263.6Z" fill="#ca457a" stroke="#ca457a"/>
<path d="M373.3,252.7L375.3,252.6L376.6,250.1L374.6,250.1Z" fill="#f9973f" stroke="#f9973f"/>
<path d="M360.5,265.0L362.6,265.1L363.9,262.9L361.8,262.9Z" fill="#cd4a76" stroke="#cd4a76"/>
<path d="M420.6,252.9L422.7,254.9L424.0,254.6L422.0,252.6Z" fill="#f48849" stroke="#f48849"/>
<path d="M413.2,247.8L415.2,249.6L416.6,249.0L414.5,247.1Z" fill="#fdab33" stroke="#fdab33"/>
<path d="M368.6,258.0L370.6,257.8L371.9,255.2L369.9,255.4Z" fill="#ec7754" stroke="#ec7754"/>
<path d="M393.5,243.5L395.6,244.6L396.9,243.2L394.9,242.1Z" fill="#fcd025" stroke="#fcd025"/>
<path d="M402.3,244.1L404.4,245.4L405.7,244.1L403.7,242.8Z" fill="#fdca26" stroke="#fdca26"/>
<path d="M407.8,245.5L409.8,247.0L411.1,246.1L409.1,244.5Z" fill="#febd2a" stroke="#febd2a"/>
<path d="M430.2,260.7L432.2,262.7L433.6,262.2L431.5,260.4Z" fill="#da5a6a" stroke="#da5a6a"/>
<path d="M376.6,250.1L378.7,250.2L380.0,247.9L378.0,247.7Z" fill="#fca835" stroke="#fca835"/>
<path d="M363.9,262.9L365.9,262.9L367.2,260.4L365.2,260.6Z" fill="#d9586a" stroke="#d9586a"/>
<path d="M443.1,268.4L445.1,269.9L446.4,268.6L444.4,267.3Z" fill="#b7318a" stroke="#b7318a"/>
<path d="M437.7,266.0L439.7,267.9L441.0,266.8L439.0,265.2Z" fill="#c33d80" stroke="#c33d80"/>
<path d="M390.1,244.0L392.2,245.0L393.5,243.5L391.5,242.5Z" fill="#fccd25" stroke="#fccd25"/>
<path d="M422.7,254.9L424.8,256.9L426.1,256.6L424.0,254.6Z" fill="#ef7e50" stroke="#ef7e50"/>
<path d="M399.0,244.3L401.0,245.5L402.3,244.1L400.3,242.9Z" fill="#fdcb26" stroke="#fdcb26"/>
<path d="M415.2,249.6L417.3,251.4L418.6,250.9L416.6,249.0Z" fill="#fba139" stroke="#fba139"/>
<path d="M380.0,247.9L382.1,248.3L383.4,246.2L381.4,245.7Z" fill="#feb72d" stroke="#feb72d"/>
<path d="M386.8,244.9L388.8,245.7L390.1,244.0L388.1,243.1Z" fill="#fdca26" stroke="#fdca26"/>
<path d="M371.9,255.2L374.0,255.1L375.3,252.6L373.3,252.7Z" fill="#f48948" stroke="#f48948"/>
<path d="M383.4,246.2L385.5,246.8L386.8,244.9L384.7,244.2Z" fill="#fdc229" stroke="#fdc229"/>
<path d="M432.2,262.7L434.3,264.8L435.6,264.1L433.6,262.2Z" fill="#d24f71" stroke="#d24f71"/>
<path d="M367.2,260.4L369.3,260.3L370.6,257.8L368.6,258.0Z" fill="#e56a5d" stroke="#e56a5d"/>
<path d="M404.4,245.4L406.4,246.7L407.8,245.5L405.7,244.1Z" fill="#fdc328" stroke="#fdc328"/>
<path d="M409.8,247.0L411.9,248.6L413.2,247.8L411.1,246.1Z" fill="#fdb42f" stroke="#fdb42f"/>
<path d="M359.2,266.9L361.2,267.2L362.6,265.1L360.5,265.0Z" fill="#c6417d" stroke="#c6417d"/>
<path d="M424.8,256.9L426.8,259.0L428.1,258.7L426.1,256.6Z" fill="#e97257" stroke="#e97257"/>
<path d="M395.6,244.6L397.6,245.8L399.0,244.3L396.9,243.2Z" fill="#fdca26" stroke="#fdca26"/>
<path d="M439.7,267.9L441.8,269.8L443.1,268.4L441.0,266.8Z" fill="#bb3488" stroke="#bb3488"/>
<path d="M417.3,251.4L419.3,253.3L420.6,252.9L418.6,250.9Z" fill="#f89540" stroke="#f89540"/>
<path d="M445.1,269.9L447.2,271.3L448.5,269.8L446.4,268.6Z" fill="#b42e8d" stroke="#b42e8d"/>
<path d="M375.3,252.6L377.4,252.7L378.7,250.2L376.6,250.1Z" fill="#fa9b3d" stroke="#fa9b3d"/>
<path d="M362.6,265.1L364.6,265.2L365.9,262.9L363.9,262.9Z" fill="#d04d73" stroke="#d04d73"/>
<path d="M434.3,264.8L436.3,267.0L437.7,266.0L435.6,264.1Z" fill="#ca457a" stroke="#ca457a"/>
<path d="M392.2,245.0L394.2,246.1L395.6,244.6L393.5,243.5Z" fill="#fdca26" stroke="#fdca26"/>
<path d="M401.0,245.5L403.0,246.7L404.4,245.4L402.3,244.1Z" fill="#fdc527" stroke="#fdc527"/>
<path d="M426.8,259.0L428.8,261.1L430.2,260.7L428.1,258.7Z" fill="#e3685f" stroke="#e3685f"/>
<path d="M370.6,257.8L372.7,257.7L374.0,255.1L371.9,255.2Z" fill="#ef7c51" stroke="#ef7c51"/>
<path d="M411.9,248.6L413.9,250.3L415.2,249.6L413.2,247.8Z" fill="#fdab33" stroke="#fdab33"/>
<path d="M378.7,250.2L380.8,250.5L382.1,248.3L380.0,247.9Z" fill="#fdab33" stroke="#fdab33"/>
<path d="M388.8,245.7L390.9,246.7L392.2,245.0L390.1,244.0Z" fill="#fdc627" stroke="#fdc627"/>
<path d="M406.4,246.7L408.5,248.1L409.8,247.0L407.8,245.5Z" fill="#febb2b" stroke="#febb2b"/>
<path d="M441.8,269.8L443.8,271.6L445.1,269.9L443.1,268.4Z" fill="#b42e8d" stroke="#b42e8d"/>
<path d="M419.3,253.3L421.4,255.3L422.7,254.9L420.6,252.9Z" fill="#f58c46" stroke="#f58c46"/>
<path d="M365.9,262.9L368.0,262.9L369.3,260.3L367.2,260.4Z" fill="#dc5d67" stroke="#dc5d67"/>
<path d="M382.1,248.3L384.1,248.8L385.5,246.8L383.4,246.2Z" fill="#feb72d" stroke="#feb72d"/>
<path d="M385.5,246.8L387.5,247.6L388.8,245.7L386.8,244.9Z" fill="#fec029" stroke="#fec029"/>
<path d="M436.3,267.0L438.4,269.2L439.7,267.9L437.7,266.0Z" fill="#c13b82" stroke="#c13b82"/>
<path d="M397.6,245.8L399.7,246.9L401.0,245.5L399.0,244.3Z" fill="#fdc527" stroke="#fdc527"/>
<path d="M428.8,261.1L430.9,263.4L432.2,262.7L430.2,260.7Z" fill="#db5c68" stroke="#db5c68"/>
<path d="M447.2,271.3L449.2,272.6L450.6,270.8L448.5,269.8Z" fill="#b12a90" stroke="#b12a90"/>
<path d="M357.9,268.7L359.9,269.1L361.2,267.2L359.2,266.9Z" fill="#bf3984" stroke="#bf3984"/>
<path d="M374.0,255.1L376.1,255.2L377.4,252.7L375.3,252.6Z" fill="#f68d45" stroke="#f68d45"/>
<path d="M413.9,250.3L415.9,252.1L417.3,251.4L415.2,249.6Z" fill="#fba238" stroke="#fba238"/>
<path d="M421.4,255.3L423.4,257.3L424.8,256.9L422.7,254.9Z" fill="#f1814d" stroke="#f1814d"/>
<path d="M361.2,267.2L363.3,267.4L364.6,265.2L362.6,265.1Z" fill="#c9447a" stroke="#c9447a"/>
<path d="M394.2,246.1L396.3,247.3L397.6,245.8L395.6,244.6Z" fill="#fdc527" stroke="#fdc527"/>
<path d="M403.0,246.7L405.1,248.0L406.4,246.7L404.4,245.4Z" fill="#febe2a" stroke="#febe2a"/>
<path d="M369.3,260.3L371.3,260.3L372.7,257.7L370.6,257.8Z" fill="#e76f5a" stroke="#e76f5a"/>
<path d="M438.4,269.2L440.4,271.5L441.8,269.8L439.7,267.9Z" fill="#b7318a" stroke="#b7318a"/>
<path d="M443.8,271.6L445.9,273.3L447.2,271.3L445.1,269.9Z" fill="#b02991" stroke="#b02991"/>
<path d="M408.5,248.1L410.5,249.6L411.9,248.6L409.8,247.0Z" fill="#fdb42f" stroke="#fdb42f"/>
<path d="M430.9,263.4L432.9,265.7L434.3,264.8L432.2,262.7Z" fill="#d35171" stroke="#d35171"/>
<path d="M377.4,252.7L379.4,252.9L380.8,250.5L378.7,250.2Z" fill="#fa9e3b" stroke="#fa9e3b"/>
<path d="M390.9,246.7L392.9,247.7L394.2,246.1L392.2,245.0Z" fill="#fdc229" stroke="#fdc229"/>
<path d="M364.6,265.2L366.6,265.3L368.0,262.9L365.9,262.9Z" fill="#d45270" stroke="#d45270"/>
<path d="M423.4,257.3L425.5,259.5L426.8,259.0L424.8,256.9Z" fill="#eb7655" stroke="#eb7655"/>
<path d="M399.7,246.9L401.7,248.1L403.0,246.7L401.0,245.5Z" fill="#fec029" stroke="#fec029"/>
<path d="M380.8,250.5L382.8,251.0L384.1,248.8L382.1,248.3Z" fill="#fdac33" stroke="#fdac33"/>
<path d="M415.9,252.1L418.0,253.9L419.3,253.3L417.3,251.4Z" fill="#f9983e" stroke="#f9983e"/>
<path d="M387.5,247.6L389.6,248.4L390.9,246.7L388.8,245.7Z" fill="#febe2a" stroke="#febe2a"/>
<path d="M432.9,265.7L435.0,268.2L436.3,267.0L434.3,264.8Z" fill="#c9447a" stroke="#c9447a"/>
<path d="M440.4,271.5L442.5,273.7L443.8,271.6L441.8,269.8Z" fill="#b12a90" stroke="#b12a90"/>
<path d="M372.7,257.7L374.7,257.8L376.1,255.2L374.0,255.1Z" fill="#f1814d" stroke="#f1814d"/>
<path d="M384.1,248.8L386.2,249.5L387.5,247.6L385.5,246.8Z" fill="#feb72d" stroke="#feb72d"/>
<path d="M449.2,272.6L451.3,273.6L452.6,271.8L450.6,270.8Z" fill="#ae2892" stroke="#ae2892"/>
<path d="M405.1,248.0L407.1,249.4L408.5,248.1L406.4,246.7Z" fill="#feb82c" stroke="#feb82c"/>
<path d="M410.5,249.6L412.6,251.2L413.9,250.3L411.9,248.6Z" fill="#fdab33" stroke="#fdab33"/>
<path d="M368.0,262.9L370.0,262.9L371.3,260.3L369.3,260.3Z" fill="#df6263" stroke="#df6263"/>
<path d="M445.9,273.3L447.9,274.7L449.2,272.6L447.2,271.3Z" fill="#ac2694" stroke="#ac2694"/>
<path d="M396.3,247.3L398.4,248.5L399.7,246.9L397.6,245.8Z" fill="#febe2a" stroke="#febe2a"/>
<path d="M356.5,270.4L358.6,270.9L359.9,269.1L357.9,268.7Z" fill="#b83289" stroke="#b83289"/>
<path d="M425.5,259.5L427.5,261.7L428.8,261.1L426.8,259.0Z" fill="#e56a5d" stroke="#e56a5d"/>
<path d="M435.0,268.2L437.1,270.9L438.4,269.2L436.3,267.0Z" fill="#be3885" stroke="#be3885"/>
<path d="M359.9,269.1L362.0,269.5L363.3,267.4L361.2,267.2Z" fill="#c13b82" stroke="#c13b82"/>
<path d="M418.0,253.9L420.1,255.9L421.4,255.3L419.3,253.3Z" fill="#f68d45" stroke="#f68d45"/>
<path d="M376.1,255.2L378.1,255.4L379.4,252.9L377.4,252.7Z" fill="#f79143" stroke="#f79143"/>
<path d="M442.5,273.7L444.5,275.6L445.9,273.3L443.8,271.6Z" fill="#ab2494" stroke="#ab2494"/>
<path d="M392.9,247.7L395.0,248.9L396.3,247.3L394.2,246.1Z" fill="#febd2a" stroke="#febd2a"/>
<path d="M363.3,267.4L365.3,267.7L366.6,265.3L364.6,265.2Z" fill="#cb4679" stroke="#cb4679"/>
<path d="M437.1,270.9L439.1,273.5L440.4,271.5L438.4,269.2Z" fill="#b32c8e" stroke="#b32c8e"/>
<path d="M401.7,248.1L403.8,249.4L405.1,248.0L403.0,246.7Z" fill="#feba2c" stroke="#feba2c"/>
<path d="M427.5,261.7L429.6,264.2L430.9,263.4L428.8,261.1Z" fill="#dc5d67" stroke="#dc5d67"/>
<path d="M371.3,260.3L373.4,260.4L374.7,257.8L372.7,257.7Z" fill="#ea7457" stroke="#ea7457"/>
<path d="M379.4,252.9L381.5,253.3L382.8,251.0L380.8,250.5Z" fill="#fb9f3a" stroke="#fb9f3a"/>
<path d="M412.6,251.2L414.6,252.9L415.9,252.1L413.9,250.3Z" fill="#fba238" stroke="#fba238"/>
<path d="M389.6,248.4L391.6,249.5L392.9,247.7L390.9,246.7Z" fill="#feba2c" stroke="#feba2c"/>
<path d="M407.1,249.4L409.2,250.8L410.5,249.6L408.5,248.1Z" fill="#fdb130" stroke="#fdb130"/>
<path d="M439.1,273.5L441.1,276.0L442.5,273.7L440.4,271.5Z" fill="#ab2494" stroke="#ab2494"/>
<path d="M420.1,255.9L422.1,257.9L423.4,257.3L421.4,255.3Z" fill="#f2844b" stroke="#f2844b"/>
<path d="M451.3,273.6L453.3,274.4L454.6,272.6L452.6,271.8Z" fill="#ad2793" stroke="#ad2793"/>
<path d="M382.8,251.0L384.8,251.6L386.2,249.5L384.1,248.8Z" fill="#fdac33" stroke="#fdac33"/>
<path d="M386.2,249.5L388.2,250.3L389.6,248.4L387.5,247.6Z" fill="#fdb52e" stroke="#fdb52e"/>
<path d="M429.6,264.2L431.6,266.8L432.9,265.7L430.9,263.4Z" fill="#d35171" stroke="#d35171"/>
<path d="M366.6,265.3L368.7,265.5L370.0,262.9L368.0,262.9Z" fill="#d6556d" stroke="#d6556d"/>
<path d="M447.9,274.7L450.0,275.8L451.3,273.6L449.2,272.6Z" fill="#a82296" stroke="#a82296"/>
<path d="M398.4,248.5L400.4,249.7L401.7,248.1L399.7,246.9Z" fill="#feba2c" stroke="#feba2c"/>
<path d="M444.5,275.6L446.6,277.2L447.9,274.7L445.9,273.3Z" fill="#a51f99" stroke="#a51f99"/>
<path d="M374.7,257.8L376.8,258.0L378.1,255.4L376.1,255.2Z" fill="#f2844b" stroke="#f2844b"/>
<path d="M431.6,266.8L433.7,269.7L435.0,268.2L432.9,265.7Z" fill="#c7427c" stroke="#c7427c"/>
<path d="M358.6,270.9L360.6,271.6L362.0,269.5L359.9,269.1Z" fill="#b83289" stroke="#b83289"/>
<path d="M441.1,276.0L443.2,278.2L444.5,275.6L442.5,273.7Z" fill="#a21d9a" stroke="#a21d9a"/>
<path d="M355.2,271.9L357.2,272.7L358.6,270.9L356.5,270.4Z" fill="#b42e8d" stroke="#b42e8d"/>
<path d="M395.0,248.9L397.0,250.1L398.4,248.5L396.3,247.3Z" fill="#feb82c" stroke="#feb82c"/>
<path d="M422.1,257.9L424.2,260.1L425.5,259.5L423.4,257.3Z" fill="#ec7754" stroke="#ec7754"/>
<path d="M414.6,252.9L416.7,254.7L418.0,253.9L415.9,252.1Z" fill="#f9983e" stroke="#f9983e"/>
<path d="M403.8,249.4L405.8,250.7L407.1,249.4L405.1,248.0Z" fill="#fdb42f" stroke="#fdb42f"/>
<path d="M433.7,269.7L435.7,272.7L437.1,270.9L435.0,268.2Z" fill="#b83289" stroke="#b83289"/>
<path d="M362.0,269.5L364.0,270.1L365.3,267.7L363.3,267.4Z" fill="#c23c81" stroke="#c23c81"/>
<path d="M370.0,262.9L372.1,263.1L373.4,260.4L371.3,260.3Z" fill="#e26561" stroke="#e26561"/>
<path d="M409.2,250.8L411.2,252.3L412.6,251.2L410.5,249.6Z" fill="#fca934" stroke="#fca934"/>
<path d="M435.7,272.7L437.8,275.8L439.1,273.5L437.1,270.9Z" fill="#ad2793" stroke="#ad2793"/>
<path d="M378.1,255.4L380.2,255.7L381.5,253.3L379.4,252.9Z" fill="#f89441" stroke="#f89441"/>
<path d="M391.6,249.5L393.7,250.5L395.0,248.9L392.9,247.7Z" fill="#fdb52e" stroke="#fdb52e"/>
<path d="M365.3,267.7L367.4,268.1L368.7,265.5L366.6,265.3Z" fill="#cc4977" stroke="#cc4977"/>
<path d="M437.8,275.8L439.8,278.5L441.1,276.0L439.1,273.5Z" fill="#a31e9a" stroke="#a31e9a"/>
<path d="M424.2,260.1L426.2,262.5L427.5,261.7L425.5,259.5Z" fill="#e56b5d" stroke="#e56b5d"/>
<path d="M400.4,249.7L402.4,250.9L403.8,249.4L401.7,248.1Z" fill="#fdb42f" stroke="#fdb42f"/>
<path d="M381.5,253.3L383.5,253.8L384.8,251.6L382.8,251.0Z" fill="#fba139" stroke="#fba139"/>
<path d="M446.6,277.2L448.6,278.3L450.0,275.8L447.9,274.7Z" fill="#a11b9b" stroke="#a11b9b"/>
<path d="M443.2,278.2L445.2,279.8L446.6,277.2L444.5,275.6Z" fill="#9c179e" stroke="#9c179e"/>
<path d="M388.2,250.3L390.3,251.3L391.6,249.5L389.6,248.4Z" fill="#fdb22f" stroke="#fdb22f"/>
<path d="M450.0,275.8L452.0,276.6L453.3,274.4L451.3,273.6Z" fill="#a72197" stroke="#a72197"/>
<path d="M416.7,254.7L418.7,256.6L420.1,255.9L418.0,253.9Z" fill="#f68f44" stroke="#f68f44"/>
<path d="M384.8,251.6L386.9,252.4L388.2,250.3L386.2,249.5Z" fill="#fdab33" stroke="#fdab33"/>
<path d="M453.3,274.4L455.4,275.0L456.7,273.2L454.6,272.6Z" fill="#ac2694" stroke="#ac2694"/>
<path d="M373.4,260.4L375.4,260.6L376.8,258.0L374.7,257.8Z" fill="#eb7655" stroke="#eb7655"/>
<path d="M439.8,278.5L441.9,280.8L443.2,278.2L441.1,276.0Z" fill="#99159f" stroke="#99159f"/>
<path d="M426.2,262.5L428.2,265.2L429.6,264.2L427.5,261.7Z" fill="#dc5d67" stroke="#dc5d67"/>
<path d="M405.8,250.7L407.9,252.1L409.2,250.8L407.1,249.4Z" fill="#fdac33" stroke="#fdac33"/>
<path d="M397.0,250.1L399.1,251.3L400.4,249.7L398.4,248.5Z" fill="#fdb22f" stroke="#fdb22f"/>
<path d="M368.7,265.5L370.8,265.8L372.1,263.1L370.0,262.9Z" fill="#d9586a" stroke="#d9586a"/>
<path d="M411.2,252.3L413.3,253.9L414.6,252.9L412.6,251.2Z" fill="#fba139" stroke="#fba139"/>
<path d="M428.2,265.2L430.3,268.1L431.6,266.8L429.6,264.2Z" fill="#d14e72" stroke="#d14e72"/>
<path d="M357.2,272.7L359.3,273.6L360.6,271.6L358.6,270.9Z" fill="#b32c8e" stroke="#b32c8e"/>
<path d="M360.6,271.6L362.7,272.4L364.0,270.1L362.0,269.5Z" fill="#b83289" stroke="#b83289"/>
<path d="M376.8,258.0L378.8,258.3L380.2,255.7L378.1,255.4Z" fill="#f3874a" stroke="#f3874a"/>
<path d="M418.7,256.6L420.8,258.6L422.1,257.9L420.1,255.9Z" fill="#f3854b" stroke="#f3854b"/>
<path d="M430.3,268.1L432.4,271.4L433.7,269.7L431.6,266.8Z" fill="#c33d80" stroke="#c33d80"/>
<path d="M353.9,273.3L355.9,274.3L357.2,272.7L355.2,271.9Z" fill="#b12a90" stroke="#b12a90"/>
<path d="M432.4,271.4L434.4,274.7L435.7,272.7L433.7,269.7Z" fill="#b42e8d" stroke="#b42e8d"/>
<path d="M393.7,250.5L395.7,251.7L397.0,250.1L395.0,248.9Z" fill="#fdb130" stroke="#fdb130"/>
<path d="M434.4,274.7L436.4,278.0L437.8,275.8L435.7,272.7Z" fill="#a72197" stroke="#a72197"/>
<path d="M364.0,270.1L366.1,270.8L367.4,268.1L365.3,267.7Z" fill="#c33d80" stroke="#c33d80"/>
<path d="M441.9,280.8L443.9,282.4L445.2,279.8L443.2,278.2Z" fill="#920fa3" stroke="#920fa3"/>
<path d="M436.4,278.0L438.5,280.9L439.8,278.5L437.8,275.8Z" fill="#9c179e" stroke="#9c179e"/>
<path d="M402.4,250.9L404.5,252.1L405.8,250.7L403.8,249.4Z" fill="#fdae32" stroke="#fdae32"/>
<path d="M445.2,279.8L447.3,280.8L448.6,278.3L446.6,277.2Z" fill="#9814a0" stroke="#9814a0"/>
<path d="M372.1,263.1L374.1,263.4L375.4,260.6L373.4,260.4Z" fill="#e4695e" stroke="#e4695e"/>
<path d="M380.2,255.7L382.2,256.2L383.5,253.8L381.5,253.3Z" fill="#f89441" stroke="#f89441"/>
<path d="M390.3,251.3L392.3,252.3L393.7,250.5L391.6,249.5Z" fill="#fdae32" stroke="#fdae32"/>
<path d="M448.6,278.3L450.7,278.9L452.0,276.6L450.0,275.8Z" fill="#a01a9c" stroke="#a01a9c"/>
<path d="M413.3,253.9L415.4,255.6L416.7,254.7L414.6,252.9Z" fill="#f9983e" stroke="#f9983e"/>
<path d="M438.5,280.9L440.6,283.2L441.9,280.8L439.8,278.5Z" fill="#910ea3" stroke="#910ea3"/>
<path d="M407.9,252.1L409.9,253.5L411.2,252.3L409.2,250.8Z" fill="#fca636" stroke="#fca636"/>
<path d="M383.5,253.8L385.6,254.5L386.9,252.4L384.8,251.6Z" fill="#fba139" stroke="#fba139"/>
<path d="M420.8,258.6L422.8,260.9L424.2,260.1L422.1,257.9Z" fill="#ed7953" stroke="#ed7953"/>
<path d="M386.9,252.4L388.9,253.2L390.3,251.3L388.2,250.3Z" fill="#fca835" stroke="#fca835"/>
<path d="M367.4,268.1L369.4,268.7L370.8,265.8L368.7,265.5Z" fill="#ce4b75" stroke="#ce4b75"/>
<path d="M452.0,276.6L454.1,277.0L455.4,275.0L453.3,274.4Z" fill="#a72197" stroke="#a72197"/>
<path d="M399.1,251.3L401.1,252.5L402.4,250.9L400.4,249.7Z" fill="#fdae32" stroke="#fdae32"/>
<path d="M455.4,275.0L457.4,275.3L458.8,273.7L456.7,273.2Z" fill="#ad2793" stroke="#ad2793"/>
<path d="M375.4,260.6L377.5,260.9L378.8,258.3L376.8,258.0Z" fill="#ed7a52" stroke="#ed7a52"/>
<path d="M422.8,260.9L424.9,263.4L426.2,262.5L424.2,260.1Z" fill="#e56b5d" stroke="#e56b5d"/>
<path d="M359.3,273.6L361.3,274.7L362.7,272.4L360.6,271.6Z" fill="#b22b8f" stroke="#b22b8f"/>
<path d="M395.7,251.7L397.8,252.9L399.1,251.3L397.0,250.1Z" fill="#fdac33" stroke="#fdac33"/>
<path d="M362.7,272.4L364.7,273.5L366.1,270.8L364.0,270.1Z" fill="#b7318a" stroke="#b7318a"/>
<path d="M370.8,265.8L372.8,266.3L374.1,263.4L372.1,263.1Z" fill="#da5b69" stroke="#da5b69"/>
<path d="M443.9,282.4L446.0,283.2L447.3,280.8L445.2,279.8Z" fill="#8e0ca4" stroke="#8e0ca4"/>
<path d="M440.6,283.2L442.6,284.6L443.9,282.4L441.9,280.8Z" fill="#8808a6" stroke="#8808a6"/>
<path d="M404.5,252.1L406.6,253.4L407.9,252.1L405.8,250.7Z" fill="#fca835" stroke="#fca835"/>
<path d="M415.4,255.6L417.4,257.5L418.7,256.6L416.7,254.7Z" fill="#f68f44" stroke="#f68f44"/>
<path d="M355.9,274.3L358.0,275.5L359.3,273.6L357.2,272.7Z" fill="#ae2892" stroke="#ae2892"/>
<path d="M433.1,276.5L435.1,279.9L436.4,278.0L434.4,274.7Z" fill="#a11b9b" stroke="#a11b9b"/>
<path d="M424.9,263.4L426.9,266.3L428.2,265.2L426.2,262.5Z" fill="#dc5d67" stroke="#dc5d67"/>
<path d="M378.8,258.3L380.9,258.7L382.2,256.2L380.2,255.7Z" fill="#f48849" stroke="#f48849"/>
<path d="M435.1,279.9L437.2,282.8L438.5,280.9L436.4,278.0Z" fill="#9410a2" stroke="#9410a2"/>
<path d="M409.9,253.5L412.0,255.0L413.3,253.9L411.2,252.3Z" fill="#fb9f3a" stroke="#fb9f3a"/>
<path d="M431.0,273.0L433.1,276.5L434.4,274.7L432.4,271.4Z" fill="#b02991" stroke="#b02991"/>
<path d="M366.1,270.8L368.1,271.6L369.4,268.7L367.4,268.1Z" fill="#c33d80" stroke="#c33d80"/>
<path d="M447.3,280.8L449.3,281.2L450.7,278.9L448.6,278.3Z" fill="#9814a0" stroke="#9814a0"/>
<path d="M392.3,252.3L394.4,253.4L395.7,251.7L393.7,250.5Z" fill="#fca934" stroke="#fca934"/>
<path d="M426.9,266.3L429.0,269.5L430.3,268.1L428.2,265.2Z" fill="#cf4c74" stroke="#cf4c74"/>
<path d="M429.0,269.5L431.0,273.0L432.4,271.4L430.3,268.1Z" fill="#bf3984" stroke="#bf3984"/>
<path d="M352.6,274.7L354.6,275.9L355.9,274.3L353.9,273.3Z" fill="#ad2793" stroke="#ad2793"/>
<path d="M382.2,256.2L384.2,256.8L385.6,254.5L383.5,253.8Z" fill="#f89540" stroke="#f89540"/>
<path d="M437.2,282.8L439.2,285.0L440.6,283.2L438.5,280.9Z" fill="#8808a6" stroke="#8808a6"/>
<path d="M401.1,252.5L403.2,253.7L404.5,252.1L402.4,250.9Z" fill="#fca835" stroke="#fca835"/>
<path d="M388.9,253.2L391.0,254.2L392.3,252.3L390.3,251.3Z" fill="#fca537" stroke="#fca537"/>
<path d="M374.1,263.4L376.2,263.8L377.5,260.9L375.4,260.6Z" fill="#e56b5d" stroke="#e56b5d"/>
<path d="M385.6,254.5L387.6,255.3L388.9,253.2L386.9,252.4Z" fill="#fa9e3b" stroke="#fa9e3b"/>
<path d="M450.7,278.9L452.7,279.0L454.1,277.0L452.0,276.6Z" fill="#a11b9b" stroke="#a11b9b"/>
<path d="M417.4,257.5L419.5,259.5L420.8,258.6L418.7,256.6Z" fill="#f3854b" stroke="#f3854b"/>
<path d="M369.4,268.7L371.5,269.4L372.8,266.3L370.8,265.8Z" fill="#ce4b75" stroke="#ce4b75"/>
<path d="M454.1,277.0L456.1,277.1L457.4,275.3L455.4,275.0Z" fill="#a82296" stroke="#a82296"/>
<path d="M361.3,274.7L363.4,276.2L364.7,273.5L362.7,272.4Z" fill="#b02991" stroke="#b02991"/>
<path d="M397.8,252.9L399.8,254.1L401.1,252.5L399.1,251.3Z" fill="#fca636" stroke="#fca636"/>
<path d="M406.6,253.4L408.6,254.8L409.9,253.5L407.9,252.1Z" fill="#fba238" stroke="#fba238"/>
<path d="M457.4,275.3L459.5,275.5L460.8,274.1L458.8,273.7Z" fill="#ae2892" stroke="#ae2892"/>
<path d="M412.0,255.0L414.0,256.6L415.4,255.6L413.3,253.9Z" fill="#f9973f" stroke="#f9973f"/>
<path d="M358.0,275.5L360.0,277.0L361.3,274.7L359.3,273.6Z" fill="#ac2694" stroke="#ac2694"/>
<path d="M442.6,284.6L444.7,285.2L446.0,283.2L443.9,282.4Z" fill="#8606a6" stroke="#8606a6"/>
<path d="M364.7,273.5L366.8,274.8L368.1,271.6L366.1,270.8Z" fill="#b52f8c" stroke="#b52f8c"/>
<path d="M377.5,260.9L379.5,261.4L380.9,258.7L378.8,258.3Z" fill="#ee7b51" stroke="#ee7b51"/>
<path d="M419.5,259.5L421.5,261.8L422.8,260.9L420.8,258.6Z" fill="#ed7953" stroke="#ed7953"/>
<path d="M439.2,285.0L441.3,286.2L442.6,284.6L440.6,283.2Z" fill="#8104a7" stroke="#8104a7"/>
<path d="M446.0,283.2L448.0,283.3L449.3,281.2L447.3,280.8Z" fill="#8e0ca4" stroke="#8e0ca4"/>
<path d="M394.4,253.4L396.4,254.6L397.8,252.9L395.7,251.7Z" fill="#fca537" stroke="#fca537"/>
<path d="M372.8,266.3L374.9,266.9L376.2,263.8L374.1,263.4Z" fill="#db5c68" stroke="#db5c68"/>
<path d="M354.6,275.9L356.7,277.3L358.0,275.5L355.9,274.3Z" fill="#ab2494" stroke="#ab2494"/>
<path d="M368.1,271.6L370.2,272.8L371.5,269.4L369.4,268.7Z" fill="#c13b82" stroke="#c13b82"/>
<path d="M403.2,253.7L405.2,254.9L406.6,253.4L404.5,252.1Z" fill="#fca338" stroke="#fca338"/>
<path d="M380.9,258.7L382.9,259.3L384.2,256.8L382.2,256.2Z" fill="#f48948" stroke="#f48948"/>
<path d="M431.8,278.0L433.8,281.3L435.1,279.9L433.1,276.5Z" fill="#9d189d" stroke="#9d189d"/>
<path d="M433.8,281.3L435.9,284.1L437.2,282.8L435.1,279.9Z" fill="#8f0da4" stroke="#8f0da4"/>
<path d="M391.0,254.2L393.1,255.3L394.4,253.4L392.3,252.3Z" fill="#fba238" stroke="#fba238"/>
<path d="M421.5,261.8L423.5,264.4L424.9,263.4L422.8,260.9Z" fill="#e56b5d" stroke="#e56b5d"/>
<path d="M429.7,274.4L431.8,278.0L433.1,276.5L431.0,273.0Z" fill="#ac2694" stroke="#ac2694"/>
<path d="M384.2,256.8L386.3,257.6L387.6,255.3L385.6,254.5Z" fill="#f89441" stroke="#f89441"/>
<path d="M449.3,281.2L451.4,281.1L452.7,279.0L450.7,278.9Z" fill="#99159f" stroke="#99159f"/>
<path d="M387.6,255.3L389.7,256.2L391.0,254.2L388.9,253.2Z" fill="#fa9c3c" stroke="#fa9c3c"/>
<path d="M414.0,256.6L416.1,258.4L417.4,257.5L415.4,255.6Z" fill="#f68d45" stroke="#f68d45"/>
<path d="M408.6,254.8L410.6,256.2L412.0,255.0L409.9,253.5Z" fill="#fa9b3d" stroke="#fa9b3d"/>
<path d="M363.4,276.2L365.4,278.1L366.8,274.8L364.7,273.5Z" fill="#ac2694" stroke="#ac2694"/>
<path d="M427.6,270.8L429.7,274.4L431.0,273.0L429.0,269.5Z" fill="#bb3488" stroke="#bb3488"/>
<path d="M423.5,264.4L425.6,267.4L426.9,266.3L424.9,263.4Z" fill="#da5b69" stroke="#da5b69"/>
<path d="M360.0,277.0L362.1,279.0L363.4,276.2L361.3,274.7Z" fill="#a72197" stroke="#a72197"/>
<path d="M351.2,275.9L353.3,277.3L354.6,275.9L352.6,274.7Z" fill="#ab2494" stroke="#ab2494"/>
<path d="M425.6,267.4L427.6,270.8L429.0,269.5L426.9,266.3Z" fill="#cc4977" stroke="#cc4977"/>
<path d="M399.8,254.1L401.9,255.3L403.2,253.7L401.1,252.5Z" fill="#fba238" stroke="#fba238"/>
<path d="M435.9,284.1L437.9,286.0L439.2,285.0L437.2,282.8Z" fill="#8405a7" stroke="#8405a7"/>
<path d="M376.2,263.8L378.2,264.3L379.5,261.4L377.5,260.9Z" fill="#e66c5c" stroke="#e66c5c"/>
<path d="M371.5,269.4L373.5,270.3L374.9,266.9L372.8,266.3Z" fill="#ce4b75" stroke="#ce4b75"/>
<path d="M366.8,274.8L368.8,276.4L370.2,272.8L368.1,271.6Z" fill="#b32c8e" stroke="#b32c8e"/>
<path d="M452.7,279.0L454.8,278.9L456.1,277.1L454.1,277.0Z" fill="#a21d9a" stroke="#a21d9a"/>
<path d="M356.7,277.3L358.7,279.3L360.0,277.0L358.0,275.5Z" fill="#a62098" stroke="#a62098"/>
<path d="M396.4,254.6L398.5,255.8L399.8,254.1L397.8,252.9Z" fill="#fba139" stroke="#fba139"/>
<path d="M441.3,286.2L443.3,286.5L444.7,285.2L442.6,284.6Z" fill="#8004a8" stroke="#8004a8"/>
<path d="M456.1,277.1L458.2,277.1L459.5,275.5L457.4,275.3Z" fill="#aa2395" stroke="#aa2395"/>
<path d="M416.1,258.4L418.1,260.5L419.5,259.5L417.4,257.5Z" fill="#f2844b" stroke="#f2844b"/>
<path d="M379.5,261.4L381.6,262.0L382.9,259.3L380.9,258.7Z" fill="#ee7b51" stroke="#ee7b51"/>
<path d="M405.2,254.9L407.3,256.2L408.6,254.8L406.6,253.4Z" fill="#fa9e3b" stroke="#fa9e3b"/>
<path d="M459.5,275.5L461.5,275.7L462.9,274.4L460.8,274.1Z" fill="#b02991" stroke="#b02991"/>
<path d="M444.7,285.2L446.7,285.0L448.0,283.3L446.0,283.2Z" fill="#8707a6" stroke="#8707a6"/>
<path d="M362.1,279.0L364.1,281.5L365.4,278.1L363.4,276.2Z" fill="#a11b9b" stroke="#a11b9b"/>
<path d="M365.4,278.1L367.5,280.4L368.8,276.4L366.8,274.8Z" fill="#a62098" stroke="#a62098"/>
<path d="M370.2,272.8L372.2,274.1L373.5,270.3L371.5,269.4Z" fill="#bf3984" stroke="#bf3984"/>
<path d="M393.1,255.3L395.1,256.4L396.4,254.6L394.4,253.4Z" fill="#fa9e3b" stroke="#fa9e3b"/>
<path d="M410.6,256.2L412.7,257.8L414.0,256.6L412.0,255.0Z" fill="#f89441" stroke="#f89441"/>
<path d="M374.9,266.9L376.9,267.6L378.2,264.3L376.2,263.8Z" fill="#db5c68" stroke="#db5c68"/>
<path d="M437.9,286.0L440.0,286.9L441.3,286.2L439.2,285.0Z" fill="#8004a8" stroke="#8004a8"/>
<path d="M382.9,259.3L385.0,260.0L386.3,257.6L384.2,256.8Z" fill="#f48849" stroke="#f48849"/>
<path d="M353.3,277.3L355.3,279.0L356.7,277.3L354.6,275.9Z" fill="#a62098" stroke="#a62098"/>
<path d="M358.7,279.3L360.8,281.7L362.1,279.0L360.0,277.0Z" fill="#9e199d" stroke="#9e199d"/>
<path d="M389.7,256.2L391.7,257.2L393.1,255.3L391.0,254.2Z" fill="#f99a3e" stroke="#f99a3e"/>
<path d="M448.0,283.3L450.1,282.9L451.4,281.1L449.3,281.2Z" fill="#920fa3" stroke="#920fa3"/>
<path d="M386.3,257.6L388.4,258.4L389.7,256.2L387.6,255.3Z" fill="#f79342" stroke="#f79342"/>
<path d="M368.8,276.4L370.9,278.3L372.2,274.1L370.2,272.8Z" fill="#ae2892" stroke="#ae2892"/>
<path d="M401.9,255.3L403.9,256.5L405.2,254.9L403.2,253.7Z" fill="#fa9e3b" stroke="#fa9e3b"/>
<path d="M364.1,281.5L366.2,284.4L367.5,280.4L365.4,278.1Z" fill="#9814a0" stroke="#9814a0"/>
<path d="M418.1,260.5L420.2,262.8L421.5,261.8L419.5,259.5Z" fill="#ed7953" stroke="#ed7953"/>
<path d="M367.5,280.4L369.6,282.9L370.9,278.3L368.8,276.4Z" fill="#9e199d" stroke="#9e199d"/>
<path d="M430.4,278.9L432.5,282.0L433.8,281.3L431.8,278.0Z" fill="#9c179e" stroke="#9c179e"/>
<path d="M366.2,284.4L368.2,287.5L369.6,282.9L367.5,280.4Z" fill="#8b0aa5" stroke="#8b0aa5"/>
<path d="M360.8,281.7L362.8,284.8L364.1,281.5L362.1,279.0Z" fill="#9511a1" stroke="#9511a1"/>
<path d="M373.5,270.3L375.6,271.3L376.9,267.6L374.9,266.9Z" fill="#cd4a76" stroke="#cd4a76"/>
<path d="M428.4,275.4L430.4,278.9L431.8,278.0L429.7,274.4Z" fill="#aa2395" stroke="#aa2395"/>
<path d="M378.2,264.3L380.3,265.0L381.6,262.0L379.5,261.4Z" fill="#e66c5c" stroke="#e66c5c"/>
<path d="M366.9,291.9L368.9,295.2L370.3,290.5L368.2,287.5Z" fill="#6300a7" stroke="#6300a7"/>
<path d="M364.9,288.3L366.9,291.9L368.2,287.5L366.2,284.4Z" fill="#7701a8" stroke="#7701a8"/>
<path d="M432.5,282.0L434.5,284.4L435.9,284.1L433.8,281.3Z" fill="#8e0ca4" stroke="#8e0ca4"/>
<path d="M420.2,262.8L422.2,265.4L423.5,264.4L421.5,261.8Z" fill="#e56a5d" stroke="#e56a5d"/>
<path d="M398.5,255.8L400.5,256.9L401.9,255.3L399.8,254.1Z" fill="#fa9b3d" stroke="#fa9b3d"/>
<path d="M362.8,284.8L364.9,288.3L366.2,284.4L364.1,281.5Z" fill="#8707a6" stroke="#8707a6"/>
<path d="M407.3,256.2L409.3,257.6L410.6,256.2L408.6,254.8Z" fill="#f9983e" stroke="#f9983e"/>
<path d="M451.4,281.1L453.4,280.7L454.8,278.9L452.7,279.0Z" fill="#9d189d" stroke="#9d189d"/>
<path d="M368.2,287.5L370.3,290.5L371.6,285.4L369.6,282.9Z" fill="#7e03a8" stroke="#7e03a8"/>
<path d="M426.3,271.8L428.4,275.4L429.7,274.4L427.6,270.8Z" fill="#b83289" stroke="#b83289"/>
<path d="M365.6,295.5L367.6,298.8L368.9,295.2L366.9,291.9Z" fill="#4b03a1" stroke="#4b03a1"/>
<path d="M412.7,257.8L414.8,259.5L416.1,258.4L414.0,256.6Z" fill="#f58c46" stroke="#f58c46"/>
<path d="M355.3,279.0L357.4,281.3L358.7,279.3L356.7,277.3Z" fill="#a01a9c" stroke="#a01a9c"/>
<path d="M368.9,295.2L371.0,297.5L372.3,292.9L370.3,290.5Z" fill="#5302a3" stroke="#5302a3"/>
<path d="M349.9,277.1L351.9,278.6L353.3,277.3L351.2,275.9Z" fill="#a82296" stroke="#a82296"/>
<path d="M422.2,265.4L424.3,268.5L425.6,267.4L423.5,264.4Z" fill="#da5a6a" stroke="#da5a6a"/>
<path d="M424.3,268.5L426.3,271.8L427.6,270.8L425.6,267.4Z" fill="#cb4679" stroke="#cb4679"/>
<path d="M372.2,274.1L374.2,275.5L375.6,271.3L373.5,270.3Z" fill="#bb3488" stroke="#bb3488"/>
<path d="M369.6,282.9L371.6,285.4L372.9,280.3L370.9,278.3Z" fill="#9613a1" stroke="#9613a1"/>
<path d="M363.5,291.6L365.6,295.5L366.9,291.9L364.9,288.3Z" fill="#6100a7" stroke="#6100a7"/>
<path d="M367.6,298.8L369.7,301.0L371.0,297.5L368.9,295.2Z" fill="#38049a" stroke="#38049a"/>
<path d="M395.1,256.4L397.1,257.5L398.5,255.8L396.4,254.6Z" fill="#f99a3e" stroke="#f99a3e"/>
<path d="M370.9,278.3L372.9,280.3L374.2,275.5L372.2,274.1Z" fill="#aa2395" stroke="#aa2395"/>
<path d="M381.6,262.0L383.6,262.7L385.0,260.0L382.9,259.3Z" fill="#ee7b51" stroke="#ee7b51"/>
<path d="M370.3,290.5L372.3,292.9L373.6,287.5L371.6,285.4Z" fill="#7100a8" stroke="#7100a8"/>
<path d="M454.8,278.9L456.8,278.7L458.2,277.1L456.1,277.1Z" fill="#a62098" stroke="#a62098"/>
<path d="M434.5,284.4L436.6,286.1L437.9,286.0L435.9,284.1Z" fill="#8606a6" stroke="#8606a6"/>
<path d="M361.5,287.7L363.5,291.6L364.9,288.3L362.8,284.8Z" fill="#7701a8" stroke="#7701a8"/>
<path d="M357.4,281.3L359.4,284.2L360.8,281.7L358.7,279.3Z" fill="#9613a1" stroke="#9613a1"/>
<path d="M403.9,256.5L406.0,257.7L407.3,256.2L405.2,254.9Z" fill="#f9983e" stroke="#f9983e"/>
<path d="M461.5,275.7L463.6,275.9L464.9,274.7L462.9,274.4Z" fill="#b12a90" stroke="#b12a90"/>
<path d="M376.9,267.6L378.9,268.4L380.3,265.0L378.2,264.3Z" fill="#da5b69" stroke="#da5b69"/>
<path d="M443.3,286.5L445.4,286.1L446.7,285.0L444.7,285.2Z" fill="#8305a7" stroke="#8305a7"/>
<path d="M391.7,257.2L393.8,258.3L395.1,256.4L393.1,255.3Z" fill="#f89540" stroke="#f89540"/>
<path d="M458.2,277.1L460.2,277.0L461.5,275.7L459.5,275.5Z" fill="#ac2694" stroke="#ac2694"/>
<path d="M385.0,260.0L387.0,260.8L388.4,258.4L386.3,257.6Z" fill="#f3874a" stroke="#f3874a"/>
<path d="M359.4,284.2L361.5,287.7L362.8,284.8L360.8,281.7Z" fill="#8a09a5" stroke="#8a09a5"/>
<path d="M388.4,258.4L390.4,259.3L391.7,257.2L389.7,256.2Z" fill="#f79044" stroke="#f79044"/>
<path d="M440.0,286.9L442.0,287.0L443.3,286.5L441.3,286.2Z" fill="#7e03a8" stroke="#7e03a8"/>
<path d="M414.8,259.5L416.8,261.5L418.1,260.5L416.1,258.4Z" fill="#f1834c" stroke="#f1834c"/>
<path d="M364.2,297.9L366.3,301.1L367.6,298.8L365.6,295.5Z" fill="#3a049a" stroke="#3a049a"/>
<path d="M371.0,297.5L373.1,298.7L374.4,294.2L372.3,292.9Z" fill="#4903a0" stroke="#4903a0"/>
<path d="M371.6,285.4L373.6,287.5L375.0,282.1L372.9,280.3Z" fill="#8d0ba5" stroke="#8d0ba5"/>
<path d="M446.7,285.0L448.8,284.3L450.1,282.9L448.0,283.3Z" fill="#8d0ba5" stroke="#8d0ba5"/>
<path d="M409.3,257.6L411.4,259.0L412.7,257.8L410.6,256.2Z" fill="#f79143" stroke="#f79143"/>
<path d="M351.9,278.6L354.0,280.6L355.3,279.0L353.3,277.3Z" fill="#a31e9a" stroke="#a31e9a"/>
<path d="M362.2,294.1L364.2,297.9L365.6,295.5L363.5,291.6Z" fill="#5102a3" stroke="#5102a3"/>
<path d="M400.5,256.9L402.6,258.1L403.9,256.5L401.9,255.3Z" fill="#f9973f" stroke="#f9973f"/>
<path d="M375.6,271.3L377.6,272.4L378.9,268.4L376.9,267.6Z" fill="#cc4778" stroke="#cc4778"/>
<path d="M369.7,301.0L371.7,301.8L373.1,298.7L371.0,297.5Z" fill="#2f0596" stroke="#2f0596"/>
<path d="M366.3,301.1L368.3,302.9L369.7,301.0L367.6,298.8Z" fill="#280592" stroke="#280592"/>
<path d="M372.3,292.9L374.4,294.2L375.7,288.9L373.6,287.5Z" fill="#6700a8" stroke="#6700a8"/>
<path d="M372.9,280.3L375.0,282.1L376.3,276.9L374.2,275.5Z" fill="#a51f99" stroke="#a51f99"/>
<path d="M380.3,265.0L382.3,265.7L383.6,262.7L381.6,262.0Z" fill="#e56b5d" stroke="#e56b5d"/>
<path d="M374.2,275.5L376.3,276.9L377.6,272.4L375.6,271.3Z" fill="#b6308b" stroke="#b6308b"/>
<path d="M416.8,261.5L418.9,263.7L420.2,262.8L418.1,260.5Z" fill="#eb7655" stroke="#eb7655"/>
<path d="M397.1,257.5L399.2,258.6L400.5,256.9L398.5,255.8Z" fill="#f89540" stroke="#f89540"/>
<path d="M360.1,290.1L362.2,294.1L363.5,291.6L361.5,287.7Z" fill="#6900a8" stroke="#6900a8"/>
<path d="M450.1,282.9L452.1,282.2L453.4,280.7L451.4,281.1Z" fill="#9814a0" stroke="#9814a0"/>
<path d="M436.6,286.1L438.6,286.8L440.0,286.9L437.9,286.0Z" fill="#8104a7" stroke="#8104a7"/>
<path d="M354.0,280.6L356.0,283.1L357.4,281.3L355.3,279.0Z" fill="#9c179e" stroke="#9c179e"/>
<path d="M406.0,257.7L408.0,259.0L409.3,257.6L407.3,256.2Z" fill="#f79342" stroke="#f79342"/>
<path d="M373.6,287.5L375.7,288.9L377.0,283.4L375.0,282.1Z" fill="#8707a6" stroke="#8707a6"/>
<path d="M383.6,262.7L385.7,263.4L387.0,260.8L385.0,260.0Z" fill="#ed7a52" stroke="#ed7a52"/>
<path d="M393.8,258.3L395.8,259.3L397.1,257.5L395.1,256.4Z" fill="#f79143" stroke="#f79143"/>
<path d="M358.1,286.3L360.1,290.1L361.5,287.7L359.4,284.2Z" fill="#8004a8" stroke="#8004a8"/>
<path d="M418.9,263.7L420.9,266.4L422.2,265.4L420.2,262.8Z" fill="#e4695e" stroke="#e4695e"/>
<path d="M356.0,283.1L358.1,286.3L359.4,284.2L357.4,281.3Z" fill="#8f0da4" stroke="#8f0da4"/>
<path d="M411.4,259.0L413.4,260.7L414.8,259.5L412.7,257.8Z" fill="#f48948" stroke="#f48948"/>
<path d="M427.1,275.9L429.1,279.1L430.4,278.9L428.4,275.4Z" fill="#ab2494" stroke="#ab2494"/>
<path d="M348.6,278.1L350.6,279.7L351.9,278.6L349.9,277.1Z" fill="#a72197" stroke="#a72197"/>
<path d="M378.9,268.4L381.0,269.3L382.3,265.7L380.3,265.0Z" fill="#da5a6a" stroke="#da5a6a"/>
<path d="M429.1,279.1L431.1,281.9L432.5,282.0L430.4,278.9Z" fill="#9d189d" stroke="#9d189d"/>
<path d="M390.4,259.3L392.4,260.3L393.8,258.3L391.7,257.2Z" fill="#f58c46" stroke="#f58c46"/>
<path d="M387.0,260.8L389.1,261.6L390.4,259.3L388.4,258.4Z" fill="#f3854b" stroke="#f3854b"/>
<path d="M453.4,280.7L455.5,280.1L456.8,278.7L454.8,278.9Z" fill="#a21d9a" stroke="#a21d9a"/>
<path d="M425.0,272.6L427.1,275.9L428.4,275.4L426.3,271.8Z" fill="#b7318a" stroke="#b7318a"/>
<path d="M420.9,266.4L422.9,269.3L424.3,268.5L422.2,265.4Z" fill="#d8576b" stroke="#d8576b"/>
<path d="M422.9,269.3L425.0,272.6L426.3,271.8L424.3,268.5Z" fill="#ca457a" stroke="#ca457a"/>
<path d="M375.0,282.1L377.0,283.4L378.4,278.1L376.3,276.9Z" fill="#a01a9c" stroke="#a01a9c"/>
<path d="M368.3,302.9L370.4,303.2L371.7,301.8L369.7,301.0Z" fill="#220690" stroke="#220690"/>
<path d="M402.6,258.1L404.6,259.2L406.0,257.7L403.9,256.5Z" fill="#f79342" stroke="#f79342"/>
<path d="M463.6,275.9L465.6,276.1L466.9,275.0L464.9,274.7Z" fill="#b22b8f" stroke="#b22b8f"/>
<path d="M456.8,278.7L458.9,278.4L460.2,277.0L458.2,277.1Z" fill="#aa2395" stroke="#aa2395"/>
<path d="M431.1,281.9L433.2,284.0L434.5,284.4L432.5,282.0Z" fill="#920fa3" stroke="#920fa3"/>
<path d="M373.1,298.7L375.1,298.3L376.4,294.3L374.4,294.2Z" fill="#4903a0" stroke="#4903a0"/>
<path d="M377.6,272.4L379.7,273.4L381.0,269.3L378.9,268.4Z" fill="#ca457a" stroke="#ca457a"/>
<path d="M460.2,277.0L462.2,277.1L463.6,275.9L461.5,275.7Z" fill="#ae2892" stroke="#ae2892"/>
<path d="M362.9,299.0L365.0,301.7L366.3,301.1L364.2,297.9Z" fill="#330597" stroke="#330597"/>
<path d="M374.4,294.2L376.4,294.3L377.8,289.4L375.7,288.9Z" fill="#6600a7" stroke="#6600a7"/>
<path d="M376.3,276.9L378.4,278.1L379.7,273.4L377.6,272.4Z" fill="#b42e8d" stroke="#b42e8d"/>
<path d="M360.9,295.4L362.9,299.0L364.2,297.9L362.2,294.1Z" fill="#4903a0" stroke="#4903a0"/>
<path d="M399.2,258.6L401.2,259.8L402.6,258.1L400.5,256.9Z" fill="#f79044" stroke="#f79044"/>
<path d="M442.0,287.0L444.0,286.5L445.4,286.1L443.3,286.5Z" fill="#8305a7" stroke="#8305a7"/>
<path d="M382.3,265.7L384.4,266.5L385.7,263.4L383.6,262.7Z" fill="#e56a5d" stroke="#e56a5d"/>
<path d="M413.4,260.7L415.5,262.5L416.8,261.5L414.8,259.5Z" fill="#f0804e" stroke="#f0804e"/>
<path d="M445.4,286.1L447.4,285.2L448.8,284.3L446.7,285.0Z" fill="#8a09a5" stroke="#8a09a5"/>
<path d="M408.0,259.0L410.1,260.3L411.4,259.0L409.3,257.6Z" fill="#f68d45" stroke="#f68d45"/>
<path d="M350.6,279.7L352.7,281.8L354.0,280.6L351.9,278.6Z" fill="#a11b9b" stroke="#a11b9b"/>
<path d="M371.7,301.8L373.8,301.0L375.1,298.3L373.1,298.7Z" fill="#330597" stroke="#330597"/>
<path d="M358.8,291.5L360.9,295.4L362.2,294.1L360.1,290.1Z" fill="#6100a7" stroke="#6100a7"/>
<path d="M375.7,288.9L377.8,289.4L379.1,284.1L377.0,283.4Z" fill="#8405a7" stroke="#8405a7"/>
<path d="M365.0,301.7L367.0,303.1L368.3,302.9L366.3,301.1Z" fill="#240691" stroke="#240691"/>
<path d="M395.8,259.3L397.9,260.4L399.2,258.6L397.1,257.5Z" fill="#f68d45" stroke="#f68d45"/>
<path d="M433.2,284.0L435.2,285.3L436.6,286.1L434.5,284.4Z" fill="#8b0aa5" stroke="#8b0aa5"/>
<path d="M385.7,263.4L387.8,264.2L389.1,261.6L387.0,260.8Z" fill="#ed7953" stroke="#ed7953"/>
<path d="M438.6,286.8L440.7,286.8L442.0,287.0L440.0,286.9Z" fill="#8305a7" stroke="#8305a7"/>
<path d="M448.8,284.3L450.8,283.4L452.1,282.2L450.1,282.9Z" fill="#9410a2" stroke="#9410a2"/>
<path d="M392.4,260.3L394.5,261.3L395.8,259.3L393.8,258.3Z" fill="#f48948" stroke="#f48948"/>
<path d="M352.7,281.8L354.7,284.5L356.0,283.1L354.0,280.6Z" fill="#9814a0" stroke="#9814a0"/>
<path d="M356.8,287.8L358.8,291.5L360.1,290.1L358.1,286.3Z" fill="#7801a8" stroke="#7801a8"/>
<path d="M389.1,261.6L391.1,262.5L392.4,260.3L390.4,259.3Z" fill="#f1834c" stroke="#f1834c"/>
<path d="M381.0,269.3L383.1,270.0L384.4,266.5L382.3,265.7Z" fill="#d9586a" stroke="#d9586a"/>
<path d="M404.6,259.2L406.7,260.4L408.0,259.0L406.0,257.7Z" fill="#f68f44" stroke="#f68f44"/>
<path d="M415.5,262.5L417.5,264.7L418.9,263.7L416.8,261.5Z" fill="#eb7556" stroke="#eb7556"/>
<path d="M354.7,284.5L356.8,287.8L358.1,286.3L356.0,283.1Z" fill="#8b0aa5" stroke="#8b0aa5"/>
<path d="M377.0,283.4L379.1,284.1L380.4,278.9L378.4,278.1Z" fill="#9d189d" stroke="#9d189d"/>
<path d="M452.1,282.2L454.2,281.5L455.5,280.1L453.4,280.7Z" fill="#9e199d" stroke="#9e199d"/>
<path d="M410.1,260.3L412.1,261.8L413.4,260.7L411.4,259.0Z" fill="#f3874a" stroke="#f3874a"/>
<path d="M379.7,273.4L381.7,274.2L383.1,270.0L381.0,269.3Z" fill="#c8437b" stroke="#c8437b"/>
<path d="M378.4,278.1L380.4,278.9L381.7,274.2L379.7,273.4Z" fill="#b22b8f" stroke="#b22b8f"/>
<path d="M401.2,259.8L403.3,260.8L404.6,259.2L402.6,258.1Z" fill="#f58c46" stroke="#f58c46"/>
<path d="M417.5,264.7L419.6,267.2L420.9,266.4L418.9,263.7Z" fill="#e3685f" stroke="#e3685f"/>
<path d="M465.6,276.1L467.7,276.4L469.0,275.4L466.9,275.0Z" fill="#b42e8d" stroke="#b42e8d"/>
<path d="M347.2,279.0L349.3,280.7L350.6,279.7L348.6,278.1Z" fill="#a62098" stroke="#a62098"/>
<path d="M455.5,280.1L457.6,279.7L458.9,278.4L456.8,278.7Z" fill="#a62098" stroke="#a62098"/>
<path d="M384.4,266.5L386.4,267.2L387.8,264.2L385.7,263.4Z" fill="#e4695e" stroke="#e4695e"/>
<path d="M462.2,277.1L464.3,277.2L465.6,276.1L463.6,275.9Z" fill="#b12a90" stroke="#b12a90"/>
<path d="M419.6,267.2L421.6,270.0L422.9,269.3L420.9,266.4Z" fill="#d8576b" stroke="#d8576b"/>
<path d="M370.4,303.2L372.4,302.0L373.8,301.0L371.7,301.8Z" fill="#2a0593" stroke="#2a0593"/>
<path d="M397.9,260.4L399.9,261.5L401.2,259.8L399.2,258.6Z" fill="#f48948" stroke="#f48948"/>
<path d="M458.9,278.4L460.9,278.2L462.2,277.1L460.2,277.0Z" fill="#ad2793" stroke="#ad2793"/>
<path d="M421.6,270.0L423.7,272.9L425.0,272.6L422.9,269.3Z" fill="#cb4679" stroke="#cb4679"/>
<path d="M367.0,303.1L369.1,303.0L370.4,303.2L368.3,302.9Z" fill="#220690" stroke="#220690"/>
<path d="M435.2,285.3L437.3,285.9L438.6,286.8L436.6,286.1Z" fill="#8808a6" stroke="#8808a6"/>
<path d="M423.7,272.9L425.7,275.9L427.1,275.9L425.0,272.6Z" fill="#bb3488" stroke="#bb3488"/>
<path d="M425.7,275.9L427.8,278.7L429.1,279.1L427.1,275.9Z" fill="#ad2793" stroke="#ad2793"/>
<path d="M376.4,294.3L378.5,293.3L379.8,288.9L377.8,289.4Z" fill="#6c00a8" stroke="#6c00a8"/>
<path d="M394.5,261.3L396.6,262.3L397.9,260.4L395.8,259.3Z" fill="#f3854b" stroke="#f3854b"/>
<path d="M387.8,264.2L389.8,265.0L391.1,262.5L389.1,261.6Z" fill="#eb7655" stroke="#eb7655"/>
<path d="M406.7,260.4L408.7,261.7L410.1,260.3L408.0,259.0Z" fill="#f48948" stroke="#f48948"/>
<path d="M375.1,298.3L377.2,296.7L378.5,293.3L376.4,294.3Z" fill="#5302a3" stroke="#5302a3"/>
<path d="M391.1,262.5L393.2,263.4L394.5,261.3L392.4,260.3Z" fill="#f0804e" stroke="#f0804e"/>
<path d="M412.1,261.8L414.2,263.6L415.5,262.5L413.4,260.7Z" fill="#f07f4f" stroke="#f07f4f"/>
<path d="M427.8,278.7L429.8,281.1L431.1,281.9L429.1,279.1Z" fill="#a31e9a" stroke="#a31e9a"/>
<path d="M349.3,280.7L351.4,282.8L352.7,281.8L350.6,279.7Z" fill="#a01a9c" stroke="#a01a9c"/>
<path d="M377.8,289.4L379.8,288.9L381.1,284.1L379.1,284.1Z" fill="#8707a6" stroke="#8707a6"/>
<path d="M359.6,295.7L361.6,298.7L362.9,299.0L360.9,295.4Z" fill="#4b03a1" stroke="#4b03a1"/>
<path d="M383.1,270.0L385.1,270.7L386.4,267.2L384.4,266.5Z" fill="#d8576b" stroke="#d8576b"/>
<path d="M361.6,298.7L363.6,300.9L365.0,301.7L362.9,299.0Z" fill="#38049a" stroke="#38049a"/>
<path d="M444.0,286.5L446.1,285.6L447.4,285.2L445.4,286.1Z" fill="#8b0aa5" stroke="#8b0aa5"/>
<path d="M357.5,292.1L359.6,295.7L360.9,295.4L358.8,291.5Z" fill="#6100a7" stroke="#6100a7"/>
<path d="M379.1,284.1L381.1,284.1L382.5,279.2L380.4,278.9Z" fill="#9e199d" stroke="#9e199d"/>
<path d="M403.3,260.8L405.3,261.9L406.7,260.4L404.6,259.2Z" fill="#f48948" stroke="#f48948"/>
<path d="M447.4,285.2L449.5,284.3L450.8,283.4L448.8,284.3Z" fill="#920fa3" stroke="#920fa3"/>
<path d="M440.7,286.8L442.7,286.3L444.0,286.5L442.0,287.0Z" fill="#8707a6" stroke="#8707a6"/>
<path d="M351.4,282.8L353.4,285.4L354.7,284.5L352.7,281.8Z" fill="#9613a1" stroke="#9613a1"/>
<path d="M355.4,288.6L357.5,292.1L358.8,291.5L356.8,287.8Z" fill="#7701a8" stroke="#7701a8"/>
<path d="M381.7,274.2L383.8,274.7L385.1,270.7L383.1,270.0Z" fill="#c7427c" stroke="#c7427c"/>
<path d="M429.8,281.1L431.9,282.8L433.2,284.0L431.1,281.9Z" fill="#9a169f" stroke="#9a169f"/>
<path d="M380.4,278.9L382.5,279.2L383.8,274.7L381.7,274.2Z" fill="#b22b8f" stroke="#b22b8f"/>
<path d="M353.4,285.4L355.4,288.6L356.8,287.8L354.7,284.5Z" fill="#8808a6" stroke="#8808a6"/>
<path d="M414.2,263.6L416.2,265.6L417.5,264.7L415.5,262.5Z" fill="#ea7457" stroke="#ea7457"/>
<path d="M373.8,301.0L375.8,298.8L377.2,296.7L375.1,298.3Z" fill="#43039e" stroke="#43039e"/>
<path d="M399.9,261.5L402.0,262.5L403.3,260.8L401.2,259.8Z" fill="#f3874a" stroke="#f3874a"/>
<path d="M450.8,283.4L452.9,282.5L454.2,281.5L452.1,282.2Z" fill="#9c179e" stroke="#9c179e"/>
<path d="M386.4,267.2L388.5,267.9L389.8,265.0L387.8,264.2Z" fill="#e3685f" stroke="#e3685f"/>
<path d="M408.7,261.7L410.8,263.1L412.1,261.8L410.1,260.3Z" fill="#f1834c" stroke="#f1834c"/>
<path d="M363.6,300.9L365.7,301.8L367.0,303.1L365.0,301.7Z" fill="#2e0595" stroke="#2e0595"/>
<path d="M396.6,262.3L398.6,263.3L399.9,261.5L397.9,260.4Z" fill="#f1834c" stroke="#f1834c"/>
<path d="M454.2,281.5L456.2,280.8L457.6,279.7L455.5,280.1Z" fill="#a31e9a" stroke="#a31e9a"/>
<path d="M389.8,265.0L391.8,265.8L393.2,263.4L391.1,262.5Z" fill="#eb7556" stroke="#eb7556"/>
<path d="M464.3,277.2L466.4,277.4L467.7,276.4L465.6,276.1Z" fill="#b32c8e" stroke="#b32c8e"/>
<path d="M393.2,263.4L395.2,264.3L396.6,262.3L394.5,261.3Z" fill="#ef7e50" stroke="#ef7e50"/>
<path d="M416.2,265.6L418.2,267.8L419.6,267.2L417.5,264.7Z" fill="#e3685f" stroke="#e3685f"/>
<path d="M345.9,279.7L348.0,281.4L349.3,280.7L347.2,279.0Z" fill="#a62098" stroke="#a62098"/>
<path d="M437.3,285.9L439.4,286.0L440.7,286.8L438.6,286.8Z" fill="#8a09a5" stroke="#8a09a5"/>
<path d="M457.6,279.7L459.6,279.4L460.9,278.2L458.9,278.4Z" fill="#ab2494" stroke="#ab2494"/>
<path d="M460.9,278.2L463.0,278.2L464.3,277.2L462.2,277.1Z" fill="#b02991" stroke="#b02991"/>
<path d="M431.9,282.8L433.9,284.0L435.2,285.3L433.2,284.0Z" fill="#9511a1" stroke="#9511a1"/>
<path d="M405.3,261.9L407.4,263.1L408.7,261.7L406.7,260.4Z" fill="#f2844b" stroke="#f2844b"/>
<path d="M385.1,270.7L387.1,271.1L388.5,267.9L386.4,267.2Z" fill="#d8576b" stroke="#d8576b"/>
<path d="M418.2,267.8L420.3,270.3L421.6,270.0L419.6,267.2Z" fill="#da5a6a" stroke="#da5a6a"/>
<path d="M369.1,303.0L371.1,301.5L372.4,302.0L370.4,303.2Z" fill="#2e0595" stroke="#2e0595"/>
<path d="M410.8,263.1L412.8,264.6L414.2,263.6L412.1,261.8Z" fill="#ef7c51" stroke="#ef7c51"/>
<path d="M420.3,270.3L422.4,273.0L423.7,272.9L421.6,270.0Z" fill="#cd4a76" stroke="#cd4a76"/>
<path d="M402.0,262.5L404.0,263.5L405.3,261.9L403.3,260.8Z" fill="#f1834c" stroke="#f1834c"/>
<path d="M348.0,281.4L350.0,283.4L351.4,282.8L349.3,280.7Z" fill="#a01a9c" stroke="#a01a9c"/>
<path d="M383.8,274.7L385.8,274.9L387.1,271.1L385.1,270.7Z" fill="#c8437b" stroke="#c8437b"/>
<path d="M379.8,288.9L381.8,287.6L383.2,283.4L381.1,284.1Z" fill="#8e0ca4" stroke="#8e0ca4"/>
<path d="M422.4,273.0L424.4,275.5L425.7,275.9L423.7,272.9Z" fill="#c03a83" stroke="#c03a83"/>
<path d="M388.5,267.9L390.5,268.5L391.8,265.8L389.8,265.0Z" fill="#e3685f" stroke="#e3685f"/>
<path d="M378.5,293.3L380.5,291.4L381.8,287.6L379.8,288.9Z" fill="#7801a8" stroke="#7801a8"/>
<path d="M381.1,284.1L383.2,283.4L384.5,279.0L382.5,279.2Z" fill="#a21d9a" stroke="#a21d9a"/>
<path d="M382.5,279.2L384.5,279.0L385.8,274.9L383.8,274.7Z" fill="#b42e8d" stroke="#b42e8d"/>
<path d="M398.6,263.3L400.7,264.2L402.0,262.5L399.9,261.5Z" fill="#f0804e" stroke="#f0804e"/>
<path d="M372.4,302.0L374.5,299.5L375.8,298.8L373.8,301.0Z" fill="#3c049b" stroke="#3c049b"/>
<path d="M424.4,275.5L426.5,277.9L427.8,278.7L425.7,275.9Z" fill="#b32c8e" stroke="#b32c8e"/>
<path d="M395.2,264.3L397.3,265.2L398.6,263.3L396.6,262.3Z" fill="#ed7a52" stroke="#ed7a52"/>
<path d="M391.8,265.8L393.9,266.5L395.2,264.3L393.2,263.4Z" fill="#e97257" stroke="#e97257"/>
<path d="M446.1,285.6L448.1,284.8L449.5,284.3L447.4,285.2Z" fill="#9410a2" stroke="#9410a2"/>
<path d="M350.0,283.4L352.1,285.9L353.4,285.4L351.4,282.8Z" fill="#9613a1" stroke="#9613a1"/>
<path d="M365.7,301.8L367.8,301.4L369.1,303.0L367.0,303.1Z" fill="#2f0596" stroke="#2f0596"/>
<path d="M442.7,286.3L444.8,285.6L446.1,285.6L444.0,286.5Z" fill="#8e0ca4" stroke="#8e0ca4"/>
<path d="M407.4,263.1L409.4,264.3L410.8,263.1L408.7,261.7Z" fill="#f0804e" stroke="#f0804e"/>
<path d="M412.8,264.6L414.9,266.4L416.2,265.6L414.2,263.6Z" fill="#e97257" stroke="#e97257"/>
<path d="M377.2,296.7L379.2,294.2L380.5,291.4L378.5,293.3Z" fill="#6400a7" stroke="#6400a7"/>
<path d="M449.5,284.3L451.5,283.4L452.9,282.5L450.8,283.4Z" fill="#9a169f" stroke="#9a169f"/>
<path d="M356.2,291.9L358.2,294.9L359.6,295.7L357.5,292.1Z" fill="#6700a8" stroke="#6700a8"/>
<path d="M433.9,284.0L436.0,284.6L437.3,285.9L435.2,285.3Z" fill="#9410a2" stroke="#9410a2"/>
<path d="M352.1,285.9L354.1,288.8L355.4,288.6L353.4,285.4Z" fill="#8a09a5" stroke="#8a09a5"/>
<path d="M354.1,288.8L356.2,291.9L357.5,292.1L355.4,288.6Z" fill="#7a02a8" stroke="#7a02a8"/>
<path d="M358.2,294.9L360.3,297.4L361.6,298.7L359.6,295.7Z" fill="#5502a4" stroke="#5502a4"/>
<path d="M426.5,277.9L428.5,279.8L429.8,281.1L427.8,278.7Z" fill="#ab2494" stroke="#ab2494"/>
<path d="M452.9,282.5L454.9,281.9L456.2,280.8L454.2,281.5Z" fill="#a21d9a" stroke="#a21d9a"/>
<path d="M387.1,271.1L389.2,271.5L390.5,268.5L388.5,267.9Z" fill="#d8576b" stroke="#d8576b"/>
<path d="M463.0,278.2L465.0,278.4L466.4,277.4L464.3,277.2Z" fill="#b22b8f" stroke="#b22b8f"/>
<path d="M404.0,263.5L406.1,264.5L407.4,263.1L405.3,261.9Z" fill="#f0804e" stroke="#f0804e"/>
<path d="M456.2,280.8L458.3,280.5L459.6,279.4L457.6,279.7Z" fill="#aa2395" stroke="#aa2395"/>
<path d="M439.4,286.0L441.4,285.7L442.7,286.3L440.7,286.8Z" fill="#8e0ca4" stroke="#8e0ca4"/>
<path d="M459.6,279.4L461.6,279.3L463.0,278.2L460.9,278.2Z" fill="#ae2892" stroke="#ae2892"/>
<path d="M360.3,297.4L362.3,299.1L363.6,300.9L361.6,298.7Z" fill="#48039f" stroke="#48039f"/>
<path d="M414.9,266.4L416.9,268.4L418.2,267.8L416.2,265.6Z" fill="#e3685f" stroke="#e3685f"/>
<path d="M344.6,280.4L346.7,282.0L348.0,281.4L345.9,279.7Z" fill="#a62098" stroke="#a62098"/>
<path d="M400.7,264.2L402.7,265.1L404.0,263.5L402.0,262.5Z" fill="#ef7c51" stroke="#ef7c51"/>
<path d="M390.5,268.5L392.6,269.0L393.9,266.5L391.8,265.8Z" fill="#e26660" stroke="#e26660"/>
<path d="M409.4,264.3L411.5,265.6L412.8,264.6L410.8,263.1Z" fill="#ed7a52" stroke="#ed7a52"/>
<path d="M385.8,274.9L387.9,274.9L389.2,271.5L387.1,271.1Z" fill="#ca457a" stroke="#ca457a"/>
<path d="M428.5,279.8L430.6,281.3L431.9,282.8L429.8,281.1Z" fill="#a51f99" stroke="#a51f99"/>
<path d="M397.3,265.2L399.3,266.0L400.7,264.2L398.6,263.3Z" fill="#ec7754" stroke="#ec7754"/>
<path d="M375.8,298.8L377.9,295.9L379.2,294.2L377.2,296.7Z" fill="#5801a4" stroke="#5801a4"/>
<path d="M393.9,266.5L395.9,267.3L397.3,265.2L395.2,264.3Z" fill="#e97158" stroke="#e97158"/>
<path d="M416.9,268.4L419.0,270.5L420.3,270.3L418.2,267.8Z" fill="#db5c68" stroke="#db5c68"/>
<path d="M384.5,279.0L386.6,278.5L387.9,274.9L385.8,274.9Z" fill="#b7318a" stroke="#b7318a"/>
<path d="M346.7,282.0L348.7,283.8L350.0,283.4L348.0,281.4Z" fill="#a11b9b" stroke="#a11b9b"/>
<path d="M419.0,270.5L421.0,272.8L422.4,273.0L420.3,270.3Z" fill="#d24f71" stroke="#d24f71"/>
<path d="M362.3,299.1L364.4,299.6L365.7,301.8L363.6,300.9Z" fill="#41049d" stroke="#41049d"/>
<path d="M383.2,283.4L385.2,282.3L386.6,278.5L384.5,279.0Z" fill="#a82296" stroke="#a82296"/>
<path d="M436.0,284.6L438.0,284.9L439.4,286.0L437.3,285.9Z" fill="#9511a1" stroke="#9511a1"/>
<path d="M406.1,264.5L408.1,265.5L409.4,264.3L407.4,263.1Z" fill="#ee7b51" stroke="#ee7b51"/>
<path d="M411.5,265.6L413.6,267.1L414.9,266.4L412.8,264.6Z" fill="#e97257" stroke="#e97257"/>
<path d="M389.2,271.5L391.2,271.7L392.6,269.0L390.5,268.5Z" fill="#d9586a" stroke="#d9586a"/>
<path d="M381.8,287.6L383.9,285.9L385.2,282.3L383.2,283.4Z" fill="#9814a0" stroke="#9814a0"/>
<path d="M371.1,301.5L373.2,299.0L374.5,299.5L372.4,302.0Z" fill="#41049d" stroke="#41049d"/>
<path d="M430.6,281.3L432.6,282.3L433.9,284.0L431.9,282.8Z" fill="#a11b9b" stroke="#a11b9b"/>
<path d="M348.7,283.8L350.8,286.1L352.1,285.9L350.0,283.4Z" fill="#9814a0" stroke="#9814a0"/>
<path d="M421.0,272.8L423.1,274.9L424.4,275.5L422.4,273.0Z" fill="#c7427c" stroke="#c7427c"/>
<path d="M448.1,284.8L450.2,284.1L451.5,283.4L449.5,284.3Z" fill="#9c179e" stroke="#9c179e"/>
<path d="M402.7,265.1L404.8,266.0L406.1,264.5L404.0,263.5Z" fill="#ed7a52" stroke="#ed7a52"/>
<path d="M444.8,285.6L446.8,285.0L448.1,284.8L446.1,285.6Z" fill="#9613a1" stroke="#9613a1"/>
<path d="M367.8,301.4L369.8,299.9L371.1,301.5L369.1,303.0Z" fill="#3c049b" stroke="#3c049b"/>
<path d="M451.5,283.4L453.6,282.8L454.9,281.9L452.9,282.5Z" fill="#a21d9a" stroke="#a21d9a"/>
<path d="M461.6,279.3L463.7,279.4L465.0,278.4L463.0,278.2Z" fill="#b12a90" stroke="#b12a90"/>
<path d="M454.9,281.9L456.9,281.5L458.3,280.5L456.2,280.8Z" fill="#a82296" stroke="#a82296"/>
<path d="M380.5,291.4L382.6,288.9L383.9,285.9L381.8,287.6Z" fill="#8707a6" stroke="#8707a6"/>
<path d="M392.6,269.0L394.6,269.5L395.9,267.3L393.9,266.5Z" fill="#e26660" stroke="#e26660"/>
<path d="M399.3,266.0L401.4,266.8L402.7,265.1L400.7,264.2Z" fill="#eb7655" stroke="#eb7655"/>
<path d="M458.3,280.5L460.3,280.4L461.6,279.3L459.6,279.4Z" fill="#ad2793" stroke="#ad2793"/>
<path d="M350.8,286.1L352.8,288.6L354.1,288.8L352.1,285.9Z" fill="#8e0ca4" stroke="#8e0ca4"/>
<path d="M395.9,267.3L398.0,267.9L399.3,266.0L397.3,265.2Z" fill="#e76f5a" stroke="#e76f5a"/>
<path d="M441.4,285.7L443.4,285.4L444.8,285.6L442.7,286.3Z" fill="#9511a1" stroke="#9511a1"/>
<path d="M423.1,274.9L425.1,276.8L426.5,277.9L424.4,275.5Z" fill="#bd3786" stroke="#bd3786"/>
<path d="M352.8,288.6L354.9,291.1L356.2,291.9L354.1,288.8Z" fill="#8104a7" stroke="#8104a7"/>
<path d="M387.9,274.9L389.9,274.7L391.2,271.7L389.2,271.5Z" fill="#cc4977" stroke="#cc4977"/>
<path d="M413.6,267.1L415.6,268.8L416.9,268.4L414.9,266.4Z" fill="#e4695e" stroke="#e4695e"/>
<path d="M408.1,265.5L410.2,266.7L411.5,265.6L409.4,264.3Z" fill="#ec7754" stroke="#ec7754"/>
<path d="M343.3,281.0L345.3,282.4L346.7,282.0L344.6,280.4Z" fill="#a72197" stroke="#a72197"/>
<path d="M374.5,299.5L376.5,296.4L377.9,295.9L375.8,298.8Z" fill="#5601a4" stroke="#5601a4"/>
<path d="M354.9,291.1L356.9,293.6L358.2,294.9L356.2,291.9Z" fill="#7201a8" stroke="#7201a8"/>
<path d="M379.2,294.2L381.2,291.3L382.6,288.9L380.5,291.4Z" fill="#7b02a8" stroke="#7b02a8"/>
<path d="M356.9,293.6L359.0,295.5L360.3,297.4L358.2,294.9Z" fill="#6400a7" stroke="#6400a7"/>
<path d="M425.1,276.8L427.2,278.4L428.5,279.8L426.5,277.9Z" fill="#b42e8d" stroke="#b42e8d"/>
<path d="M432.6,282.3L434.7,283.1L436.0,284.6L433.9,284.0Z" fill="#a01a9c" stroke="#a01a9c"/>
<path d="M386.6,278.5L388.6,277.9L389.9,274.7L387.9,274.9Z" fill="#bd3786" stroke="#bd3786"/>
<path d="M364.4,299.6L366.4,299.1L367.8,301.4L365.7,301.8Z" fill="#46039f" stroke="#46039f"/>
<path d="M404.8,266.0L406.8,266.8L408.1,265.5L406.1,264.5Z" fill="#ec7754" stroke="#ec7754"/>
<path d="M438.0,284.9L440.1,285.0L441.4,285.7L439.4,286.0Z" fill="#9814a0" stroke="#9814a0"/>
<path d="M415.6,268.8L417.6,270.6L419.0,270.5L416.9,268.4Z" fill="#de5f65" stroke="#de5f65"/>
<path d="M391.2,271.7L393.3,271.9L394.6,269.5L392.6,269.0Z" fill="#da5a6a" stroke="#da5a6a"/>
<path d="M401.4,266.8L403.4,267.5L404.8,266.0L402.7,265.1Z" fill="#ea7457" stroke="#ea7457"/>
<path d="M345.3,282.4L347.4,284.1L348.7,283.8L346.7,282.0Z" fill="#a21d9a" stroke="#a21d9a"/>
<path d="M394.6,269.5L396.7,270.0L398.0,267.9L395.9,267.3Z" fill="#e26660" stroke="#e26660"/>
<path d="M398.0,267.9L400.0,268.5L401.4,266.8L399.3,266.0Z" fill="#e76f5a" stroke="#e76f5a"/>
<path d="M410.2,266.7L412.2,267.9L413.6,267.1L411.5,265.6Z" fill="#e97158" stroke="#e97158"/>
<path d="M385.2,282.3L387.3,281.0L388.6,277.9L386.6,278.5Z" fill="#b02991" stroke="#b02991"/>
<path d="M359.0,295.5L361.0,296.7L362.3,299.1L360.3,297.4Z" fill="#5b01a5" stroke="#5b01a5"/>
<path d="M417.6,270.6L419.7,272.4L421.0,272.8L419.0,270.5Z" fill="#d6556d" stroke="#d6556d"/>
<path d="M460.3,280.4L462.4,280.5L463.7,279.4L461.6,279.3Z" fill="#b02991" stroke="#b02991"/>
<path d="M450.2,284.1L452.2,283.7L453.6,282.8L451.5,283.4Z" fill="#a21d9a" stroke="#a21d9a"/>
<path d="M456.9,281.5L459.0,281.4L460.3,280.4L458.3,280.5Z" fill="#ac2694" stroke="#ac2694"/>
<path d="M453.6,282.8L455.6,282.5L456.9,281.5L454.9,281.9Z" fill="#a72197" stroke="#a72197"/>
<path d="M427.2,278.4L429.2,279.7L430.6,281.3L428.5,279.8Z" fill="#b02991" stroke="#b02991"/>
<path d="M446.8,285.0L448.9,284.6L450.2,284.1L448.1,284.8Z" fill="#9d189d" stroke="#9d189d"/>
<path d="M347.4,284.1L349.4,286.0L350.8,286.1L348.7,283.8Z" fill="#9c179e" stroke="#9c179e"/>
<path d="M389.9,274.7L392.0,274.5L393.3,271.9L391.2,271.7Z" fill="#d04d73" stroke="#d04d73"/>
<path d="M377.9,295.9L379.9,292.7L381.2,291.3L379.2,294.2Z" fill="#7201a8" stroke="#7201a8"/>
<path d="M383.9,285.9L385.9,284.0L387.3,281.0L385.2,282.3Z" fill="#a21d9a" stroke="#a21d9a"/>
<path d="M443.4,285.4L445.5,285.2L446.8,285.0L444.8,285.6Z" fill="#9a169f" stroke="#9a169f"/>
<path d="M406.8,266.8L408.9,267.7L410.2,266.7L408.1,265.5Z" fill="#eb7556" stroke="#eb7556"/>
<path d="M419.7,272.4L421.8,274.2L423.1,274.9L421.0,272.8Z" fill="#ce4b75" stroke="#ce4b75"/>
<path d="M434.7,283.1L436.7,283.6L438.0,284.9L436.0,284.6Z" fill="#a01a9c" stroke="#a01a9c"/>
<path d="M412.2,267.9L414.3,269.2L415.6,268.8L413.6,267.1Z" fill="#e56b5d" stroke="#e56b5d"/>
<path d="M349.4,286.0L351.5,288.0L352.8,288.6L350.8,286.1Z" fill="#9410a2" stroke="#9410a2"/>
<path d="M341.9,281.5L344.0,282.7L345.3,282.4L343.3,281.0Z" fill="#aa2395" stroke="#aa2395"/>
<path d="M369.8,299.9L371.9,297.5L373.2,299.0L371.1,301.5Z" fill="#5002a2" stroke="#5002a2"/>
<path d="M393.3,271.9L395.4,272.1L396.7,270.0L394.6,269.5Z" fill="#db5c68" stroke="#db5c68"/>
<path d="M403.4,267.5L405.5,268.2L406.8,266.8L404.8,266.0Z" fill="#e97257" stroke="#e97257"/>
<path d="M440.1,285.0L442.1,285.1L443.4,285.4L441.4,285.7Z" fill="#9c179e" stroke="#9c179e"/>
<path d="M400.0,268.5L402.1,269.1L403.4,267.5L401.4,266.8Z" fill="#e76e5b" stroke="#e76e5b"/>
<path d="M396.7,270.0L398.7,270.4L400.0,268.5L398.0,267.9Z" fill="#e26660" stroke="#e26660"/>
<path d="M382.6,288.9L384.6,286.5L385.9,284.0L383.9,285.9Z" fill="#9613a1" stroke="#9613a1"/>
<path d="M373.2,299.0L375.2,296.0L376.5,296.4L374.5,299.5Z" fill="#5b01a5" stroke="#5b01a5"/>
<path d="M388.6,277.9L390.7,277.2L392.0,274.5L389.9,274.7Z" fill="#c43e7f" stroke="#c43e7f"/>
<path d="M361.0,296.7L363.1,297.0L364.4,299.6L362.3,299.1Z" fill="#5901a5" stroke="#5901a5"/>
<path d="M429.2,279.7L431.3,280.7L432.6,282.3L430.6,281.3Z" fill="#ad2793" stroke="#ad2793"/>
<path d="M351.5,288.0L353.5,290.1L354.9,291.1L352.8,288.6Z" fill="#8a09a5" stroke="#8a09a5"/>
<path d="M421.8,274.2L423.8,275.7L425.1,276.8L423.1,274.9Z" fill="#c7427c" stroke="#c7427c"/>
<path d="M366.4,299.1L368.5,297.7L369.8,299.9L367.8,301.4Z" fill="#5102a3" stroke="#5102a3"/>
<path d="M414.3,269.2L416.3,270.7L417.6,270.6L415.6,268.8Z" fill="#e16462" stroke="#e16462"/>
<path d="M408.9,267.7L410.9,268.7L412.2,267.9L410.2,266.7Z" fill="#e97158" stroke="#e97158"/>
<path d="M344.0,282.7L346.1,284.2L347.4,284.1L345.3,282.4Z" fill="#a51f99" stroke="#a51f99"/>
<path d="M459.0,281.4L461.1,281.6L462.4,280.5L460.3,280.4Z" fill="#ae2892" stroke="#ae2892"/>
<path d="M353.5,290.1L355.6,292.0L356.9,293.6L354.9,291.1Z" fill="#8004a8" stroke="#8004a8"/>
<path d="M455.6,282.5L457.7,282.5L459.0,281.4L456.9,281.5Z" fill="#ab2494" stroke="#ab2494"/>
<path d="M452.2,283.7L454.3,283.6L455.6,282.5L453.6,282.8Z" fill="#a62098" stroke="#a62098"/>
<path d="M387.3,281.0L389.3,279.9L390.7,277.2L388.6,277.9Z" fill="#b6308b" stroke="#b6308b"/>
<path d="M392.0,274.5L394.0,274.4L395.4,272.1L393.3,271.9Z" fill="#d35171" stroke="#d35171"/>
<path d="M448.9,284.6L450.9,284.5L452.2,283.7L450.2,284.1Z" fill="#a21d9a" stroke="#a21d9a"/>
<path d="M376.5,296.4L378.6,293.2L379.9,292.7L377.9,295.9Z" fill="#7100a8" stroke="#7100a8"/>
<path d="M405.5,268.2L407.5,268.8L408.9,267.7L406.8,266.8Z" fill="#e97158" stroke="#e97158"/>
<path d="M381.2,291.3L383.3,288.4L384.6,286.5L382.6,288.9Z" fill="#8e0ca4" stroke="#8e0ca4"/>
<path d="M436.7,283.6L438.8,284.2L440.1,285.0L438.0,284.9Z" fill="#a11b9b" stroke="#a11b9b"/>
<path d="M423.8,275.7L425.8,277.1L427.2,278.4L425.1,276.8Z" fill="#c13b82" stroke="#c13b82"/>
<path d="M445.5,285.2L447.6,285.2L448.9,284.6L446.8,285.0Z" fill="#a01a9c" stroke="#a01a9c"/>
<path d="M416.3,270.7L418.4,272.1L419.7,272.4L417.6,270.6Z" fill="#db5c68" stroke="#db5c68"/>
<path d="M395.4,272.1L397.4,272.3L398.7,270.4L396.7,270.0Z" fill="#dd5e66" stroke="#dd5e66"/>
<path d="M431.3,280.7L433.3,281.6L434.7,283.1L432.6,282.3Z" fill="#ac2694" stroke="#ac2694"/>
<path d="M402.1,269.1L404.1,269.6L405.5,268.2L403.4,267.5Z" fill="#e76e5b" stroke="#e76e5b"/>
<path d="M355.6,292.0L357.6,293.4L359.0,295.5L356.9,293.6Z" fill="#7701a8" stroke="#7701a8"/>
<path d="M398.7,270.4L400.8,270.7L402.1,269.1L400.0,268.5Z" fill="#e3685f" stroke="#e3685f"/>
<path d="M346.1,284.2L348.1,285.8L349.4,286.0L347.4,284.1Z" fill="#a01a9c" stroke="#a01a9c"/>
<path d="M410.9,268.7L412.9,269.7L414.3,269.2L412.2,267.9Z" fill="#e66c5c" stroke="#e66c5c"/>
<path d="M442.1,285.1L444.2,285.4L445.5,285.2L443.4,285.4Z" fill="#9e199d" stroke="#9e199d"/>
<path d="M385.9,284.0L388.0,282.3L389.3,279.9L387.3,281.0Z" fill="#ad2793" stroke="#ad2793"/>
<path d="M363.1,297.0L365.1,296.5L366.4,299.1L364.4,299.6Z" fill="#5e01a6" stroke="#5e01a6"/>
<path d="M340.6,282.0L342.7,283.1L344.0,282.7L341.9,281.5Z" fill="#ab2494" stroke="#ab2494"/>
<path d="M390.7,277.2L392.7,276.7L394.0,274.4L392.0,274.5Z" fill="#ca457a" stroke="#ca457a"/>
<path d="M425.8,277.1L427.9,278.2L429.2,279.7L427.2,278.4Z" fill="#bc3587" stroke="#bc3587"/>
<path d="M418.4,272.1L420.4,273.5L421.8,274.2L419.7,272.4Z" fill="#d6556d" stroke="#d6556d"/>
<path d="M348.1,285.8L350.1,287.4L351.5,288.0L349.4,286.0Z" fill="#99159f" stroke="#99159f"/>
<path d="M407.5,268.8L409.6,269.5L410.9,268.7L408.9,267.7Z" fill="#e87059" stroke="#e87059"/>
<path d="M357.6,293.4L359.7,294.3L361.0,296.7L359.0,295.5Z" fill="#7100a8" stroke="#7100a8"/>
<path d="M457.7,282.5L459.7,282.8L461.1,281.6L459.0,281.4Z" fill="#ad2793" stroke="#ad2793"/>
<path d="M379.9,292.7L382.0,289.7L383.3,288.4L381.2,291.3Z" fill="#8808a6" stroke="#8808a6"/>
<path d="M394.0,274.4L396.1,274.3L397.4,272.3L395.4,272.1Z" fill="#d6556d" stroke="#d6556d"/>
<path d="M454.3,283.6L456.4,283.7L457.7,282.5L455.6,282.5Z" fill="#aa2395" stroke="#aa2395"/>
<path d="M438.8,284.2L440.8,284.9L442.1,285.1L440.1,285.0Z" fill="#a21d9a" stroke="#a21d9a"/>
<path d="M433.3,281.6L435.4,282.5L436.7,283.6L434.7,283.1Z" fill="#ab2494" stroke="#ab2494"/>
<path d="M412.9,269.7L415.0,270.8L416.3,270.7L414.3,269.2Z" fill="#e3685f" stroke="#e3685f"/>
<path d="M450.9,284.5L453.0,284.6L454.3,283.6L452.2,283.7Z" fill="#a62098" stroke="#a62098"/>
<path d="M404.1,269.6L406.2,270.0L407.5,268.8L405.5,268.2Z" fill="#e76e5b" stroke="#e76e5b"/>
<path d="M384.6,286.5L386.7,284.4L388.0,282.3L385.9,284.0Z" fill="#a51f99" stroke="#a51f99"/>
<path d="M397.4,272.3L399.4,272.5L400.8,270.7L398.7,270.4Z" fill="#de5f65" stroke="#de5f65"/>
<path d="M371.9,297.5L373.9,294.9L375.2,296.0L373.2,299.0Z" fill="#6700a8" stroke="#6700a8"/>
<path d="M342.7,283.1L344.7,284.3L346.1,284.2L344.0,282.7Z" fill="#a82296" stroke="#a82296"/>
<path d="M400.8,270.7L402.8,271.0L404.1,269.6L402.1,269.1Z" fill="#e4695e" stroke="#e4695e"/>
<path d="M447.6,285.2L449.6,285.4L450.9,284.5L448.9,284.6Z" fill="#a21d9a" stroke="#a21d9a"/>
<path d="M350.1,287.4L352.2,289.1L353.5,290.1L351.5,288.0Z" fill="#920fa3" stroke="#920fa3"/>
<path d="M389.3,279.9L391.4,278.9L392.7,276.7L390.7,277.2Z" fill="#bf3984" stroke="#bf3984"/>
<path d="M420.4,273.5L422.5,274.8L423.8,275.7L421.8,274.2Z" fill="#d14e72" stroke="#d14e72"/>
<path d="M368.5,297.7L370.5,295.7L371.9,297.5L369.8,299.9Z" fill="#6300a7" stroke="#6300a7"/>
<path d="M427.9,278.2L429.9,279.3L431.3,280.7L429.2,279.7Z" fill="#b83289" stroke="#b83289"/>
<path d="M444.2,285.4L446.2,285.9L447.6,285.2L445.5,285.2Z" fill="#a11b9b" stroke="#a11b9b"/>
<path d="M375.2,296.0L377.3,293.0L378.6,293.2L376.5,296.4Z" fill="#7501a8" stroke="#7501a8"/>
<path d="M409.6,269.5L411.6,270.2L412.9,269.7L410.9,268.7Z" fill="#e76e5b" stroke="#e76e5b"/>
<path d="M415.0,270.8L417.1,272.0L418.4,272.1L416.3,270.7Z" fill="#e06363" stroke="#e06363"/>
<path d="M359.7,294.3L361.7,294.6L363.1,297.0L361.0,296.7Z" fill="#7100a8" stroke="#7100a8"/>
<path d="M352.2,289.1L354.2,290.5L355.6,292.0L353.5,290.1Z" fill="#8b0aa5" stroke="#8b0aa5"/>
<path d="M392.7,276.7L394.8,276.3L396.1,274.3L394.0,274.4Z" fill="#ce4b75" stroke="#ce4b75"/>
<path d="M344.7,284.3L346.8,285.6L348.1,285.8L346.1,284.2Z" fill="#a31e9a" stroke="#a31e9a"/>
<path d="M435.4,282.5L437.4,283.6L438.8,284.2L436.7,283.6Z" fill="#aa2395" stroke="#aa2395"/>
<path d="M339.3,282.5L341.4,283.4L342.7,283.1L340.6,282.0Z" fill="#ad2793" stroke="#ad2793"/>
<path d="M365.1,296.5L367.2,295.4L368.5,297.7L366.4,299.1Z" fill="#6900a8" stroke="#6900a8"/>
<path d="M440.8,284.9L442.9,285.7L444.2,285.4L442.1,285.1Z" fill="#a31e9a" stroke="#a31e9a"/>
<path d="M383.3,288.4L385.4,286.1L386.7,284.4L384.6,286.5Z" fill="#9e199d" stroke="#9e199d"/>
<path d="M422.5,274.8L424.5,276.0L425.8,277.1L423.8,275.7Z" fill="#cc4977" stroke="#cc4977"/>
<path d="M388.0,282.3L390.1,281.0L391.4,278.9L389.3,279.9Z" fill="#b52f8c" stroke="#b52f8c"/>
<path d="M406.2,270.0L408.2,270.4L409.6,269.5L407.5,268.8Z" fill="#e76f5a" stroke="#e76f5a"/>
<path d="M456.4,283.7L458.4,284.0L459.7,282.8L457.7,282.5Z" fill="#ab2494" stroke="#ab2494"/>
<path d="M396.1,274.3L398.1,274.2L399.4,272.5L397.4,272.3Z" fill="#d9586a" stroke="#d9586a"/>
<path d="M453.0,284.6L455.0,285.0L456.4,283.7L454.3,283.6Z" fill="#a82296" stroke="#a82296"/>
<path d="M378.6,293.2L380.6,290.3L382.0,289.7L379.9,292.7Z" fill="#8808a6" stroke="#8808a6"/>
<path d="M402.8,271.0L404.9,271.2L406.2,270.0L404.1,269.6Z" fill="#e56a5d" stroke="#e56a5d"/>
<path d="M399.4,272.5L401.5,272.6L402.8,271.0L400.8,270.7Z" fill="#e06363" stroke="#e06363"/>
<path d="M429.9,279.3L432.0,280.4L433.3,281.6L431.3,280.7Z" fill="#b6308b" stroke="#b6308b"/>
<path d="M449.6,285.4L451.6,285.8L453.0,284.6L450.9,284.5Z" fill="#a51f99" stroke="#a51f99"/>
<path d="M354.2,290.5L356.3,291.6L357.6,293.4L355.6,292.0Z" fill="#8707a6" stroke="#8707a6"/>
<path d="M417.1,272.0L419.1,273.1L420.4,273.5L418.4,272.1Z" fill="#dc5d67" stroke="#dc5d67"/>
<path d="M346.8,285.6L348.8,287.0L350.1,287.4L348.1,285.8Z" fill="#a01a9c" stroke="#a01a9c"/>
<path d="M411.6,270.2L413.7,271.0L415.0,270.8L412.9,269.7Z" fill="#e56b5d" stroke="#e56b5d"/>
<path d="M446.2,285.9L448.3,286.5L449.6,285.4L447.6,285.2Z" fill="#a21d9a" stroke="#a21d9a"/>
<path d="M391.4,278.9L393.4,278.3L394.8,276.3L392.7,276.7Z" fill="#c7427c" stroke="#c7427c"/>
<path d="M341.4,283.4L343.4,284.5L344.7,284.3L342.7,283.1Z" fill="#ab2494" stroke="#ab2494"/>
<path d="M424.5,276.0L426.6,277.0L427.9,278.2L425.8,277.1Z" fill="#ca457a" stroke="#ca457a"/>
<path d="M437.4,283.6L439.5,284.8L440.8,284.9L438.8,284.2Z" fill="#a82296" stroke="#a82296"/>
<path d="M386.7,284.4L388.7,282.9L390.1,281.0L388.0,282.3Z" fill="#b02991" stroke="#b02991"/>
<path d="M442.9,285.7L444.9,286.6L446.2,285.9L444.2,285.4Z" fill="#a31e9a" stroke="#a31e9a"/>
<path d="M361.7,294.6L363.8,294.2L365.1,296.5L363.1,297.0Z" fill="#7501a8" stroke="#7501a8"/>
<path d="M394.8,276.3L396.8,276.0L398.1,274.2L396.1,274.3Z" fill="#d35171" stroke="#d35171"/>
<path d="M408.2,270.4L410.3,270.9L411.6,270.2L409.6,269.5Z" fill="#e76f5a" stroke="#e76f5a"/>
<path d="M432.0,280.4L434.1,281.6L435.4,282.5L433.3,281.6Z" fill="#b42e8d" stroke="#b42e8d"/>
<path d="M382.0,289.7L384.0,287.3L385.4,286.1L383.3,288.4Z" fill="#9a169f" stroke="#9a169f"/>
<path d="M348.8,287.0L350.9,288.3L352.2,289.1L350.1,287.4Z" fill="#9a169f" stroke="#9a169f"/>
<path d="M419.1,273.1L421.2,274.2L422.5,274.8L420.4,273.5Z" fill="#d9586a" stroke="#d9586a"/>
<path d="M356.3,291.6L358.3,292.3L359.7,294.3L357.6,293.4Z" fill="#8405a7" stroke="#8405a7"/>
<path d="M455.0,285.0L457.1,285.4L458.4,284.0L456.4,283.7Z" fill="#aa2395" stroke="#aa2395"/>
<path d="M398.1,274.2L400.2,274.1L401.5,272.6L399.4,272.5Z" fill="#db5c68" stroke="#db5c68"/>
<path d="M404.9,271.2L406.9,271.4L408.2,270.4L406.2,270.0Z" fill="#e66c5c" stroke="#e66c5c"/>
<path d="M370.5,295.7L372.6,293.6L373.9,294.9L371.9,297.5Z" fill="#7801a8" stroke="#7801a8"/>
<path d="M413.7,271.0L415.7,271.9L417.1,272.0L415.0,270.8Z" fill="#e4695e" stroke="#e4695e"/>
<path d="M401.5,272.6L403.6,272.6L404.9,271.2L402.8,271.0Z" fill="#e26561" stroke="#e26561"/>
<path d="M373.9,294.9L375.9,292.4L377.3,293.0L375.2,296.0Z" fill="#8004a8" stroke="#8004a8"/>
<path d="M451.6,285.8L453.7,286.3L455.0,285.0L453.0,284.6Z" fill="#a62098" stroke="#a62098"/>
<path d="M338.0,283.0L340.0,283.9L341.4,283.4L339.3,282.5Z" fill="#ae2892" stroke="#ae2892"/>
<path d="M343.4,284.5L345.4,285.6L346.8,285.6L344.7,284.3Z" fill="#a72197" stroke="#a72197"/>
<path d="M448.3,286.5L450.3,287.1L451.6,285.8L449.6,285.4Z" fill="#a31e9a" stroke="#a31e9a"/>
<path d="M426.6,277.0L428.6,278.2L429.9,279.3L427.9,278.2Z" fill="#c7427c" stroke="#c7427c"/>
<path d="M390.1,281.0L392.1,280.1L393.4,278.3L391.4,278.9Z" fill="#bf3984" stroke="#bf3984"/>
<path d="M439.5,284.8L441.5,286.1L442.9,285.7L440.8,284.9Z" fill="#a72197" stroke="#a72197"/>
<path d="M367.2,295.4L369.2,294.0L370.5,295.7L368.5,297.7Z" fill="#7801a8" stroke="#7801a8"/>
<path d="M377.3,293.0L379.3,290.5L380.6,290.3L378.6,293.2Z" fill="#8b0aa5" stroke="#8b0aa5"/>
<path d="M434.1,281.6L436.1,283.1L437.4,283.6L435.4,282.5Z" fill="#b22b8f" stroke="#b22b8f"/>
<path d="M350.9,288.3L352.9,289.4L354.2,290.5L352.2,289.1Z" fill="#9613a1" stroke="#9613a1"/>
<path d="M444.9,286.6L447.0,287.6L448.3,286.5L446.2,285.9Z" fill="#a21d9a" stroke="#a21d9a"/>
<path d="M385.4,286.1L387.4,284.4L388.7,282.9L386.7,284.4Z" fill="#ab2494" stroke="#ab2494"/>
<path d="M421.2,274.2L423.2,275.2L424.5,276.0L422.5,274.8Z" fill="#d6556d" stroke="#d6556d"/>
<path d="M393.4,278.3L395.5,277.8L396.8,276.0L394.8,276.3Z" fill="#cc4977" stroke="#cc4977"/>
<path d="M410.3,270.9L412.3,271.4L413.7,271.0L411.6,270.2Z" fill="#e76e5b" stroke="#e76e5b"/>
<path d="M415.7,271.9L417.8,272.8L419.1,273.1L417.1,272.0Z" fill="#e26561" stroke="#e26561"/>
<path d="M345.4,285.6L347.5,286.7L348.8,287.0L346.8,285.6Z" fill="#a51f99" stroke="#a51f99"/>
<path d="M358.3,292.3L360.4,292.6L361.7,294.6L359.7,294.3Z" fill="#8606a6" stroke="#8606a6"/>
<path d="M340.0,283.9L342.1,284.8L343.4,284.5L341.4,283.4Z" fill="#ad2793" stroke="#ad2793"/>
<path d="M396.8,276.0L398.9,275.8L400.2,274.1L398.1,274.2Z" fill="#d7566c" stroke="#d7566c"/>
<path d="M428.6,278.2L430.7,279.4L432.0,280.4L429.9,279.3Z" fill="#c33d80" stroke="#c33d80"/>
<path d="M441.5,286.1L443.6,287.4L444.9,286.6L442.9,285.7Z" fill="#a31e9a" stroke="#a31e9a"/>
<path d="M380.6,290.3L382.7,288.1L384.0,287.3L382.0,289.7Z" fill="#9a169f" stroke="#9a169f"/>
<path d="M406.9,271.4L409.0,271.6L410.3,270.9L408.2,270.4Z" fill="#e76f5a" stroke="#e76f5a"/>
<path d="M453.7,286.3L455.8,286.8L457.1,285.4L455.0,285.0Z" fill="#a62098" stroke="#a62098"/>
<path d="M363.8,294.2L365.8,293.5L367.2,295.4L365.1,296.5Z" fill="#7e03a8" stroke="#7e03a8"/>
<path d="M400.2,274.1L402.2,274.0L403.6,272.6L401.5,272.6Z" fill="#de6164" stroke="#de6164"/>
<path d="M388.7,282.9L390.8,281.8L392.1,280.1L390.1,281.0Z" fill="#b83289" stroke="#b83289"/>
<path d="M436.1,283.1L438.1,284.7L439.5,284.8L437.4,283.6Z" fill="#ae2892" stroke="#ae2892"/>
<path d="M403.6,272.6L405.6,272.5L406.9,271.4L404.9,271.2Z" fill="#e56a5d" stroke="#e56a5d"/>
<path d="M450.3,287.1L452.4,287.8L453.7,286.3L451.6,285.8Z" fill="#a31e9a" stroke="#a31e9a"/>
<path d="M352.9,289.4L355.0,290.3L356.3,291.6L354.2,290.5Z" fill="#9410a2" stroke="#9410a2"/>
<path d="M447.0,287.6L449.0,288.5L450.3,287.1L448.3,286.5Z" fill="#a11b9b" stroke="#a11b9b"/>
<path d="M423.2,275.2L425.2,276.2L426.6,277.0L424.5,276.0Z" fill="#d45270" stroke="#d45270"/>
<path d="M336.6,283.5L338.7,284.3L340.0,283.9L338.0,283.0Z" fill="#b02991" stroke="#b02991"/>
<path d="M412.3,271.4L414.4,272.0L415.7,271.9L413.7,271.0Z" fill="#e76e5b" stroke="#e76e5b"/>
<path d="M392.1,280.1L394.1,279.5L395.5,277.8L393.4,278.3Z" fill="#c7427c" stroke="#c7427c"/>
<path d="M347.5,286.7L349.6,287.7L350.9,288.3L348.8,287.0Z" fill="#a21d9a" stroke="#a21d9a"/>
<path d="M417.8,272.8L419.8,273.7L421.2,274.2L419.1,273.1Z" fill="#df6263" stroke="#df6263"/>
<path d="M384.0,287.3L386.1,285.6L387.4,284.4L385.4,286.1Z" fill="#a82296" stroke="#a82296"/>
<path d="M430.7,279.4L432.7,280.9L434.1,281.6L432.0,280.4Z" fill="#bf3984" stroke="#bf3984"/>
<path d="M342.1,284.8L344.1,285.7L345.4,285.6L343.4,284.5Z" fill="#ab2494" stroke="#ab2494"/>
<path d="M443.6,287.4L445.6,288.7L447.0,287.6L444.9,286.6Z" fill="#a11b9b" stroke="#a11b9b"/>
<path d="M438.1,284.7L440.2,286.5L441.5,286.1L439.5,284.8Z" fill="#aa2395" stroke="#aa2395"/>
<path d="M395.5,277.8L397.5,277.4L398.9,275.8L396.8,276.0Z" fill="#d24f71" stroke="#d24f71"/>
<path d="M372.6,293.6L374.6,291.8L375.9,292.4L373.9,294.9Z" fill="#8a09a5" stroke="#8a09a5"/>
<path d="M360.4,292.6L362.4,292.4L363.8,294.2L361.7,294.6Z" fill="#8808a6" stroke="#8808a6"/>
<path d="M409.0,271.6L411.0,271.9L412.3,271.4L410.3,270.9Z" fill="#e87059" stroke="#e87059"/>
<path d="M355.0,290.3L357.0,290.9L358.3,292.3L356.3,291.6Z" fill="#920fa3" stroke="#920fa3"/>
<path d="M375.9,292.4L378.0,290.4L379.3,290.5L377.3,293.0Z" fill="#910ea3" stroke="#910ea3"/>
<path d="M452.4,287.8L454.4,288.4L455.8,286.8L453.7,286.3Z" fill="#a31e9a" stroke="#a31e9a"/>
<path d="M369.2,294.0L371.2,292.5L372.6,293.6L370.5,295.7Z" fill="#8707a6" stroke="#8707a6"/>
<path d="M398.9,275.8L400.9,275.4L402.2,274.0L400.2,274.1Z" fill="#db5c68" stroke="#db5c68"/>
<path d="M425.2,276.2L427.3,277.3L428.6,278.2L426.6,277.0Z" fill="#d14e72" stroke="#d14e72"/>
<path d="M387.4,284.4L389.4,283.3L390.8,281.8L388.7,282.9Z" fill="#b42e8d" stroke="#b42e8d"/>
<path d="M449.0,288.5L451.1,289.3L452.4,287.8L450.3,287.1Z" fill="#a01a9c" stroke="#a01a9c"/>
<path d="M432.7,280.9L434.8,282.7L436.1,283.1L434.1,281.6Z" fill="#b83289" stroke="#b83289"/>
<path d="M405.6,272.5L407.6,272.5L409.0,271.6L406.9,271.4Z" fill="#e76e5b" stroke="#e76e5b"/>
<path d="M402.2,274.0L404.3,273.7L405.6,272.5L403.6,272.6Z" fill="#e26660" stroke="#e26660"/>
<path d="M338.7,284.3L340.8,285.2L342.1,284.8L340.0,283.9Z" fill="#ae2892" stroke="#ae2892"/>
<path d="M349.6,287.7L351.6,288.7L352.9,289.4L350.9,288.3Z" fill="#a01a9c" stroke="#a01a9c"/>
<path d="M440.2,286.5L442.2,288.2L443.6,287.4L441.5,286.1Z" fill="#a51f99" stroke="#a51f99"/>
<path d="M419.8,273.7L421.9,274.6L423.2,275.2L421.2,274.2Z" fill="#de5f65" stroke="#de5f65"/>
<path d="M414.4,272.0L416.4,272.7L417.8,272.8L415.7,271.9Z" fill="#e66c5c" stroke="#e66c5c"/>
<path d="M379.3,290.5L381.4,288.6L382.7,288.1L380.6,290.3Z" fill="#9c179e" stroke="#9c179e"/>
<path d="M344.1,285.7L346.2,286.7L347.5,286.7L345.4,285.6Z" fill="#a82296" stroke="#a82296"/>
<path d="M445.6,288.7L447.7,289.9L449.0,288.5L447.0,287.6Z" fill="#9e199d" stroke="#9e199d"/>
<path d="M390.8,281.8L392.8,281.1L394.1,279.5L392.1,280.1Z" fill="#c13b82" stroke="#c13b82"/>
<path d="M365.8,293.5L367.9,292.5L369.2,294.0L367.2,295.4Z" fill="#8808a6" stroke="#8808a6"/>
<path d="M434.8,282.7L436.8,284.7L438.1,284.7L436.1,283.1Z" fill="#b32c8e" stroke="#b32c8e"/>
<path d="M382.7,288.1L384.8,286.6L386.1,285.6L384.0,287.3Z" fill="#a72197" stroke="#a72197"/>
<path d="M427.3,277.3L429.4,278.7L430.7,279.4L428.6,278.2Z" fill="#cd4a76" stroke="#cd4a76"/>
<path d="M335.3,284.1L337.4,284.9L338.7,284.3L336.6,283.5Z" fill="#b12a90" stroke="#b12a90"/>
<path d="M394.1,279.5L396.2,279.1L397.5,277.4L395.5,277.8Z" fill="#cd4a76" stroke="#cd4a76"/>
<path d="M442.2,288.2L444.3,289.8L445.6,288.7L443.6,287.4Z" fill="#a11b9b" stroke="#a11b9b"/>
<path d="M411.0,271.9L413.1,272.2L414.4,272.0L412.3,271.4Z" fill="#e97158" stroke="#e97158"/>
<path d="M357.0,290.9L359.1,291.2L360.4,292.6L358.3,292.3Z" fill="#9410a2" stroke="#9410a2"/>
<path d="M451.1,289.3L453.1,290.0L454.4,288.4L452.4,287.8Z" fill="#a01a9c" stroke="#a01a9c"/>
<path d="M340.8,285.2L342.8,286.0L344.1,285.7L342.1,284.8Z" fill="#ad2793" stroke="#ad2793"/>
<path d="M351.6,288.7L353.7,289.4L355.0,290.3L352.9,289.4Z" fill="#9d189d" stroke="#9d189d"/>
<path d="M397.5,277.4L399.6,277.0L400.9,275.4L398.9,275.8Z" fill="#d7566c" stroke="#d7566c"/>
<path d="M421.9,274.6L423.9,275.6L425.2,276.2L423.2,275.2Z" fill="#dc5d67" stroke="#dc5d67"/>
<path d="M346.2,286.7L348.2,287.5L349.6,287.7L347.5,286.7Z" fill="#a72197" stroke="#a72197"/>
<path d="M386.1,285.6L388.1,284.5L389.4,283.3L387.4,284.4Z" fill="#b22b8f" stroke="#b22b8f"/>
<path d="M416.4,272.7L418.5,273.5L419.8,273.7L417.8,272.8Z" fill="#e56a5d" stroke="#e56a5d"/>
<path d="M436.8,284.7L438.9,286.8L440.2,286.5L438.1,284.7Z" fill="#ad2793" stroke="#ad2793"/>
<path d="M447.7,289.9L449.7,290.9L451.1,289.3L449.0,288.5Z" fill="#9d189d" stroke="#9d189d"/>
<path d="M362.4,292.4L364.5,292.1L365.8,293.5L363.8,294.2Z" fill="#8e0ca4" stroke="#8e0ca4"/>
<path d="M407.6,272.5L409.7,272.4L411.0,271.9L409.0,271.6Z" fill="#e97158" stroke="#e97158"/>
<path d="M400.9,275.4L403.0,275.0L404.3,273.7L402.2,274.0Z" fill="#df6263" stroke="#df6263"/>
<path d="M404.3,273.7L406.3,273.4L407.6,272.5L405.6,272.5Z" fill="#e66c5c" stroke="#e66c5c"/>
<path d="M429.4,278.7L431.4,280.3L432.7,280.9L430.7,279.4Z" fill="#c9447a" stroke="#c9447a"/>
<path d="M389.4,283.3L391.5,282.6L392.8,281.1L390.8,281.8Z" fill="#bd3786" stroke="#bd3786"/>
<path d="M444.3,289.8L446.3,291.2L447.7,289.9L445.6,288.7Z" fill="#9c179e" stroke="#9c179e"/>
<path d="M337.4,284.9L339.4,285.7L340.8,285.2L338.7,284.3Z" fill="#b12a90" stroke="#b12a90"/>
<path d="M438.9,286.8L440.9,288.9L442.2,288.2L440.2,286.5Z" fill="#a62098" stroke="#a62098"/>
<path d="M374.6,291.8L376.7,290.3L378.0,290.4L375.9,292.4Z" fill="#9814a0" stroke="#9814a0"/>
<path d="M371.2,292.5L373.3,291.2L374.6,291.8L372.6,293.6Z" fill="#9410a2" stroke="#9410a2"/>
<path d="M392.8,281.1L394.9,280.6L396.2,279.1L394.1,279.5Z" fill="#c8437b" stroke="#c8437b"/>
<path d="M378.0,290.4L380.1,288.9L381.4,288.6L379.3,290.5Z" fill="#9e199d" stroke="#9e199d"/>
<path d="M413.1,272.2L415.1,272.7L416.4,272.7L414.4,272.0Z" fill="#e97158" stroke="#e97158"/>
<path d="M423.9,275.6L426.0,276.7L427.3,277.3L425.2,276.2Z" fill="#da5a6a" stroke="#da5a6a"/>
<path d="M342.8,286.0L344.8,286.8L346.2,286.7L344.1,285.7Z" fill="#ac2694" stroke="#ac2694"/>
<path d="M431.4,280.3L433.4,282.3L434.8,282.7L432.7,280.9Z" fill="#c13b82" stroke="#c13b82"/>
<path d="M353.7,289.4L355.7,290.0L357.0,290.9L355.0,290.3Z" fill="#9d189d" stroke="#9d189d"/>
<path d="M348.2,287.5L350.3,288.4L351.6,288.7L349.6,287.7Z" fill="#a62098" stroke="#a62098"/>
<path d="M418.5,273.5L420.5,274.3L421.9,274.6L419.8,273.7Z" fill="#e4695e" stroke="#e4695e"/>
<path d="M449.7,290.9L451.8,291.6L453.1,290.0L451.1,289.3Z" fill="#9c179e" stroke="#9c179e"/>
<path d="M367.9,292.5L369.9,291.6L371.2,292.5L369.2,294.0Z" fill="#920fa3" stroke="#920fa3"/>
<path d="M359.1,291.2L361.1,291.3L362.4,292.4L360.4,292.6Z" fill="#9511a1" stroke="#9511a1"/>
<path d="M381.4,288.6L383.4,287.3L384.8,286.6L382.7,288.1Z" fill="#a72197" stroke="#a72197"/>
<path d="M396.2,279.1L398.2,278.5L399.6,277.0L397.5,277.4Z" fill="#d35171" stroke="#d35171"/>
<path d="M440.9,288.9L443.0,290.8L444.3,289.8L442.2,288.2Z" fill="#a01a9c" stroke="#a01a9c"/>
<path d="M334.0,284.8L336.1,285.5L337.4,284.9L335.3,284.1Z" fill="#b22b8f" stroke="#b22b8f"/>
<path d="M446.3,291.2L448.4,292.4L449.7,290.9L447.7,289.9Z" fill="#99159f" stroke="#99159f"/>
<path d="M384.8,286.6L386.8,285.6L388.1,284.5L386.1,285.6Z" fill="#b02991" stroke="#b02991"/>
<path d="M433.4,282.3L435.5,284.6L436.8,284.7L434.8,282.7Z" fill="#b7318a" stroke="#b7318a"/>
<path d="M409.7,272.4L411.8,272.5L413.1,272.2L411.0,271.9Z" fill="#eb7556" stroke="#eb7556"/>
<path d="M399.6,277.0L401.6,276.4L403.0,275.0L400.9,275.4Z" fill="#dd5e66" stroke="#dd5e66"/>
<path d="M339.4,285.7L341.5,286.4L342.8,286.0L340.8,285.2Z" fill="#b02991" stroke="#b02991"/>
<path d="M364.5,292.1L366.6,291.6L367.9,292.5L365.8,293.5Z" fill="#9511a1" stroke="#9511a1"/>
<path d="M403.0,275.0L405.0,274.5L406.3,273.4L404.3,273.7Z" fill="#e56a5d" stroke="#e56a5d"/>
<path d="M426.0,276.7L428.0,278.1L429.4,278.7L427.3,277.3Z" fill="#d6556d" stroke="#d6556d"/>
<path d="M406.3,273.4L408.4,273.1L409.7,272.4L407.6,272.5Z" fill="#e97158" stroke="#e97158"/>
<path d="M388.1,284.5L390.2,283.9L391.5,282.6L389.4,283.3Z" fill="#b83289" stroke="#b83289"/>
<path d="M443.0,290.8L445.0,292.4L446.3,291.2L444.3,289.8Z" fill="#9a169f" stroke="#9a169f"/>
<path d="M435.5,284.6L437.6,287.0L438.9,286.8L436.8,284.7Z" fill="#b02991" stroke="#b02991"/>
<path d="M344.8,286.8L346.9,287.6L348.2,287.5L346.2,286.7Z" fill="#ab2494" stroke="#ab2494"/>
<path d="M415.1,272.7L417.2,273.3L418.5,273.5L416.4,272.7Z" fill="#e97158" stroke="#e97158"/>
<path d="M350.3,288.4L352.3,289.0L353.7,289.4L351.6,288.7Z" fill="#a51f99" stroke="#a51f99"/>
<path d="M391.5,282.6L393.6,282.1L394.9,280.6L392.8,281.1Z" fill="#c43e7f" stroke="#c43e7f"/>
<path d="M420.5,274.3L422.6,275.2L423.9,275.6L421.9,274.6Z" fill="#e26660" stroke="#e26660"/>
<path d="M355.7,290.0L357.8,290.4L359.1,291.2L357.0,290.9Z" fill="#9d189d" stroke="#9d189d"/>
<path d="M336.1,285.5L338.1,286.2L339.4,285.7L337.4,284.9Z" fill="#b22b8f" stroke="#b22b8f"/>
<path d="M437.6,287.0L439.6,289.3L440.9,288.9L438.9,286.8Z" fill="#a82296" stroke="#a82296"/>
<path d="M448.4,292.4L450.4,293.2L451.8,291.6L449.7,290.9Z" fill="#9814a0" stroke="#9814a0"/>
<path d="M394.9,280.6L396.9,280.1L398.2,278.5L396.2,279.1Z" fill="#ce4b75" stroke="#ce4b75"/>
<path d="M428.0,278.1L430.1,279.8L431.4,280.3L429.4,278.7Z" fill="#d14e72" stroke="#d14e72"/>
<path d="M361.1,291.3L363.2,291.2L364.5,292.1L362.4,292.4Z" fill="#99159f" stroke="#99159f"/>
<path d="M445.0,292.4L447.1,293.7L448.4,292.4L446.3,291.2Z" fill="#9613a1" stroke="#9613a1"/>
<path d="M341.5,286.4L343.5,287.2L344.8,286.8L342.8,286.0Z" fill="#ae2892" stroke="#ae2892"/>
<path d="M376.7,290.3L378.7,289.2L380.1,288.9L378.0,290.4Z" fill="#a21d9a" stroke="#a21d9a"/>
<path d="M373.3,291.2L375.4,290.2L376.7,290.3L374.6,291.8Z" fill="#9e199d" stroke="#9e199d"/>
<path d="M411.8,272.5L413.8,272.8L415.1,272.7L413.1,272.2Z" fill="#eb7655" stroke="#eb7655"/>
<path d="M398.2,278.5L400.3,277.8L401.6,276.4L399.6,277.0Z" fill="#d9586a" stroke="#d9586a"/>
<path d="M380.1,288.9L382.1,288.0L383.4,287.3L381.4,288.6Z" fill="#a82296" stroke="#a82296"/>
<path d="M439.6,289.3L441.7,291.5L443.0,290.8L440.9,288.9Z" fill="#a11b9b" stroke="#a11b9b"/>
<path d="M346.9,287.6L348.9,288.4L350.3,288.4L348.2,287.5Z" fill="#aa2395" stroke="#aa2395"/>
<path d="M369.9,291.6L372.0,290.9L373.3,291.2L371.2,292.5Z" fill="#9c179e" stroke="#9c179e"/>
<path d="M383.4,287.3L385.5,286.6L386.8,285.6L384.8,286.6Z" fill="#b02991" stroke="#b02991"/>
<path d="M422.6,275.2L424.6,276.2L426.0,276.7L423.9,275.6Z" fill="#e06363" stroke="#e06363"/>
<path d="M430.1,279.8L432.1,281.9L433.4,282.3L431.4,280.3Z" fill="#ca457a" stroke="#ca457a"/>
<path d="M417.2,273.3L419.2,274.0L420.5,274.3L418.5,273.5Z" fill="#e87059" stroke="#e87059"/>
<path d="M401.6,276.4L403.7,275.6L405.0,274.5L403.0,275.0Z" fill="#e26660" stroke="#e26660"/>
<path d="M386.8,285.6L388.8,285.1L390.2,283.9L388.1,284.5Z" fill="#b6308b" stroke="#b6308b"/>
<path d="M352.3,289.0L354.4,289.6L355.7,290.0L353.7,289.4Z" fill="#a31e9a" stroke="#a31e9a"/>
<path d="M408.4,273.1L410.4,273.0L411.8,272.5L409.7,272.4Z" fill="#ec7754" stroke="#ec7754"/>
<path d="M405.0,274.5L407.1,273.9L408.4,273.1L406.3,273.4Z" fill="#e97158" stroke="#e97158"/>
<path d="M338.1,286.2L340.1,286.9L341.5,286.4L339.4,285.7Z" fill="#b12a90" stroke="#b12a90"/>
<path d="M390.2,283.9L392.2,283.5L393.6,282.1L391.5,282.6Z" fill="#c03a83" stroke="#c03a83"/>
<path d="M441.7,291.5L443.7,293.4L445.0,292.4L443.0,290.8Z" fill="#99159f" stroke="#99159f"/>
<path d="M366.6,291.6L368.6,291.2L369.9,291.6L367.9,292.5Z" fill="#9c179e" stroke="#9c179e"/>
<path d="M357.8,290.4L359.8,290.7L361.1,291.3L359.1,291.2Z" fill="#a01a9c" stroke="#a01a9c"/>
<path d="M432.1,281.9L434.2,284.3L435.5,284.6L433.4,282.3Z" fill="#bf3984" stroke="#bf3984"/>
<path d="M447.1,293.7L449.1,294.7L450.4,293.2L448.4,292.4Z" fill="#9410a2" stroke="#9410a2"/>
<path d="M393.6,282.1L395.6,281.6L396.9,280.1L394.9,280.6Z" fill="#cb4679" stroke="#cb4679"/>
<path d="M343.5,287.2L345.6,287.9L346.9,287.6L344.8,286.8Z" fill="#ad2793" stroke="#ad2793"/>
<path d="M434.2,284.3L436.2,286.9L437.6,287.0L435.5,284.6Z" fill="#b42e8d" stroke="#b42e8d"/>
<path d="M424.6,276.2L426.7,277.5L428.0,278.1L426.0,276.7Z" fill="#dd5e66" stroke="#dd5e66"/>
<path d="M413.8,272.8L415.9,273.2L417.2,273.3L415.1,272.7Z" fill="#ec7754" stroke="#ec7754"/>
<path d="M348.9,288.4L351.0,289.0L352.3,289.0L350.3,288.4Z" fill="#aa2395" stroke="#aa2395"/>
<path d="M363.2,291.2L365.2,291.1L366.6,291.6L364.5,292.1Z" fill="#9e199d" stroke="#9e199d"/>
<path d="M396.9,280.1L399.0,279.3L400.3,277.8L398.2,278.5Z" fill="#d5546e" stroke="#d5546e"/>
<path d="M443.7,293.4L445.8,294.9L447.1,293.7L445.0,292.4Z" fill="#9410a2" stroke="#9410a2"/>
<path d="M419.2,274.0L421.3,274.8L422.6,275.2L420.5,274.3Z" fill="#e76f5a" stroke="#e76f5a"/>
<path d="M436.2,286.9L438.3,289.5L439.6,289.3L437.6,287.0Z" fill="#ab2494" stroke="#ab2494"/>
<path d="M354.4,289.6L356.4,290.1L357.8,290.4L355.7,290.0Z" fill="#a51f99" stroke="#a51f99"/>
<path d="M340.1,286.9L342.2,287.6L343.5,287.2L341.5,286.4Z" fill="#b12a90" stroke="#b12a90"/>
<path d="M400.3,277.8L402.3,276.9L403.7,275.6L401.6,276.4Z" fill="#e06363" stroke="#e06363"/>
<path d="M378.7,289.2L380.8,288.6L382.1,288.0L380.1,288.9Z" fill="#ab2494" stroke="#ab2494"/>
<path d="M438.3,289.5L440.3,291.9L441.7,291.5L439.6,289.3Z" fill="#a21d9a" stroke="#a21d9a"/>
<path d="M382.1,288.0L384.1,287.5L385.5,286.6L383.4,287.3Z" fill="#b02991" stroke="#b02991"/>
<path d="M410.4,273.0L412.5,273.0L413.8,272.8L411.8,272.5Z" fill="#ee7b51" stroke="#ee7b51"/>
<path d="M375.4,290.2L377.4,289.6L378.7,289.2L376.7,290.3Z" fill="#a62098" stroke="#a62098"/>
<path d="M385.5,286.6L387.5,286.3L388.8,285.1L386.8,285.6Z" fill="#b52f8c" stroke="#b52f8c"/>
<path d="M426.7,277.5L428.8,279.2L430.1,279.8L428.0,278.1Z" fill="#d8576b" stroke="#d8576b"/>
<path d="M388.8,285.1L390.9,284.9L392.2,283.5L390.2,283.9Z" fill="#bd3786" stroke="#bd3786"/>
<path d="M372.0,290.9L374.0,290.3L375.4,290.2L373.3,291.2Z" fill="#a31e9a" stroke="#a31e9a"/>
<path d="M359.8,290.7L361.9,290.9L363.2,291.2L361.1,291.3Z" fill="#a11b9b" stroke="#a11b9b"/>
<path d="M403.7,275.6L405.7,274.8L407.1,273.9L405.0,274.5Z" fill="#e87059" stroke="#e87059"/>
<path d="M345.6,287.9L347.6,288.6L348.9,288.4L346.9,287.6Z" fill="#ad2793" stroke="#ad2793"/>
<path d="M407.1,273.9L409.1,273.5L410.4,273.0L408.4,273.1Z" fill="#ed7953" stroke="#ed7953"/>
<path d="M392.2,283.5L394.3,283.1L395.6,281.6L393.6,282.1Z" fill="#c6417d" stroke="#c6417d"/>
<path d="M445.8,294.9L447.8,295.9L449.1,294.7L447.1,293.7Z" fill="#910ea3" stroke="#910ea3"/>
<path d="M440.3,291.9L442.4,294.0L443.7,293.4L441.7,291.5Z" fill="#9a169f" stroke="#9a169f"/>
<path d="M415.9,273.2L417.9,273.8L419.2,274.0L417.2,273.3Z" fill="#ec7754" stroke="#ec7754"/>
<path d="M368.6,291.2L370.6,290.8L372.0,290.9L369.9,291.6Z" fill="#a21d9a" stroke="#a21d9a"/>
<path d="M421.3,274.8L423.3,275.8L424.6,276.2L422.6,275.2Z" fill="#e66c5c" stroke="#e66c5c"/>
<path d="M351.0,289.0L353.0,289.6L354.4,289.6L352.3,289.0Z" fill="#a82296" stroke="#a82296"/>
<path d="M428.8,279.2L430.8,281.3L432.1,281.9L430.1,279.8Z" fill="#d14e72" stroke="#d14e72"/>
<path d="M395.6,281.6L397.7,280.9L399.0,279.3L396.9,280.1Z" fill="#d14e72" stroke="#d14e72"/>
<path d="M342.2,287.6L344.2,288.3L345.6,287.9L343.5,287.2Z" fill="#b02991" stroke="#b02991"/>
<path d="M365.2,291.1L367.3,291.0L368.6,291.2L366.6,291.6Z" fill="#a21d9a" stroke="#a21d9a"/>
<path d="M356.4,290.1L358.5,290.5L359.8,290.7L357.8,290.4Z" fill="#a62098" stroke="#a62098"/>
<path d="M442.4,294.0L444.4,295.7L445.8,294.9L443.7,293.4Z" fill="#9410a2" stroke="#9410a2"/>
<path d="M430.8,281.3L432.8,283.7L434.2,284.3L432.1,281.9Z" fill="#c8437b" stroke="#c8437b"/>
<path d="M399.0,279.3L401.0,278.3L402.3,276.9L400.3,277.8Z" fill="#dd5e66" stroke="#dd5e66"/>
<path d="M412.5,273.0L414.5,273.2L415.9,273.2L413.8,272.8Z" fill="#ef7e50" stroke="#ef7e50"/>
<path d="M347.6,288.6L349.7,289.2L351.0,289.0L348.9,288.4Z" fill="#ac2694" stroke="#ac2694"/>
<path d="M432.8,283.7L434.9,286.5L436.2,286.9L434.2,284.3Z" fill="#bb3488" stroke="#bb3488"/>
<path d="M423.3,275.8L425.4,277.0L426.7,277.5L424.6,276.2Z" fill="#e3685f" stroke="#e3685f"/>
<path d="M384.1,287.5L386.2,287.3L387.5,286.3L385.5,286.6Z" fill="#b42e8d" stroke="#b42e8d"/>
<path d="M387.5,286.3L389.6,286.1L390.9,284.9L388.8,285.1Z" fill="#ba3388" stroke="#ba3388"/>
<path d="M380.8,288.6L382.8,288.3L384.1,287.5L382.1,288.0Z" fill="#b02991" stroke="#b02991"/>
<path d="M417.9,273.8L419.9,274.5L421.3,274.8L419.2,274.0Z" fill="#ec7754" stroke="#ec7754"/>
<path d="M361.9,290.9L363.9,291.0L365.2,291.1L363.2,291.2Z" fill="#a51f99" stroke="#a51f99"/>
<path d="M434.9,286.5L436.9,289.3L438.3,289.5L436.2,286.9Z" fill="#b02991" stroke="#b02991"/>
<path d="M377.4,289.6L379.5,289.3L380.8,288.6L378.7,289.2Z" fill="#ac2694" stroke="#ac2694"/>
<path d="M402.3,276.9L404.4,275.9L405.7,274.8L403.7,275.6Z" fill="#e76e5b" stroke="#e76e5b"/>
<path d="M390.9,284.9L392.9,284.5L394.3,283.1L392.2,283.5Z" fill="#c33d80" stroke="#c33d80"/>
<path d="M353.0,289.6L355.1,290.2L356.4,290.1L354.4,289.6Z" fill="#aa2395" stroke="#aa2395"/>
<path d="M409.1,273.5L411.2,273.2L412.5,273.0L410.4,273.0Z" fill="#f07f4f" stroke="#f07f4f"/>
<path d="M374.0,290.3L376.1,290.0L377.4,289.6L375.4,290.2Z" fill="#a82296" stroke="#a82296"/>
<path d="M436.9,289.3L439.0,291.9L440.3,291.9L438.3,289.5Z" fill="#a62098" stroke="#a62098"/>
<path d="M444.4,295.7L446.5,296.9L447.8,295.9L445.8,294.9Z" fill="#8f0da4" stroke="#8f0da4"/>
<path d="M405.7,274.8L407.8,274.1L409.1,273.5L407.1,273.9Z" fill="#ed7a52" stroke="#ed7a52"/>
<path d="M394.3,283.1L396.3,282.4L397.7,280.9L395.6,281.6Z" fill="#cd4a76" stroke="#cd4a76"/>
<path d="M344.2,288.3L346.3,289.0L347.6,288.6L345.6,287.9Z" fill="#b02991" stroke="#b02991"/>
<path d="M370.6,290.8L372.7,290.6L374.0,290.3L372.0,290.9Z" fill="#a72197" stroke="#a72197"/>
<path d="M439.0,291.9L441.0,294.3L442.4,294.0L440.3,291.9Z" fill="#9d189d" stroke="#9d189d"/>
<path d="M425.4,277.0L427.4,278.6L428.8,279.2L426.7,277.5Z" fill="#df6263" stroke="#df6263"/>
<path d="M358.5,290.5L360.5,290.8L361.9,290.9L359.8,290.7Z" fill="#a72197" stroke="#a72197"/>
<path d="M367.3,291.0L369.3,291.0L370.6,290.8L368.6,291.2Z" fill="#a62098" stroke="#a62098"/>
<path d="M349.7,289.2L351.7,289.9L353.0,289.6L351.0,289.0Z" fill="#ac2694" stroke="#ac2694"/>
<path d="M414.5,273.2L416.6,273.6L417.9,273.8L415.9,273.2Z" fill="#f07f4f" stroke="#f07f4f"/>
<path d="M397.7,280.9L399.7,279.8L401.0,278.3L399.0,279.3Z" fill="#da5a6a" stroke="#da5a6a"/>
<path d="M419.9,274.5L422.0,275.4L423.3,275.8L421.3,274.8Z" fill="#eb7556" stroke="#eb7556"/>
<path d="M441.0,294.3L443.1,296.2L444.4,295.7L442.4,294.0Z" fill="#9511a1" stroke="#9511a1"/>
<path d="M427.4,278.6L429.5,280.5L430.8,281.3L428.8,279.2Z" fill="#d9586a" stroke="#d9586a"/>
<path d="M355.1,290.2L357.1,290.6L358.5,290.5L356.4,290.1Z" fill="#aa2395" stroke="#aa2395"/>
<path d="M363.9,291.0L365.9,291.2L367.3,291.0L365.2,291.1Z" fill="#a72197" stroke="#a72197"/>
<path d="M386.2,287.3L388.2,287.3L389.6,286.1L387.5,286.3Z" fill="#b7318a" stroke="#b7318a"/>
<path d="M389.6,286.1L391.6,285.9L392.9,284.5L390.9,284.9Z" fill="#bf3984" stroke="#bf3984"/>
<path d="M382.8,288.3L384.9,288.3L386.2,287.3L384.1,287.5Z" fill="#b32c8e" stroke="#b32c8e"/>
<path d="M401.0,278.3L403.1,277.1L404.4,275.9L402.3,276.9Z" fill="#e56a5d" stroke="#e56a5d"/>
<path d="M346.3,289.0L348.4,289.6L349.7,289.2L347.6,288.6Z" fill="#ae2892" stroke="#ae2892"/>
<path d="M411.2,273.2L413.2,273.2L414.5,273.2L412.5,273.0Z" fill="#f2844b" stroke="#f2844b"/>
<path d="M379.5,289.3L381.5,289.2L382.8,288.3L380.8,288.6Z" fill="#b02991" stroke="#b02991"/>
<path d="M429.5,280.5L431.5,283.0L432.8,283.7L430.8,281.3Z" fill="#d04d73" stroke="#d04d73"/>
<path d="M392.9,284.5L395.0,284.0L396.3,282.4L394.3,283.1Z" fill="#c9447a" stroke="#c9447a"/>
<path d="M376.1,290.0L378.1,289.9L379.5,289.3L377.4,289.6Z" fill="#ad2793" stroke="#ad2793"/>
<path d="M404.4,275.9L406.4,274.9L407.8,274.1L405.7,274.8Z" fill="#ed7a52" stroke="#ed7a52"/>
<path d="M443.1,296.2L445.1,297.6L446.5,296.9L444.4,295.7Z" fill="#8f0da4" stroke="#8f0da4"/>
<path d="M407.8,274.1L409.8,273.5L411.2,273.2L409.1,273.5Z" fill="#f1814d" stroke="#f1814d"/>
<path d="M360.5,290.8L362.6,291.2L363.9,291.0L361.9,290.9Z" fill="#a82296" stroke="#a82296"/>
<path d="M431.5,283.0L433.6,285.7L434.9,286.5L432.8,283.7Z" fill="#c43e7f" stroke="#c43e7f"/>
<path d="M372.7,290.6L374.8,290.6L376.1,290.0L374.0,290.3Z" fill="#ab2494" stroke="#ab2494"/>
<path d="M422.0,275.4L424.1,276.4L425.4,277.0L423.3,275.8Z" fill="#e97158" stroke="#e97158"/>
<path d="M351.7,289.9L353.8,290.4L355.1,290.2L353.0,289.6Z" fill="#ac2694" stroke="#ac2694"/>
<path d="M416.6,273.6L418.6,274.2L419.9,274.5L417.9,273.8Z" fill="#f07f4f" stroke="#f07f4f"/>
<path d="M433.6,285.7L435.6,288.6L436.9,289.3L434.9,286.5Z" fill="#b52f8c" stroke="#b52f8c"/>
<path d="M396.3,282.4L398.4,281.4L399.7,279.8L397.7,280.9Z" fill="#d5546e" stroke="#d5546e"/>
<path d="M435.6,288.6L437.7,291.5L439.0,291.9L436.9,289.3Z" fill="#ab2494" stroke="#ab2494"/>
<path d="M369.3,291.0L371.4,291.0L372.7,290.6L370.6,290.8Z" fill="#aa2395" stroke="#aa2395"/>
<path d="M357.1,290.6L359.2,291.1L360.5,290.8L358.5,290.5Z" fill="#ab2494" stroke="#ab2494"/>
<path d="M437.7,291.5L439.7,294.2L441.0,294.3L439.0,291.9Z" fill="#a11b9b" stroke="#a11b9b"/>
<path d="M348.4,289.6L350.4,290.3L351.7,289.9L349.7,289.2Z" fill="#ae2892" stroke="#ae2892"/>
<path d="M365.9,291.2L368.0,291.3L369.3,291.0L367.3,291.0Z" fill="#aa2395" stroke="#aa2395"/>
<path d="M399.7,279.8L401.8,278.5L403.1,277.1L401.0,278.3Z" fill="#e26660" stroke="#e26660"/>
<path d="M424.1,276.4L426.1,277.8L427.4,278.6L425.4,277.0Z" fill="#e66c5c" stroke="#e66c5c"/>
<path d="M388.2,287.3L390.3,287.2L391.6,285.9L389.6,286.1Z" fill="#bd3786" stroke="#bd3786"/>
<path d="M413.2,273.2L415.2,273.4L416.6,273.6L414.5,273.2Z" fill="#f3874a" stroke="#f3874a"/>
<path d="M384.9,288.3L386.9,288.4L388.2,287.3L386.2,287.3Z" fill="#b6308b" stroke="#b6308b"/>
<path d="M439.7,294.2L441.8,296.3L443.1,296.2L441.0,294.3Z" fill="#9814a0" stroke="#9814a0"/>
<path d="M391.6,285.9L393.7,285.5L395.0,284.0L392.9,284.5Z" fill="#c5407e" stroke="#c5407e"/>
<path d="M381.5,289.2L383.6,289.2L384.9,288.3L382.8,288.3Z" fill="#b32c8e" stroke="#b32c8e"/>
<path d="M418.6,274.2L420.7,274.9L422.0,275.4L419.9,274.5Z" fill="#ef7e50" stroke="#ef7e50"/>
<path d="M378.1,289.9L380.2,290.0L381.5,289.2L379.5,289.3Z" fill="#b12a90" stroke="#b12a90"/>
<path d="M353.8,290.4L355.8,291.0L357.1,290.6L355.1,290.2Z" fill="#ac2694" stroke="#ac2694"/>
<path d="M362.6,291.2L364.6,291.5L365.9,291.2L363.9,291.0Z" fill="#aa2395" stroke="#aa2395"/>
<path d="M403.1,277.1L405.1,275.8L406.4,274.9L404.4,275.9Z" fill="#ec7754" stroke="#ec7754"/>
<path d="M374.8,290.6L376.8,290.6L378.1,289.9L376.1,290.0Z" fill="#ae2892" stroke="#ae2892"/>
<path d="M395.0,284.0L397.0,283.0L398.4,281.4L396.3,282.4Z" fill="#d14e72" stroke="#d14e72"/>
<path d="M409.8,273.5L411.9,273.2L413.2,273.2L411.2,273.2Z" fill="#f48849" stroke="#f48849"/>
<path d="M426.1,277.8L428.1,279.7L429.5,280.5L427.4,278.6Z" fill="#e16462" stroke="#e16462"/>
<path d="M406.4,274.9L408.5,274.0L409.8,273.5L407.8,274.1Z" fill="#f2844b" stroke="#f2844b"/>
<path d="M441.8,296.3L443.8,297.9L445.1,297.6L443.1,296.2Z" fill="#920fa3" stroke="#920fa3"/>
<path d="M371.4,291.0L373.4,291.2L374.8,290.6L372.7,290.6Z" fill="#ac2694" stroke="#ac2694"/>
<path d="M359.2,291.1L361.2,291.5L362.6,291.2L360.5,290.8Z" fill="#ac2694" stroke="#ac2694"/>
<path d="M350.4,290.3L352.4,290.8L353.8,290.4L351.7,289.9Z" fill="#ae2892" stroke="#ae2892"/>
<path d="M428.1,279.7L430.2,282.0L431.5,283.0L429.5,280.5Z" fill="#d9586a" stroke="#d9586a"/>
<path d="M415.2,273.4L417.3,273.9L418.6,274.2L416.6,273.6Z" fill="#f3874a" stroke="#f3874a"/>
<path d="M368.0,291.3L370.1,291.5L371.4,291.0L369.3,291.0Z" fill="#ac2694" stroke="#ac2694"/>
<path d="M398.4,281.4L400.4,280.0L401.8,278.5L399.7,279.8Z" fill="#de6164" stroke="#de6164"/>
<path d="M420.7,274.9L422.7,275.8L424.1,276.4L422.0,275.4Z" fill="#ef7c51" stroke="#ef7c51"/>
<path d="M386.9,288.4L389.0,288.4L390.3,287.2L388.2,287.3Z" fill="#ba3388" stroke="#ba3388"/>
<path d="M430.2,282.0L432.2,284.7L433.6,285.7L431.5,283.0Z" fill="#ce4b75" stroke="#ce4b75"/>
<path d="M390.3,287.2L392.4,286.9L393.7,285.5L391.6,285.9Z" fill="#c23c81" stroke="#c23c81"/>
<path d="M383.6,289.2L385.6,289.4L386.9,288.4L384.9,288.3Z" fill="#b52f8c" stroke="#b52f8c"/>
<path d="M355.8,291.0L357.9,291.5L359.2,291.1L357.1,290.6Z" fill="#ad2793" stroke="#ad2793"/>
<path d="M432.2,284.7L434.3,287.7L435.6,288.6L433.6,285.7Z" fill="#c03a83" stroke="#c03a83"/>
<path d="M364.6,291.5L366.7,291.8L368.0,291.3L365.9,291.2Z" fill="#ac2694" stroke="#ac2694"/>
<path d="M380.2,290.0L382.2,290.2L383.6,289.2L381.5,289.2Z" fill="#b32c8e" stroke="#b32c8e"/>
<path d="M434.3,287.7L436.4,290.7L437.7,291.5L435.6,288.6Z" fill="#b22b8f" stroke="#b22b8f"/>
<path d="M393.7,285.5L395.7,284.7L397.0,283.0L395.0,284.0Z" fill="#cc4977" stroke="#cc4977"/>
<path d="M436.4,290.7L438.4,293.6L439.7,294.2L437.7,291.5Z" fill="#a72197" stroke="#a72197"/>
<path d="M376.8,290.6L378.8,290.8L380.2,290.0L378.1,289.9Z" fill="#b12a90" stroke="#b12a90"/>
<path d="M401.8,278.5L403.8,277.0L405.1,275.8L403.1,277.1Z" fill="#eb7556" stroke="#eb7556"/>
<path d="M411.9,273.2L413.9,273.2L415.2,273.4L413.2,273.2Z" fill="#f68d45" stroke="#f68d45"/>
<path d="M352.4,290.8L354.5,291.4L355.8,291.0L353.8,290.4Z" fill="#ae2892" stroke="#ae2892"/>
<path d="M438.4,293.6L440.4,296.0L441.8,296.3L439.7,294.2Z" fill="#9e199d" stroke="#9e199d"/>
<path d="M361.2,291.5L363.3,291.9L364.6,291.5L362.6,291.2Z" fill="#ac2694" stroke="#ac2694"/>
<path d="M422.7,275.8L424.8,277.0L426.1,277.8L424.1,276.4Z" fill="#ec7754" stroke="#ec7754"/>
<path d="M373.4,291.2L375.5,291.4L376.8,290.6L374.8,290.6Z" fill="#ae2892" stroke="#ae2892"/>
<path d="M417.3,273.9L419.4,274.5L420.7,274.9L418.6,274.2Z" fill="#f3874a" stroke="#f3874a"/>
<path d="M405.1,275.8L407.2,274.6L408.5,274.0L406.4,274.9Z" fill="#f3854b" stroke="#f3854b"/>
<path d="M408.5,274.0L410.6,273.4L411.9,273.2L409.8,273.5Z" fill="#f58c46" stroke="#f58c46"/>
<path d="M397.0,283.0L399.1,281.6L400.4,280.0L398.4,281.4Z" fill="#da5b69" stroke="#da5b69"/>
<path d="M370.1,291.5L372.1,291.8L373.4,291.2L371.4,291.0Z" fill="#ad2793" stroke="#ad2793"/>
<path d="M440.4,296.0L442.5,297.8L443.8,297.9L441.8,296.3Z" fill="#9613a1" stroke="#9613a1"/>
<path d="M357.9,291.5L359.9,291.9L361.2,291.5L359.2,291.1Z" fill="#ad2793" stroke="#ad2793"/>
<path d="M389.0,288.4L391.0,288.3L392.4,286.9L390.3,287.2Z" fill="#be3885" stroke="#be3885"/>
<path d="M385.6,289.4L387.7,289.5L389.0,288.4L386.9,288.4Z" fill="#b7318a" stroke="#b7318a"/>
<path d="M424.8,277.0L426.8,278.7L428.1,279.7L426.1,277.8Z" fill="#e97158" stroke="#e97158"/>
<path d="M366.7,291.8L368.7,292.1L370.1,291.5L368.0,291.3Z" fill="#ad2793" stroke="#ad2793"/>
<path d="M382.2,290.2L384.3,290.4L385.6,289.4L383.6,289.2Z" fill="#b42e8d" stroke="#b42e8d"/>
<path d="M392.4,286.9L394.4,286.3L395.7,284.7L393.7,285.5Z" fill="#c9447a" stroke="#c9447a"/>
<path d="M378.8,290.8L380.9,291.0L382.2,290.2L380.2,290.0Z" fill="#b22b8f" stroke="#b22b8f"/>
<path d="M413.9,273.2L416.0,273.5L417.3,273.9L415.2,273.4Z" fill="#f68f44" stroke="#f68f44"/>
<path d="M354.5,291.4L356.6,291.9L357.9,291.5L355.8,291.0Z" fill="#ae2892" stroke="#ae2892"/>
<path d="M400.4,280.0L402.5,278.3L403.8,277.0L401.8,278.5Z" fill="#e97158" stroke="#e97158"/>
<path d="M363.3,291.9L365.3,292.3L366.7,291.8L364.6,291.5Z" fill="#ad2793" stroke="#ad2793"/>
<path d="M419.4,274.5L421.4,275.2L422.7,275.8L420.7,274.9Z" fill="#f3874a" stroke="#f3874a"/>
<path d="M426.8,278.7L428.9,280.8L430.2,282.0L428.1,279.7Z" fill="#e26660" stroke="#e26660"/>
<path d="M375.5,291.4L377.5,291.6L378.8,290.8L376.8,290.6Z" fill="#b12a90" stroke="#b12a90"/>
<path d="M395.7,284.7L397.8,283.4L399.1,281.6L397.0,283.0Z" fill="#d6556d" stroke="#d6556d"/>
<path d="M428.9,280.8L430.9,283.4L432.2,284.7L430.2,282.0Z" fill="#d9586a" stroke="#d9586a"/>
<path d="M372.1,291.8L374.2,292.1L375.5,291.4L373.4,291.2Z" fill="#b02991" stroke="#b02991"/>
<path d="M359.9,291.9L362.0,292.4L363.3,291.9L361.2,291.5Z" fill="#ae2892" stroke="#ae2892"/>
<path d="M410.6,273.4L412.6,273.1L413.9,273.2L411.9,273.2Z" fill="#f79342" stroke="#f79342"/>
<path d="M403.8,277.0L405.9,275.5L407.2,274.6L405.1,275.8Z" fill="#f2844b" stroke="#f2844b"/>
<path d="M430.9,283.4L433.0,286.3L434.3,287.7L432.2,284.7Z" fill="#cc4977" stroke="#cc4977"/>
<path d="M433.0,286.3L435.0,289.5L436.4,290.7L434.3,287.7Z" fill="#bd3786" stroke="#bd3786"/>
<path d="M407.2,274.6L409.2,273.7L410.6,273.4L408.5,274.0Z" fill="#f79044" stroke="#f79044"/>
<path d="M435.0,289.5L437.1,292.5L438.4,293.6L436.4,290.7Z" fill="#b02991" stroke="#b02991"/>
<path d="M368.7,292.1L370.8,292.4L372.1,291.8L370.1,291.5Z" fill="#ae2892" stroke="#ae2892"/>
<path d="M387.7,289.5L389.7,289.5L391.0,288.3L389.0,288.4Z" fill="#bc3587" stroke="#bc3587"/>
<path d="M384.3,290.4L386.3,290.6L387.7,289.5L385.6,289.4Z" fill="#b6308b" stroke="#b6308b"/>
<path d="M437.1,292.5L439.1,295.2L440.4,296.0L438.4,293.6Z" fill="#a51f99" stroke="#a51f99"/>
<path d="M391.0,288.3L393.1,287.8L394.4,286.3L392.4,286.9Z" fill="#c43e7f" stroke="#c43e7f"/>
<path d="M421.4,275.2L423.5,276.2L424.8,277.0L422.7,275.8Z" fill="#f2844b" stroke="#f2844b"/>
<path d="M356.6,291.9L358.6,292.5L359.9,291.9L357.9,291.5Z" fill="#b02991" stroke="#b02991"/>
<path d="M416.0,273.5L418.0,274.0L419.4,274.5L417.3,273.9Z" fill="#f79044" stroke="#f79044"/>
<path d="M380.9,291.0L382.9,291.3L384.3,290.4L382.2,290.2Z" fill="#b42e8d" stroke="#b42e8d"/>
<path d="M399.1,281.6L401.1,279.9L402.5,278.3L400.4,280.0Z" fill="#e56b5d" stroke="#e56b5d"/>
<path d="M365.3,292.3L367.4,292.7L368.7,292.1L366.7,291.8Z" fill="#ae2892" stroke="#ae2892"/>
<path d="M439.1,295.2L441.2,297.4L442.5,297.8L440.4,296.0Z" fill="#9d189d" stroke="#9d189d"/>
<path d="M377.5,291.6L379.6,291.9L380.9,291.0L378.8,290.8Z" fill="#b22b8f" stroke="#b22b8f"/>
<path d="M394.4,286.3L396.4,285.1L397.8,283.4L395.7,284.7Z" fill="#d14e72" stroke="#d14e72"/>
<path d="M362.0,292.4L364.0,292.8L365.3,292.3L363.3,291.9Z" fill="#b02991" stroke="#b02991"/>
<path d="M374.2,292.1L376.2,292.4L377.5,291.6L375.5,291.4Z" fill="#b12a90" stroke="#b12a90"/>
<path d="M423.5,276.2L425.5,277.6L426.8,278.7L424.8,277.0Z" fill="#ef7e50" stroke="#ef7e50"/>
<path d="M412.6,273.1L414.6,273.2L416.0,273.5L413.9,273.2Z" fill="#f9973f" stroke="#f9973f"/>
<path d="M402.5,278.3L404.5,276.6L405.9,275.5L403.8,277.0Z" fill="#f1814d" stroke="#f1814d"/>
<path d="M370.8,292.4L372.8,292.8L374.2,292.1L372.1,291.8Z" fill="#b02991" stroke="#b02991"/>
<path d="M418.0,274.0L420.1,274.6L421.4,275.2L419.4,274.5Z" fill="#f79044" stroke="#f79044"/>
<path d="M358.6,292.5L360.6,292.9L362.0,292.4L359.9,291.9Z" fill="#b02991" stroke="#b02991"/>
<path d="M386.3,290.6L388.4,290.7L389.7,289.5L387.7,289.5Z" fill="#ba3388" stroke="#ba3388"/>
<path d="M389.7,289.5L391.8,289.2L393.1,287.8L391.0,288.3Z" fill="#c13b82" stroke="#c13b82"/>
<path d="M397.8,283.4L399.8,281.6L401.1,279.9L399.1,281.6Z" fill="#e26561" stroke="#e26561"/>
<path d="M409.2,273.7L411.3,273.1L412.6,273.1L410.6,273.4Z" fill="#f9983e" stroke="#f9983e"/>
<path d="M382.9,291.3L385.0,291.6L386.3,290.6L384.3,290.4Z" fill="#b52f8c" stroke="#b52f8c"/>
<path d="M405.9,275.5L407.9,274.2L409.2,273.7L407.2,274.6Z" fill="#f79143" stroke="#f79143"/>
<path d="M367.4,292.7L369.4,293.1L370.8,292.4L368.7,292.1Z" fill="#b02991" stroke="#b02991"/>
<path d="M425.5,277.6L427.6,279.5L428.9,280.8L426.8,278.7Z" fill="#eb7556" stroke="#eb7556"/>
<path d="M379.6,291.9L381.6,292.2L382.9,291.3L380.9,291.0Z" fill="#b42e8d" stroke="#b42e8d"/>
<path d="M393.1,287.8L395.1,286.8L396.4,285.1L394.4,286.3Z" fill="#cc4977" stroke="#cc4977"/>
<path d="M427.6,279.5L429.6,281.9L430.9,283.4L428.9,280.8Z" fill="#e4695e" stroke="#e4695e"/>
<path d="M364.0,292.8L366.1,293.3L367.4,292.7L365.3,292.3Z" fill="#b02991" stroke="#b02991"/>
<path d="M376.2,292.4L378.2,292.7L379.6,291.9L377.5,291.6Z" fill="#b22b8f" stroke="#b22b8f"/>
<path d="M414.6,273.2L416.7,273.5L418.0,274.0L416.0,273.5Z" fill="#f99a3e" stroke="#f99a3e"/>
<path d="M429.6,281.9L431.7,284.8L433.0,286.3L430.9,283.4Z" fill="#d9586a" stroke="#d9586a"/>
<path d="M431.7,284.8L433.7,288.0L435.0,289.5L433.0,286.3Z" fill="#cb4679" stroke="#cb4679"/>
<path d="M420.1,274.6L422.1,275.4L423.5,276.2L421.4,275.2Z" fill="#f68f44" stroke="#f68f44"/>
<path d="M433.7,288.0L435.8,291.2L437.1,292.5L435.0,289.5Z" fill="#bb3488" stroke="#bb3488"/>
<path d="M401.1,279.9L403.2,277.9L404.5,276.6L402.5,278.3Z" fill="#ef7e50" stroke="#ef7e50"/>
<path d="M372.8,292.8L374.9,293.1L376.2,292.4L374.2,292.1Z" fill="#b22b8f" stroke="#b22b8f"/>
<path d="M435.8,291.2L437.8,294.1L439.1,295.2L437.1,292.5Z" fill="#ae2892" stroke="#ae2892"/>
<path d="M360.6,292.9L362.7,293.4L364.0,292.8L362.0,292.4Z" fill="#b12a90" stroke="#b12a90"/>
<path d="M396.4,285.1L398.5,283.4L399.8,281.6L397.8,283.4Z" fill="#dd5e66" stroke="#dd5e66"/>
<path d="M437.8,294.1L439.9,296.6L441.2,297.4L439.1,295.2Z" fill="#a51f99" stroke="#a51f99"/>
<path d="M388.4,290.7L390.4,290.6L391.8,289.2L389.7,289.5Z" fill="#be3885" stroke="#be3885"/>
<path d="M369.4,293.1L371.5,293.4L372.8,292.8L370.8,292.4Z" fill="#b12a90" stroke="#b12a90"/>
<path d="M385.0,291.6L387.1,291.8L388.4,290.7L386.3,290.6Z" fill="#b7318a" stroke="#b7318a"/>
<path d="M411.3,273.1L413.3,273.0L414.6,273.2L412.6,273.1Z" fill="#fb9f3a" stroke="#fb9f3a"/>
<path d="M391.8,289.2L393.8,288.5L395.1,286.8L393.1,287.8Z" fill="#c8437b" stroke="#c8437b"/>
<path d="M381.6,292.2L383.7,292.5L385.0,291.6L382.9,291.3Z" fill="#b52f8c" stroke="#b52f8c"/>
<path d="M404.5,276.6L406.6,275.0L407.9,274.2L405.9,275.5Z" fill="#f79143" stroke="#f79143"/>
<path d="M366.1,293.3L368.1,293.7L369.4,293.1L367.4,292.7Z" fill="#b12a90" stroke="#b12a90"/>
<path d="M422.1,275.4L424.2,276.6L425.5,277.6L423.5,276.2Z" fill="#f58b47" stroke="#f58b47"/>
<path d="M407.9,274.2L409.9,273.3L411.3,273.1L409.2,273.7Z" fill="#fa9e3b" stroke="#fa9e3b"/>
<path d="M378.2,292.7L380.3,293.0L381.6,292.2L379.6,291.9Z" fill="#b42e8d" stroke="#b42e8d"/>
<path d="M416.7,273.5L418.8,274.1L420.1,274.6L418.0,274.0Z" fill="#f99a3e" stroke="#f99a3e"/>
<path d="M399.8,281.6L401.9,279.6L403.2,277.9L401.1,279.9Z" fill="#ec7754" stroke="#ec7754"/>
<path d="M374.9,293.1L376.9,293.5L378.2,292.7L376.2,292.4Z" fill="#b32c8e" stroke="#b32c8e"/>
<path d="M362.7,293.4L364.8,293.9L366.1,293.3L364.0,292.8Z" fill="#b12a90" stroke="#b12a90"/>
<path d="M395.1,286.8L397.2,285.3L398.5,283.4L396.4,285.1Z" fill="#d7566c" stroke="#d7566c"/>
<path d="M424.2,276.6L426.2,278.2L427.6,279.5L425.5,277.6Z" fill="#f2844b" stroke="#f2844b"/>
<path d="M371.5,293.4L373.5,293.8L374.9,293.1L372.8,292.8Z" fill="#b22b8f" stroke="#b22b8f"/>
<path d="M387.1,291.8L389.1,291.8L390.4,290.6L388.4,290.7Z" fill="#bb3488" stroke="#bb3488"/>
<path d="M383.7,292.5L385.7,292.8L387.1,291.8L385.0,291.6Z" fill="#b6308b" stroke="#b6308b"/>
<path d="M390.4,290.6L392.5,290.1L393.8,288.5L391.8,289.2Z" fill="#c43e7f" stroke="#c43e7f"/>
<path d="M413.3,273.0L415.4,273.1L416.7,273.5L414.6,273.2Z" fill="#fca338" stroke="#fca338"/>
<path d="M368.1,293.7L370.2,294.1L371.5,293.4L369.4,293.1Z" fill="#b22b8f" stroke="#b22b8f"/>
<path d="M418.8,274.1L420.8,274.7L422.1,275.4L420.1,274.6Z" fill="#f99a3e" stroke="#f99a3e"/>
<path d="M426.2,278.2L428.3,280.4L429.6,281.9L427.6,279.5Z" fill="#ed7a52" stroke="#ed7a52"/>
<path d="M403.2,277.9L405.2,276.1L406.6,275.0L404.5,276.6Z" fill="#f79044" stroke="#f79044"/>
<path d="M380.3,293.0L382.4,293.4L383.7,292.5L381.6,292.2Z" fill="#b52f8c" stroke="#b52f8c"/>
<path d="M398.5,283.4L400.6,281.4L401.9,279.6L399.8,281.6Z" fill="#e87059" stroke="#e87059"/>
<path d="M428.3,280.4L430.3,283.1L431.7,284.8L429.6,281.9Z" fill="#e56a5d" stroke="#e56a5d"/>
<path d="M364.8,293.9L366.8,294.4L368.1,293.7L366.1,293.3Z" fill="#b22b8f" stroke="#b22b8f"/>
<path d="M393.8,288.5L395.9,287.2L397.2,285.3L395.1,286.8Z" fill="#d24f71" stroke="#d24f71"/>
<path d="M376.9,293.5L379.0,293.8L380.3,293.0L378.2,292.7Z" fill="#b42e8d" stroke="#b42e8d"/>
<path d="M409.9,273.3L412.0,272.9L413.3,273.0L411.3,273.1Z" fill="#fca636" stroke="#fca636"/>
<path d="M430.3,283.1L432.4,286.2L433.7,288.0L431.7,284.8Z" fill="#d9586a" stroke="#d9586a"/>
<path d="M432.4,286.2L434.4,289.5L435.8,291.2L433.7,288.0Z" fill="#ca457a" stroke="#ca457a"/>
<path d="M434.4,289.5L436.5,292.7L437.8,294.1L435.8,291.2Z" fill="#ba3388" stroke="#ba3388"/>
<path d="M406.6,275.0L408.6,273.8L409.9,273.3L407.9,274.2Z" fill="#fb9f3a" stroke="#fb9f3a"/>
<path d="M436.5,292.7L438.5,295.5L439.9,296.6L437.8,294.1Z" fill="#ae2892" stroke="#ae2892"/>
<path d="M373.5,293.8L375.6,294.2L376.9,293.5L374.9,293.1Z" fill="#b32c8e" stroke="#b32c8e"/>
<path d="M415.4,273.1L417.4,273.6L418.8,274.1L416.7,273.5Z" fill="#fca537" stroke="#fca537"/>
<path d="M420.8,274.7L422.8,275.7L424.2,276.6L422.1,275.4Z" fill="#f9983e" stroke="#f9983e"/>
<path d="M385.7,292.8L387.8,292.9L389.1,291.8L387.1,291.8Z" fill="#ba3388" stroke="#ba3388"/>
<path d="M389.1,291.8L391.1,291.5L392.5,290.1L390.4,290.6Z" fill="#c03a83" stroke="#c03a83"/>
<path d="M370.2,294.1L372.2,294.5L373.5,293.8L371.5,293.4Z" fill="#b22b8f" stroke="#b22b8f"/>
<path d="M382.4,293.4L384.4,293.7L385.7,292.8L383.7,292.5Z" fill="#b6308b" stroke="#b6308b"/>
<path d="M401.9,279.6L403.9,277.5L405.2,276.1L403.2,277.9Z" fill="#f58c46" stroke="#f58c46"/>
<path d="M397.2,285.3L399.2,283.4L400.6,281.4L398.5,283.4Z" fill="#e3685f" stroke="#e3685f"/>
<path d="M392.5,290.1L394.5,289.1L395.9,287.2L393.8,288.5Z" fill="#cc4977" stroke="#cc4977"/>
<path d="M366.8,294.4L368.9,294.8L370.2,294.1L368.1,293.7Z" fill="#b22b8f" stroke="#b22b8f"/>
<path d="M379.0,293.8L381.0,294.2L382.4,293.4L380.3,293.0Z" fill="#b42e8d" stroke="#b42e8d"/>
<path d="M412.0,272.9L414.1,272.9L415.4,273.1L413.3,273.0Z" fill="#fdac33" stroke="#fdac33"/>
<path d="M422.8,275.7L424.9,277.0L426.2,278.2L424.2,276.6Z" fill="#f79342" stroke="#f79342"/>
<path d="M375.6,294.2L377.6,294.6L379.0,293.8L376.9,293.5Z" fill="#b42e8d" stroke="#b42e8d"/>
<path d="M405.2,276.1L407.3,274.5L408.6,273.8L406.6,275.0Z" fill="#fba139" stroke="#fba139"/>
<path d="M417.4,273.6L419.5,274.1L420.8,274.7L418.8,274.1Z" fill="#fca537" stroke="#fca537"/>
<path d="M408.6,273.8L410.7,273.0L412.0,272.9L409.9,273.3Z" fill="#fdab33" stroke="#fdab33"/>
<path d="M372.2,294.5L374.3,295.0L375.6,294.2L373.5,293.8Z" fill="#b32c8e" stroke="#b32c8e"/>
<path d="M395.9,287.2L397.9,285.4L399.2,283.4L397.2,285.3Z" fill="#de5f65" stroke="#de5f65"/>
<path d="M387.8,292.9L389.8,292.9L391.1,291.5L389.1,291.8Z" fill="#bd3786" stroke="#bd3786"/>
<path d="M424.9,277.0L426.9,278.9L428.3,280.4L426.2,278.2Z" fill="#f48948" stroke="#f48948"/>
<path d="M384.4,293.7L386.4,294.0L387.8,292.9L385.7,292.8Z" fill="#b7318a" stroke="#b7318a"/>
<path d="M400.6,281.4L402.6,279.2L403.9,277.5L401.9,279.6Z" fill="#f3854b" stroke="#f3854b"/>
<path d="M368.9,294.8L370.9,295.3L372.2,294.5L370.2,294.1Z" fill="#b32c8e" stroke="#b32c8e"/>
<path d="M391.1,291.5L393.2,290.8L394.5,289.1L392.5,290.1Z" fill="#c8437b" stroke="#c8437b"/>
<path d="M381.0,294.2L383.1,294.6L384.4,293.7L382.4,293.4Z" fill="#b52f8c" stroke="#b52f8c"/>
<path d="M426.9,278.9L429.0,281.4L430.3,283.1L428.3,280.4Z" fill="#ef7c51" stroke="#ef7c51"/>
<path d="M433.1,287.7L435.1,291.1L436.5,292.7L434.4,289.5Z" fill="#c9447a" stroke="#c9447a"/>
<path d="M429.0,281.4L431.1,284.4L432.4,286.2L430.3,283.1Z" fill="#e56b5d" stroke="#e56b5d"/>
<path d="M431.1,284.4L433.1,287.7L434.4,289.5L432.4,286.2Z" fill="#d9586a" stroke="#d9586a"/>
<path d="M435.1,291.1L437.2,294.2L438.5,295.5L436.5,292.7Z" fill="#b83289" stroke="#b83289"/>
<path d="M414.1,272.9L416.1,273.1L417.4,273.6L415.4,273.1Z" fill="#fdae32" stroke="#fdae32"/>
<path d="M377.6,294.6L379.7,295.0L381.0,294.2L379.0,293.8Z" fill="#b42e8d" stroke="#b42e8d"/>
<path d="M419.5,274.1L421.5,274.9L422.8,275.7L420.8,274.7Z" fill="#fca338" stroke="#fca338"/>
<path d="M394.5,289.1L396.6,287.5L397.9,285.4L395.9,287.2Z" fill="#d8576b" stroke="#d8576b"/>
<path d="M403.9,277.5L406.0,275.6L407.3,274.5L405.2,276.1Z" fill="#fa9e3b" stroke="#fa9e3b"/>
<path d="M374.3,295.0L376.3,295.4L377.6,294.6L375.6,294.2Z" fill="#b42e8d" stroke="#b42e8d"/>
<path d="M399.2,283.4L401.3,281.1L402.6,279.2L400.6,281.4Z" fill="#ef7e50" stroke="#ef7e50"/>
<path d="M410.7,273.0L412.7,272.8L414.1,272.9L412.0,272.9Z" fill="#fdb42f" stroke="#fdb42f"/>
<path d="M386.4,294.0L388.5,294.1L389.8,292.9L387.8,292.9Z" fill="#bb3488" stroke="#bb3488"/>
<path d="M370.9,295.3L372.9,295.7L374.3,295.0L372.2,294.5Z" fill="#b32c8e" stroke="#b32c8e"/>
<path d="M407.3,274.5L409.3,273.5L410.7,273.0L408.6,273.8Z" fill="#fdae32" stroke="#fdae32"/>
<path d="M389.8,292.9L391.9,292.4L393.2,290.8L391.1,291.5Z" fill="#c33d80" stroke="#c33d80"/>
<path d="M383.1,294.6L385.1,294.9L386.4,294.0L384.4,293.7Z" fill="#b6308b" stroke="#b6308b"/>
<path d="M421.5,274.9L423.6,276.0L424.9,277.0L422.8,275.7Z" fill="#fba139" stroke="#fba139"/>
<path d="M416.1,273.1L418.2,273.6L419.5,274.1L417.4,273.6Z" fill="#fdaf31" stroke="#fdaf31"/>
<path d="M379.7,295.0L381.8,295.5L383.1,294.6L381.0,294.2Z" fill="#b52f8c" stroke="#b52f8c"/>
<path d="M393.2,290.8L395.2,289.5L396.6,287.5L394.5,289.1Z" fill="#d24f71" stroke="#d24f71"/>
<path d="M397.9,285.4L400.0,283.2L401.3,281.1L399.2,283.4Z" fill="#ea7457" stroke="#ea7457"/>
<path d="M376.3,295.4L378.4,295.8L379.7,295.0L377.6,294.6Z" fill="#b42e8d" stroke="#b42e8d"/>
<path d="M402.6,279.2L404.6,277.1L406.0,275.6L403.9,277.5Z" fill="#f99a3e" stroke="#f99a3e"/>
<path d="M423.6,276.0L425.6,277.6L426.9,278.9L424.9,277.0Z" fill="#f99a3e" stroke="#f99a3e"/>
<path d="M412.7,272.8L414.8,272.9L416.1,273.1L414.1,272.9Z" fill="#feb82c" stroke="#feb82c"/>
<path d="M372.9,295.7L375.0,296.2L376.3,295.4L374.3,295.0Z" fill="#b42e8d" stroke="#b42e8d"/>
<path d="M388.5,294.1L390.6,293.8L391.9,292.4L389.8,292.9Z" fill="#c03a83" stroke="#c03a83"/>
<path d="M385.1,294.9L387.2,295.2L388.5,294.1L386.4,294.0Z" fill="#b83289" stroke="#b83289"/>
<path d="M418.2,273.6L420.2,274.3L421.5,274.9L419.5,274.1Z" fill="#fdaf31" stroke="#fdaf31"/>
<path d="M425.6,277.6L427.7,279.9L429.0,281.4L426.9,278.9Z" fill="#f68f44" stroke="#f68f44"/>
<path d="M406.0,275.6L408.0,274.2L409.3,273.5L407.3,274.5Z" fill="#fdaf31" stroke="#fdaf31"/>
<path d="M381.8,295.5L383.8,295.9L385.1,294.9L383.1,294.6Z" fill="#b6308b" stroke="#b6308b"/>
<path d="M409.3,273.5L411.4,272.9L412.7,272.8L410.7,273.0Z" fill="#feb82c" stroke="#feb82c"/>
<path d="M433.8,289.4L435.9,292.7L437.2,294.2L435.1,291.1Z" fill="#c8437b" stroke="#c8437b"/>
<path d="M431.8,285.9L433.8,289.4L435.1,291.1L433.1,287.7Z" fill="#d7566c" stroke="#d7566c"/>
<path d="M427.7,279.9L429.7,282.7L431.1,284.4L429.0,281.4Z" fill="#f07f4f" stroke="#f07f4f"/>
<path d="M396.6,287.5L398.6,285.4L400.0,283.2L397.9,285.4Z" fill="#e56a5d" stroke="#e56a5d"/>
<path d="M391.9,292.4L393.9,291.4L395.2,289.5L393.2,290.8Z" fill="#cc4778" stroke="#cc4778"/>
<path d="M429.7,282.7L431.8,285.9L433.1,287.7L431.1,284.4Z" fill="#e56b5d" stroke="#e56b5d"/>
<path d="M378.4,295.8L380.4,296.3L381.8,295.5L379.7,295.0Z" fill="#b52f8c" stroke="#b52f8c"/>
<path d="M401.3,281.1L403.3,278.8L404.6,277.1L402.6,279.2Z" fill="#f79342" stroke="#f79342"/>
<path d="M375.0,296.2L377.1,296.6L378.4,295.8L376.3,295.4Z" fill="#b52f8c" stroke="#b52f8c"/>
<path d="M414.8,272.9L416.8,273.3L418.2,273.6L416.1,273.1Z" fill="#feba2c" stroke="#feba2c"/>
<path d="M420.2,274.3L422.2,275.2L423.6,276.0L421.5,274.9Z" fill="#fdae32" stroke="#fdae32"/>
<path d="M387.2,295.2L389.2,295.1L390.6,293.8L388.5,294.1Z" fill="#bd3786" stroke="#bd3786"/>
<path d="M395.2,289.5L397.3,287.7L398.6,285.4L396.6,287.5Z" fill="#de5f65" stroke="#de5f65"/>
<path d="M383.8,295.9L385.8,296.2L387.2,295.2L385.1,294.9Z" fill="#b7318a" stroke="#b7318a"/>
<path d="M390.6,293.8L392.6,293.2L393.9,291.4L391.9,292.4Z" fill="#c7427c" stroke="#c7427c"/>
<path d="M404.6,277.1L406.7,275.4L408.0,274.2L406.0,275.6Z" fill="#fdac33" stroke="#fdac33"/>
<path d="M411.4,272.9L413.4,272.9L414.8,272.9L412.7,272.8Z" fill="#fec029" stroke="#fec029"/>
<path d="M400.0,283.2L402.0,280.9L403.3,278.8L401.3,281.1Z" fill="#f48948" stroke="#f48948"/>
<path d="M380.4,296.3L382.5,296.7L383.8,295.9L381.8,295.5Z" fill="#b6308b" stroke="#b6308b"/>
<path d="M422.2,275.2L424.3,276.6L425.6,277.6L423.6,276.0Z" fill="#fca835" stroke="#fca835"/>
<path d="M408.0,274.2L410.1,273.4L411.4,272.9L409.3,273.5Z" fill="#febd2a" stroke="#febd2a"/>
<path d="M416.8,273.3L418.9,273.9L420.2,274.3L418.2,273.6Z" fill="#feba2c" stroke="#feba2c"/>
<path d="M377.1,296.6L379.1,297.1L380.4,296.3L378.4,295.8Z" fill="#b52f8c" stroke="#b52f8c"/>
<path d="M393.9,291.4L396.0,289.9L397.3,287.7L395.2,289.5Z" fill="#d7566c" stroke="#d7566c"/>
<path d="M424.3,276.6L426.4,278.5L427.7,279.9L425.6,277.6Z" fill="#fb9f3a" stroke="#fb9f3a"/>
<path d="M398.6,285.4L400.7,283.2L402.0,280.9L400.0,283.2Z" fill="#f07f4f" stroke="#f07f4f"/>
<path d="M385.8,296.2L387.9,296.3L389.2,295.1L387.2,295.2Z" fill="#bb3488" stroke="#bb3488"/>
<path d="M389.2,295.1L391.3,294.7L392.6,293.2L390.6,293.8Z" fill="#c33d80" stroke="#c33d80"/>
<path d="M403.3,278.8L405.4,276.9L406.7,275.4L404.6,277.1Z" fill="#fca636" stroke="#fca636"/>
<path d="M432.5,287.7L434.6,291.1L435.9,292.7L433.8,289.4Z" fill="#d6556d" stroke="#d6556d"/>
<path d="M426.4,278.5L428.4,281.1L429.7,282.7L427.7,279.9Z" fill="#f79143" stroke="#f79143"/>
<path d="M413.4,272.9L415.5,273.2L416.8,273.3L414.8,272.9Z" fill="#fdc328" stroke="#fdc328"/>
<path d="M382.5,296.7L384.5,297.1L385.8,296.2L383.8,295.9Z" fill="#b7318a" stroke="#b7318a"/>
<path d="M430.4,284.2L432.5,287.7L433.8,289.4L431.8,285.9Z" fill="#e56a5d" stroke="#e56a5d"/>
<path d="M428.4,281.1L430.4,284.2L431.8,285.9L429.7,282.7Z" fill="#f07f4f" stroke="#f07f4f"/>
<path d="M418.9,273.9L420.9,274.7L422.2,275.2L420.2,274.3Z" fill="#feba2c" stroke="#feba2c"/>
<path d="M379.1,297.1L381.1,297.6L382.5,296.7L380.4,296.3Z" fill="#b6308b" stroke="#b6308b"/>
<path d="M392.6,293.2L394.7,292.0L396.0,289.9L393.9,291.4Z" fill="#d04d73" stroke="#d04d73"/>
<path d="M410.1,273.4L412.1,273.2L413.4,272.9L411.4,272.9Z" fill="#fdc527" stroke="#fdc527"/>
<path d="M406.7,275.4L408.8,274.3L410.1,273.4L408.0,274.2Z" fill="#febd2a" stroke="#febd2a"/>
<path d="M397.3,287.7L399.3,285.5L400.7,283.2L398.6,285.4Z" fill="#ea7457" stroke="#ea7457"/>
<path d="M402.0,280.9L404.1,278.8L405.4,276.9L403.3,278.8Z" fill="#fb9f3a" stroke="#fb9f3a"/>
<path d="M415.5,273.2L417.5,273.8L418.9,273.9L416.8,273.3Z" fill="#fdc328" stroke="#fdc328"/>
<path d="M420.9,274.7L423.0,275.8L424.3,276.6L422.2,275.2Z" fill="#fdb52e" stroke="#fdb52e"/>
<path d="M387.9,296.3L389.9,296.2L391.3,294.7L389.2,295.1Z" fill="#bf3984" stroke="#bf3984"/>
<path d="M384.5,297.1L386.6,297.4L387.9,296.3L385.8,296.2Z" fill="#b83289" stroke="#b83289"/>
<path d="M381.1,297.6L383.2,298.0L384.5,297.1L382.5,296.7Z" fill="#b6308b" stroke="#b6308b"/>
<path d="M396.0,289.9L398.0,287.9L399.3,285.5L397.3,287.7Z" fill="#e3685f" stroke="#e3685f"/>
<path d="M391.3,294.7L393.3,293.8L394.7,292.0L392.6,293.2Z" fill="#cb4679" stroke="#cb4679"/>
<path d="M412.1,273.2L414.2,273.4L415.5,273.2L413.4,272.9Z" fill="#fdca26" stroke="#fdca26"/>
<path d="M423.0,275.8L425.0,277.5L426.4,278.5L424.3,276.6Z" fill="#fdae32" stroke="#fdae32"/>
<path d="M405.4,276.9L407.4,275.5L408.8,274.3L406.7,275.4Z" fill="#feb82c" stroke="#feb82c"/>
<path d="M400.7,283.2L402.7,280.9L404.1,278.8L402.0,280.9Z" fill="#f89540" stroke="#f89540"/>
<path d="M408.8,274.3L410.8,273.8L412.1,273.2L410.1,273.4Z" fill="#fdc827" stroke="#fdc827"/>
<path d="M417.5,273.8L419.6,274.5L420.9,274.7L418.9,273.9Z" fill="#fdc328" stroke="#fdc328"/>
<path d="M425.0,277.5L427.1,279.8L428.4,281.1L426.4,278.5Z" fill="#fba139" stroke="#fba139"/>
<path d="M431.2,286.1L433.2,289.7L434.6,291.1L432.5,287.7Z" fill="#e26660" stroke="#e26660"/>
<path d="M394.7,292.0L396.7,290.2L398.0,287.9L396.0,289.9Z" fill="#dc5d67" stroke="#dc5d67"/>
<path d="M386.6,297.4L388.6,297.4L389.9,296.2L387.9,296.3Z" fill="#bd3786" stroke="#bd3786"/>
<path d="M427.1,279.8L429.1,282.8L430.4,284.2L428.4,281.1Z" fill="#f79044" stroke="#f79044"/>
<path d="M429.1,282.8L431.2,286.1L432.5,287.7L430.4,284.2Z" fill="#ef7c51" stroke="#ef7c51"/>
<path d="M383.2,298.0L385.2,298.4L386.6,297.4L384.5,297.1Z" fill="#b7318a" stroke="#b7318a"/>
<path d="M389.9,296.2L392.0,295.6L393.3,293.8L391.3,294.7Z" fill="#c6417d" stroke="#c6417d"/>
<path d="M399.3,285.5L401.4,283.3L402.7,280.9L400.7,283.2Z" fill="#f48948" stroke="#f48948"/>
<path d="M414.2,273.4L416.2,273.9L417.5,273.8L415.5,273.2Z" fill="#fdcb26" stroke="#fdcb26"/>
<path d="M404.1,278.8L406.1,277.1L407.4,275.5L405.4,276.9Z" fill="#fdb22f" stroke="#fdb22f"/>
<path d="M419.6,274.5L421.6,275.4L423.0,275.8L420.9,274.7Z" fill="#fdc229" stroke="#fdc229"/>
<path d="M393.3,293.8L395.4,292.4L396.7,290.2L394.7,292.0Z" fill="#d5546e" stroke="#d5546e"/>
<path d="M410.8,273.8L412.9,273.8L414.2,273.4L412.1,273.2Z" fill="#fcce25" stroke="#fcce25"/>
<path d="M407.4,275.5L409.5,274.7L410.8,273.8L408.8,274.3Z" fill="#fdc627" stroke="#fdc627"/>
<path d="M398.0,287.9L400.1,285.7L401.4,283.3L399.3,285.5Z" fill="#ef7e50" stroke="#ef7e50"/>
<path d="M385.2,298.4L387.3,298.6L388.6,297.4L386.6,297.4Z" fill="#bb3488" stroke="#bb3488"/>
<path d="M388.6,297.4L390.7,297.1L392.0,295.6L389.9,296.2Z" fill="#c23c81" stroke="#c23c81"/>
<path d="M421.6,275.4L423.7,276.9L425.0,277.5L423.0,275.8Z" fill="#feba2c" stroke="#feba2c"/>
<path d="M416.2,273.9L418.3,274.6L419.6,274.5L417.5,273.8Z" fill="#fdcb26" stroke="#fdcb26"/>
<path d="M402.7,280.9L404.8,279.1L406.1,277.1L404.1,278.8Z" fill="#fca934" stroke="#fca934"/>
<path d="M392.0,295.6L394.0,294.4L395.4,292.4L393.3,293.8Z" fill="#cf4c74" stroke="#cf4c74"/>
<path d="M423.7,276.9L425.8,278.9L427.1,279.8L425.0,277.5Z" fill="#fdaf31" stroke="#fdaf31"/>
<path d="M396.7,290.2L398.8,288.1L400.1,285.7L398.0,287.9Z" fill="#e97158" stroke="#e97158"/>
<path d="M412.9,273.8L414.9,274.3L416.2,273.9L414.2,273.4Z" fill="#fcd025" stroke="#fcd025"/>
<path d="M429.8,284.8L431.9,288.3L433.2,289.7L431.2,286.1Z" fill="#ec7754" stroke="#ec7754"/>
<path d="M425.8,278.9L427.8,281.6L429.1,282.8L427.1,279.8Z" fill="#fba139" stroke="#fba139"/>
<path d="M406.1,277.1L408.2,276.1L409.5,274.7L407.4,275.5Z" fill="#fdc328" stroke="#fdc328"/>
<path d="M427.8,281.6L429.8,284.8L431.2,286.1L429.1,282.8Z" fill="#f68d45" stroke="#f68d45"/>
<path d="M418.3,274.6L420.3,275.4L421.6,275.4L419.6,274.5Z" fill="#fdca26" stroke="#fdca26"/>
<path d="M409.5,274.7L411.5,274.6L412.9,273.8L410.8,273.8Z" fill="#fcce25" stroke="#fcce25"/>
<path d="M401.4,283.3L403.4,281.2L404.8,279.1L402.7,280.9Z" fill="#fa9e3b" stroke="#fa9e3b"/>
<path d="M387.3,298.6L389.4,298.5L390.7,297.1L388.6,297.4Z" fill="#bf3984" stroke="#bf3984"/>
<path d="M395.4,292.4L397.4,290.4L398.8,288.1L396.7,290.2Z" fill="#e26660" stroke="#e26660"/>
<path d="M390.7,297.1L392.7,296.3L394.0,294.4L392.0,295.6Z" fill="#ca457a" stroke="#ca457a"/>
<path d="M414.9,274.3L416.9,275.0L418.3,274.6L416.2,273.9Z" fill="#fcd025" stroke="#fcd025"/>
<path d="M420.3,275.4L422.4,276.7L423.7,276.9L421.6,275.4Z" fill="#fdc527" stroke="#fdc527"/>
<path d="M400.1,285.7L402.1,283.5L403.4,281.2L401.4,283.3Z" fill="#f79342" stroke="#f79342"/>
<path d="M404.8,279.1L406.8,277.7L408.2,276.1L406.1,277.1Z" fill="#febb2b" stroke="#febb2b"/>
<path d="M411.5,274.6L413.6,275.0L414.9,274.3L412.9,273.8Z" fill="#fbd324" stroke="#fbd324"/>
<path d="M394.0,294.4L396.1,292.7L397.4,290.4L395.4,292.4Z" fill="#db5c68" stroke="#db5c68"/>
<path d="M408.2,276.1L410.2,275.7L411.5,274.6L409.5,274.7Z" fill="#fccd25" stroke="#fccd25"/>
<path d="M422.4,276.7L424.4,278.5L425.8,278.9L423.7,276.9Z" fill="#febb2b" stroke="#febb2b"/>
<path d="M389.4,298.5L391.4,297.9L392.7,296.3L390.7,297.1Z" fill="#c5407e" stroke="#c5407e"/>
<path d="M416.9,275.0L419.0,275.8L420.3,275.4L418.3,274.6Z" fill="#fcce25" stroke="#fcce25"/>
<path d="M398.8,288.1L400.8,285.8L402.1,283.5L400.1,285.7Z" fill="#f3874a" stroke="#f3874a"/>
<path d="M424.4,278.5L426.5,280.9L427.8,281.6L425.8,278.9Z" fill="#fdae32" stroke="#fdae32"/>
<path d="M403.4,281.2L405.5,279.6L406.8,277.7L404.8,279.1Z" fill="#fdb130" stroke="#fdb130"/>
<path d="M428.5,283.8L430.6,287.1L431.9,288.3L429.8,284.8Z" fill="#f3874a" stroke="#f3874a"/>
<path d="M426.5,280.9L428.5,283.8L429.8,284.8L427.8,281.6Z" fill="#fa9b3d" stroke="#fa9b3d"/>
<path d="M413.6,275.0L415.6,275.6L416.9,275.0L414.9,274.3Z" fill="#fbd324" stroke="#fbd324"/>
<path d="M392.7,296.3L394.8,294.9L396.1,292.7L394.0,294.4Z" fill="#d5536f" stroke="#d5536f"/>
<path d="M397.4,290.4L399.5,288.3L400.8,285.8L398.8,288.1Z" fill="#ee7b51" stroke="#ee7b51"/>
<path d="M419.0,275.8L421.1,276.9L422.4,276.7L420.3,275.4Z" fill="#fdcb26" stroke="#fdcb26"/>
<path d="M406.8,277.7L408.9,277.0L410.2,275.7L408.2,276.1Z" fill="#fdc827" stroke="#fdc827"/>
<path d="M410.2,275.7L412.2,275.9L413.6,275.0L411.5,274.6Z" fill="#fcd225" stroke="#fcd225"/>
<path d="M402.1,283.5L404.2,281.6L405.5,279.6L403.4,281.2Z" fill="#fca636" stroke="#fca636"/>
<path d="M415.6,275.6L417.7,276.4L419.0,275.8L416.9,275.0Z" fill="#fcd225" stroke="#fcd225"/>
<path d="M391.4,297.9L393.4,296.9L394.8,294.9L392.7,296.3Z" fill="#ce4b75" stroke="#ce4b75"/>
<path d="M421.1,276.9L423.1,278.4L424.4,278.5L422.4,276.7Z" fill="#fdc328" stroke="#fdc328"/>
<path d="M396.1,292.7L398.1,290.7L399.5,288.3L397.4,290.4Z" fill="#e76f5a" stroke="#e76f5a"/>
<path d="M412.2,275.9L414.3,276.4L415.6,275.6L413.6,275.0Z" fill="#fbd324" stroke="#fbd324"/>
<path d="M405.5,279.6L407.6,278.6L408.9,277.0L406.8,277.7Z" fill="#fec029" stroke="#fec029"/>
<path d="M423.1,278.4L425.1,280.4L426.5,280.9L424.4,278.5Z" fill="#feb82c" stroke="#feb82c"/>
<path d="M400.8,285.8L402.9,283.8L404.2,281.6L402.1,283.5Z" fill="#fa9b3d" stroke="#fa9b3d"/>
<path d="M408.9,277.0L410.9,276.9L412.2,275.9L410.2,275.7Z" fill="#fcd025" stroke="#fcd025"/>
<path d="M425.1,280.4L427.2,283.0L428.5,283.8L426.5,280.9Z" fill="#fca835" stroke="#fca835"/>
<path d="M417.7,276.4L419.7,277.3L421.1,276.9L419.0,275.8Z" fill="#fcce25" stroke="#fcce25"/>
<path d="M427.2,283.0L429.2,286.1L430.6,287.1L428.5,283.8Z" fill="#f89441" stroke="#f89441"/>
<path d="M394.8,294.9L396.8,293.0L398.1,290.7L396.1,292.7Z" fill="#e16462" stroke="#e16462"/>
<path d="M399.5,288.3L401.5,286.1L402.9,283.8L400.8,285.8Z" fill="#f79044" stroke="#f79044"/>
<path d="M414.3,276.4L416.4,277.1L417.7,276.4L415.6,275.6Z" fill="#fcd225" stroke="#fcd225"/>
<path d="M404.2,281.6L406.2,280.3L407.6,278.6L405.5,279.6Z" fill="#feb82c" stroke="#feb82c"/>
<path d="M419.7,277.3L421.8,278.5L423.1,278.4L421.1,276.9Z" fill="#fdca26" stroke="#fdca26"/>
<path d="M410.9,276.9L413.0,277.3L414.3,276.4L412.2,275.9Z" fill="#fbd324" stroke="#fbd324"/>
<path d="M393.4,296.9L395.5,295.3L396.8,293.0L394.8,294.9Z" fill="#da5a6a" stroke="#da5a6a"/>
<path d="M407.6,278.6L409.6,278.2L410.9,276.9L408.9,277.0Z" fill="#fdcb26" stroke="#fdcb26"/>
<path d="M398.1,290.7L400.2,288.5L401.5,286.1L399.5,288.3Z" fill="#f2844b" stroke="#f2844b"/>
<path d="M421.8,278.5L423.8,280.2L425.1,280.4L423.1,278.4Z" fill="#fec029" stroke="#fec029"/>
<path d="M416.4,277.1L418.4,277.9L419.7,277.3L417.7,276.4Z" fill="#fcd025" stroke="#fcd025"/>
<path d="M402.9,283.8L404.9,282.2L406.2,280.3L404.2,281.6Z" fill="#fdae32" stroke="#fdae32"/>
<path d="M423.8,280.2L425.9,282.5L427.2,283.0L425.1,280.4Z" fill="#fdb22f" stroke="#fdb22f"/>
<path d="M413.0,277.3L415.0,277.9L416.4,277.1L414.3,276.4Z" fill="#fbd324" stroke="#fbd324"/>
<path d="M425.9,282.5L427.9,285.3L429.2,286.1L427.2,283.0Z" fill="#fba139" stroke="#fba139"/>
<path d="M396.8,293.0L398.9,290.9L400.2,288.5L398.1,290.7Z" fill="#ec7754" stroke="#ec7754"/>
<path d="M406.2,280.3L408.3,279.6L409.6,278.2L407.6,278.6Z" fill="#fdc527" stroke="#fdc527"/>
<path d="M409.6,278.2L411.6,278.3L413.0,277.3L410.9,276.9Z" fill="#fcd025" stroke="#fcd025"/>
<path d="M418.4,277.9L420.5,278.9L421.8,278.5L419.7,277.3Z" fill="#fccd25" stroke="#fccd25"/>
<path d="M401.5,286.1L403.6,284.3L404.9,282.2L402.9,283.8Z" fill="#fca338" stroke="#fca338"/>
<path d="M395.5,295.3L397.6,293.3L398.9,290.9L396.8,293.0Z" fill="#e66c5c" stroke="#e66c5c"/>
<path d="M415.0,277.9L417.1,278.6L418.4,277.9L416.4,277.1Z" fill="#fcd225" stroke="#fcd225"/>
<path d="M420.5,278.9L422.5,280.3L423.8,280.2L421.8,278.5Z" fill="#fdc627" stroke="#fdc627"/>
<path d="M404.9,282.2L406.9,281.2L408.3,279.6L406.2,280.3Z" fill="#febd2a" stroke="#febd2a"/>
<path d="M411.6,278.3L413.7,278.8L415.0,277.9L413.0,277.3Z" fill="#fcd225" stroke="#fcd225"/>
<path d="M400.2,288.5L402.2,286.5L403.6,284.3L401.5,286.1Z" fill="#f9983e" stroke="#f9983e"/>
<path d="M408.3,279.6L410.3,279.5L411.6,278.3L409.6,278.2Z" fill="#fccd25" stroke="#fccd25"/>
<path d="M422.5,280.3L424.6,282.3L425.9,282.5L423.8,280.2Z" fill="#febb2b" stroke="#febb2b"/>
<path d="M417.1,278.6L419.1,279.5L420.5,278.9L418.4,277.9Z" fill="#fcd025" stroke="#fcd025"/>
<path d="M424.6,282.3L426.6,284.8L427.9,285.3L425.9,282.5Z" fill="#fdac33" stroke="#fdac33"/>
<path d="M398.9,290.9L400.9,288.8L402.2,286.5L400.2,288.5Z" fill="#f58c46" stroke="#f58c46"/>
<path d="M403.6,284.3L405.6,283.0L406.9,281.2L404.9,282.2Z" fill="#fdb42f" stroke="#fdb42f"/>
<path d="M413.7,278.8L415.8,279.5L417.1,278.6L415.0,277.9Z" fill="#fcd225" stroke="#fcd225"/>
<path d="M410.3,279.5L412.4,279.8L413.7,278.8L411.6,278.3Z" fill="#fcd025" stroke="#fcd025"/>
<path d="M419.1,279.5L421.2,280.7L422.5,280.3L420.5,278.9Z" fill="#fdcb26" stroke="#fdcb26"/>
<path d="M406.9,281.2L409.0,280.8L410.3,279.5L408.3,279.6Z" fill="#fdc827" stroke="#fdc827"/>
<path d="M397.6,293.3L399.6,291.2L400.9,288.8L398.9,290.9Z" fill="#f0804e" stroke="#f0804e"/>
<path d="M402.2,286.5L404.3,284.9L405.6,283.0L403.6,284.3Z" fill="#fdab33" stroke="#fdab33"/>
<path d="M415.8,279.5L417.8,280.3L419.1,279.5L417.1,278.6Z" fill="#fcd025" stroke="#fcd025"/>
<path d="M421.2,280.7L423.2,282.3L424.6,282.3L422.5,280.3Z" fill="#fdc229" stroke="#fdc229"/>
<path d="M412.4,279.8L414.4,280.4L415.8,279.5L413.7,278.8Z" fill="#fcd025" stroke="#fcd025"/>
<path d="M423.2,282.3L425.3,284.5L426.6,284.8L424.6,282.3Z" fill="#fdb52e" stroke="#fdb52e"/>
<path d="M405.6,283.0L407.7,282.3L409.0,280.8L406.9,281.2Z" fill="#fdc229" stroke="#fdc229"/>
<path d="M409.0,280.8L411.1,280.9L412.4,279.8L410.3,279.5Z" fill="#fccd25" stroke="#fccd25"/>
<path d="M400.9,288.8L403.0,287.0L404.3,284.9L402.2,286.5Z" fill="#fb9f3a" stroke="#fb9f3a"/>
<path d="M417.8,280.3L419.8,281.2L421.2,280.7L419.1,279.5Z" fill="#fccd25" stroke="#fccd25"/>
<path d="M414.4,280.4L416.5,281.1L417.8,280.3L415.8,279.5Z" fill="#fcd025" stroke="#fcd025"/>
<path d="M404.3,284.9L406.3,283.9L407.7,282.3L405.6,283.0Z" fill="#feba2c" stroke="#feba2c"/>
<path d="M419.8,281.2L421.9,282.6L423.2,282.3L421.2,280.7Z" fill="#fdc627" stroke="#fdc627"/>
<path d="M399.6,291.2L401.6,289.3L403.0,287.0L400.9,288.8Z" fill="#f89441" stroke="#f89441"/>
<path d="M411.1,280.9L413.1,281.4L414.4,280.4L412.4,279.8Z" fill="#fcce25" stroke="#fcce25"/>
<path d="M407.7,282.3L409.7,282.1L411.1,280.9L409.0,280.8Z" fill="#fdca26" stroke="#fdca26"/>
<path d="M421.9,282.6L423.9,284.5L425.3,284.5L423.2,282.3Z" fill="#febb2b" stroke="#febb2b"/>
<path d="M416.5,281.1L418.5,282.0L419.8,281.2L417.8,280.3Z" fill="#fccd25" stroke="#fccd25"/>
<path d="M403.0,287.0L405.0,285.8L406.3,283.9L404.3,284.9Z" fill="#fdaf31" stroke="#fdaf31"/>
<path d="M413.1,281.4L415.2,282.1L416.5,281.1L414.4,280.4Z" fill="#fcce25" stroke="#fcce25"/>
<path d="M409.7,282.1L411.8,282.5L413.1,281.4L411.1,280.9Z" fill="#fccd25" stroke="#fccd25"/>
<path d="M406.3,283.9L408.4,283.5L409.7,282.1L407.7,282.3Z" fill="#fdc328" stroke="#fdc328"/>
<path d="M418.5,282.0L420.6,283.1L421.9,282.6L419.8,281.2Z" fill="#fdca26" stroke="#fdca26"/>
<path d="M401.6,289.3L403.7,287.8L405.0,285.8L403.0,287.0Z" fill="#fca537" stroke="#fca537"/>
<path d="M415.2,282.1L417.2,282.9L418.5,282.0L416.5,281.1Z" fill="#fccd25" stroke="#fccd25"/>
<path d="M420.6,283.1L422.6,284.7L423.9,284.5L421.9,282.6Z" fill="#fec029" stroke="#fec029"/>
<path d="M411.8,282.5L413.8,283.1L415.2,282.1L413.1,281.4Z" fill="#fccd25" stroke="#fccd25"/>
<path d="M405.0,285.8L407.1,285.1L408.4,283.5L406.3,283.9Z" fill="#febb2b" stroke="#febb2b"/>
<path d="M408.4,283.5L410.4,283.7L411.8,282.5L409.7,282.1Z" fill="#fdc827" stroke="#fdc827"/>
<path d="M417.2,282.9L419.2,283.8L420.6,283.1L418.5,282.0Z" fill="#fdca26" stroke="#fdca26"/>
<path d="M413.8,283.1L415.9,283.9L417.2,282.9L415.2,282.1Z" fill="#fdcb26" stroke="#fdcb26"/>
<path d="M403.7,287.8L405.8,286.8L407.1,285.1L405.0,285.8Z" fill="#fdb42f" stroke="#fdb42f"/>
<path d="M419.2,283.8L421.3,285.2L422.6,284.7L420.6,283.1Z" fill="#fdc328" stroke="#fdc328"/>
<path d="M410.4,283.7L412.5,284.2L413.8,283.1L411.8,282.5Z" fill="#fdca26" stroke="#fdca26"/>
<path d="M407.1,285.1L409.1,285.0L410.4,283.7L408.4,283.5Z" fill="#fdc328" stroke="#fdc328"/>
<path d="M415.9,283.9L417.9,284.7L419.2,283.8L417.2,282.9Z" fill="#fdca26" stroke="#fdca26"/>
<path d="M412.5,284.2L414.5,284.9L415.9,283.9L413.8,283.1Z" fill="#fdca26" stroke="#fdca26"/>
<path d="M409.1,285.0L411.2,285.4L412.5,284.2L410.4,283.7Z" fill="#fdc627" stroke="#fdc627"/>
<path d="M405.8,286.8L407.8,286.4L409.1,285.0L407.1,285.1Z" fill="#febd2a" stroke="#febd2a"/>
<path d="M417.9,284.7L420.0,285.8L421.3,285.2L419.2,283.8Z" fill="#fdc527" stroke="#fdc527"/>
<path d="M414.5,284.9L416.6,285.7L417.9,284.7L415.9,283.9Z" fill="#fdc827" stroke="#fdc827"/>
<path d="M411.2,285.4L413.2,286.0L414.5,284.9L412.5,284.2Z" fill="#fdc627" stroke="#fdc627"/>
<path d="M407.8,286.4L409.9,286.6L411.2,285.4L409.1,285.0Z" fill="#fdc229" stroke="#fdc229"/>
<path d="M416.6,285.7L418.6,286.7L420.0,285.8L417.9,284.7Z" fill="#fdc527" stroke="#fdc527"/>
<path d="M413.2,286.0L415.3,286.8L416.6,285.7L414.5,284.9Z" fill="#fdc527" stroke="#fdc527"/>
<path d="M409.9,286.6L411.9,287.1L413.2,286.0L411.2,285.4Z" fill="#fdc328" stroke="#fdc328"/>
<path d="M415.3,286.8L417.3,287.6L418.6,286.7L416.6,285.7Z" fill="#fdc328" stroke="#fdc328"/>
<path d="M411.9,287.1L413.9,287.9L415.3,286.8L413.2,286.0Z" fill="#fdc328" stroke="#fdc328"/>
<path d="M413.9,287.9L416.0,288.7L417.3,287.6L415.3,286.8Z" fill="#fec029" stroke="#fec029"/>
</g>
</g>
<path d="M288.00,306.00 L289.02,305.96 L290.04,305.86 L291.05,305.69 L292.07,305.45 L293.09,305.16 L294.11,304.80 L295.12,304.39 L296.14,303.92 L297.16,303.40 L298.18,302.83 L299.19,302.22 L300.21,301.56 L301.23,300.86 L302.25,300.11 L303.26,299.33 L304.28,298.52 L305.30,297.67 L306.32,296.80 L307.33,295.89 L308.35,294.96 L309.37,294.01 L310.39,293.04 L311.40,292.05 L312.42,291.05 L313.44,290.03 L314.46,289.00 L315.47,287.97 L316.49,286.93 L317.51,285.88 L318.53,284.84 L319.55,283.79 L320.56,282.75 L321.58,281.72 L322.60,280.69 L323.62,279.60 L324.63,278.46 L325.65,277.27 L326.67,276.03 L327.69,274.74 L328.70,273.42 L329.72,272.06 L330.74,270.68 L331.76,269.26 L332.77,267.83 L333.79,266.37 L334.81,264.90 L335.83,263.41 L336.84,261.92 L337.86,260.43 L338.88,258.94 L339.90,257.45 L340.91,255.97 L341.93,254.50 L342.95,253.05 L343.97,251.62 L344.98,250.22 L346.00,248.84 L347.02,247.50 L348.04,246.19 L349.06,244.92 L350.07,243.70 L351.09,242.52 L352.11,241.40 L353.13,240.33 L354.14,239.33 L355.16,238.39 L356.18,237.50 L357.20,236.64 L358.21,235.78 L359.23,234.94 L360.25,234.12 L361.27,233.31 L362.28,232.51 L363.30,231.73 L364.32,230.97 L365.34,230.22 L366.35,229.49 L367.37,228.78 L368.39,228.09 L369.41,227.41 L370.42,226.76 L371.44,226.12 L372.46,225.51 L373.48,224.92 L374.49,224.35 L375.51,223.80 L376.53,223.28 L377.55,222.77 L378.57,222.30 L379.58,221.85 L380.60,221.42 L381.62,221.02 L382.64,220.64 L383.65,220.29 L384.67,219.97 L385.69,219.68 L386.71,219.42 L387.72,219.18 L388.74,218.98 L389.76,218.80 L390.78,218.66 L391.79,218.54 L392.81,218.46 L393.83,218.42 L394.85,218.40 L395.86,218.42 L396.88,218.47 L397.90,218.55 L398.92,218.67 L399.93,218.81 L400.95,218.99 L401.97,219.19 L402.99,219.42 L404.01,219.68 L405.02,219.97 L406.04,220.27 L407.06,220.61 L408.08,220.96 L409.09,221.34 L410.11,221.74 L411.13,222.16 L412.15,222.60 L413.16,223.05 L414.18,223.53 L415.20,224.02 L416.22,224.52 L417.23,225.05 L418.25,225.58 L419.27,226.13 L420.29,226.69 L421.30,227.26 L422.32,227.84 L423.34,228.43 L424.36,229.03 L425.37,229.64 L426.39,230.25 L427.41,230.88 L428.43,231.55 L429.44,232.25 L430.46,233.00 L431.48,233.78 L432.50,234.60 L433.52,235.44 L434.53,236.31 L435.55,237.20 L436.57,238.12 L437.59,239.05 L438.60,239.99 L439.62,240.95 L440.64,241.92 L441.66,242.89 L442.67,243.86 L443.69,244.84 L444.71,245.81 L445.73,246.77 L446.74,247.73 L447.76,248.67 L448.78,249.60 L449.80,250.50 L450.81,251.39 L451.83,252.25 L452.85,253.09 L453.87,253.90 L454.88,254.67 L455.90,255.41 L456.92,256.11 L457.94,256.76 L458.95,257.39 L459.97,258.02 L460.99,258.64 L462.01,259.26 L463.03,259.88 L464.04,260.48 L465.06,261.08 L466.08,261.67 L467.10,262.25 L468.11,262.81 L469.13,263.37 L470.15,263.91 L471.17,264.43 L472.18,264.94 L473.20,265.43 L474.22,265.90 L475.24,266.36 L476.25,266.79 L477.27,267.20 L478.29,267.59 L479.31,267.95 L480.32,268.29 L481.34,268.60 L482.36,268.88 L483.38,269.13 L484.39,269.36 L485.41,269.55 L486.43,269.71 L487.45,269.83 L488.46,269.93 L489.48,269.98 L490.50,270.00" fill="none" stroke="#111" stroke-width="1.8" stroke-linejoin="round"/>
<circle cx="322" cy="281.3" r="2.3" fill="#fff" stroke="#111" stroke-width="1.2"/>
<circle cx="355.6" cy="238" r="2.3" fill="#fff" stroke="#111" stroke-width="1.2"/>
<circle cx="426.8" cy="230.5" r="2.3" fill="#fff" stroke="#111" stroke-width="1.2"/>
<circle cx="458" cy="256.8" r="2.3" fill="#fff" stroke="#111" stroke-width="1.2"/>
<circle cx="394.8" cy="218.4" r="2.4" fill="#eef09a" stroke="#1a1a00" stroke-width="1.2"/>
<circle cx="288" cy="306" r="2.5" fill="#1c1c5c" stroke="#0a0a30" stroke-width="0.8"/>
<circle cx="490.5" cy="270" r="2.5" fill="#1c1c5c" stroke="#0a0a30" stroke-width="0.8"/>
<line x1="490.5" y1="272.5" x2="490.5" y2="280.5" stroke="#b0b0b8" stroke-width="1.0" />
<line x1="490.5" y1="296" x2="490.5" y2="306" stroke="#b0b0b8" stroke-width="1.0" />
<line x1="487.9" y1="306" x2="493.1" y2="306" stroke="#b0b0b8" stroke-width="1.0" />
<line x1="513.8" y1="218.3" x2="513.8" y2="254.5" stroke="#b0b0b8" stroke-width="1.0" />
<line x1="511.2" y1="218.3" x2="516.4" y2="218.3" stroke="#b0b0b8" stroke-width="1.0" />
<line x1="513.8" y1="270" x2="513.8" y2="306" stroke="#b0b0b8" stroke-width="1.0" />
<line x1="511.2" y1="306" x2="516.4" y2="306" stroke="#b0b0b8" stroke-width="1.0" />
<text x="353.8" y="212.1" font-size="10.3" fill="#262626" stroke="#262626" stroke-width="0.18" text-anchor="start" textLength="71.2" lengthAdjust="spacingAndGlyphs" >transition state</text>
<text x="276" y="296.8" font-size="10.3" fill="#262626" stroke="#262626" stroke-width="0.18" text-anchor="start" textLength="25.2" lengthAdjust="spacingAndGlyphs" >initial</text>
<text x="481.0" y="260.2" font-size="10.3" fill="#262626" stroke="#262626" stroke-width="0.18" text-anchor="start" textLength="19.1" lengthAdjust="spacingAndGlyphs" >final</text>
<text x="484.5" y="291.4" font-size="10.3" fill="#262626" stroke="#262626" stroke-width="0.18" text-anchor="start" textLength="11.5" lengthAdjust="spacingAndGlyphs" >Δ<tspan font-style="italic">E</tspan></text>
<text x="507.3" y="266" font-size="10.3" fill="#262626" stroke="#262626" stroke-width="0.18" text-anchor="start" ><tspan font-style="italic">E</tspan><tspan font-size="7" dy="2">m</tspan></text>
</svg></body></html>
